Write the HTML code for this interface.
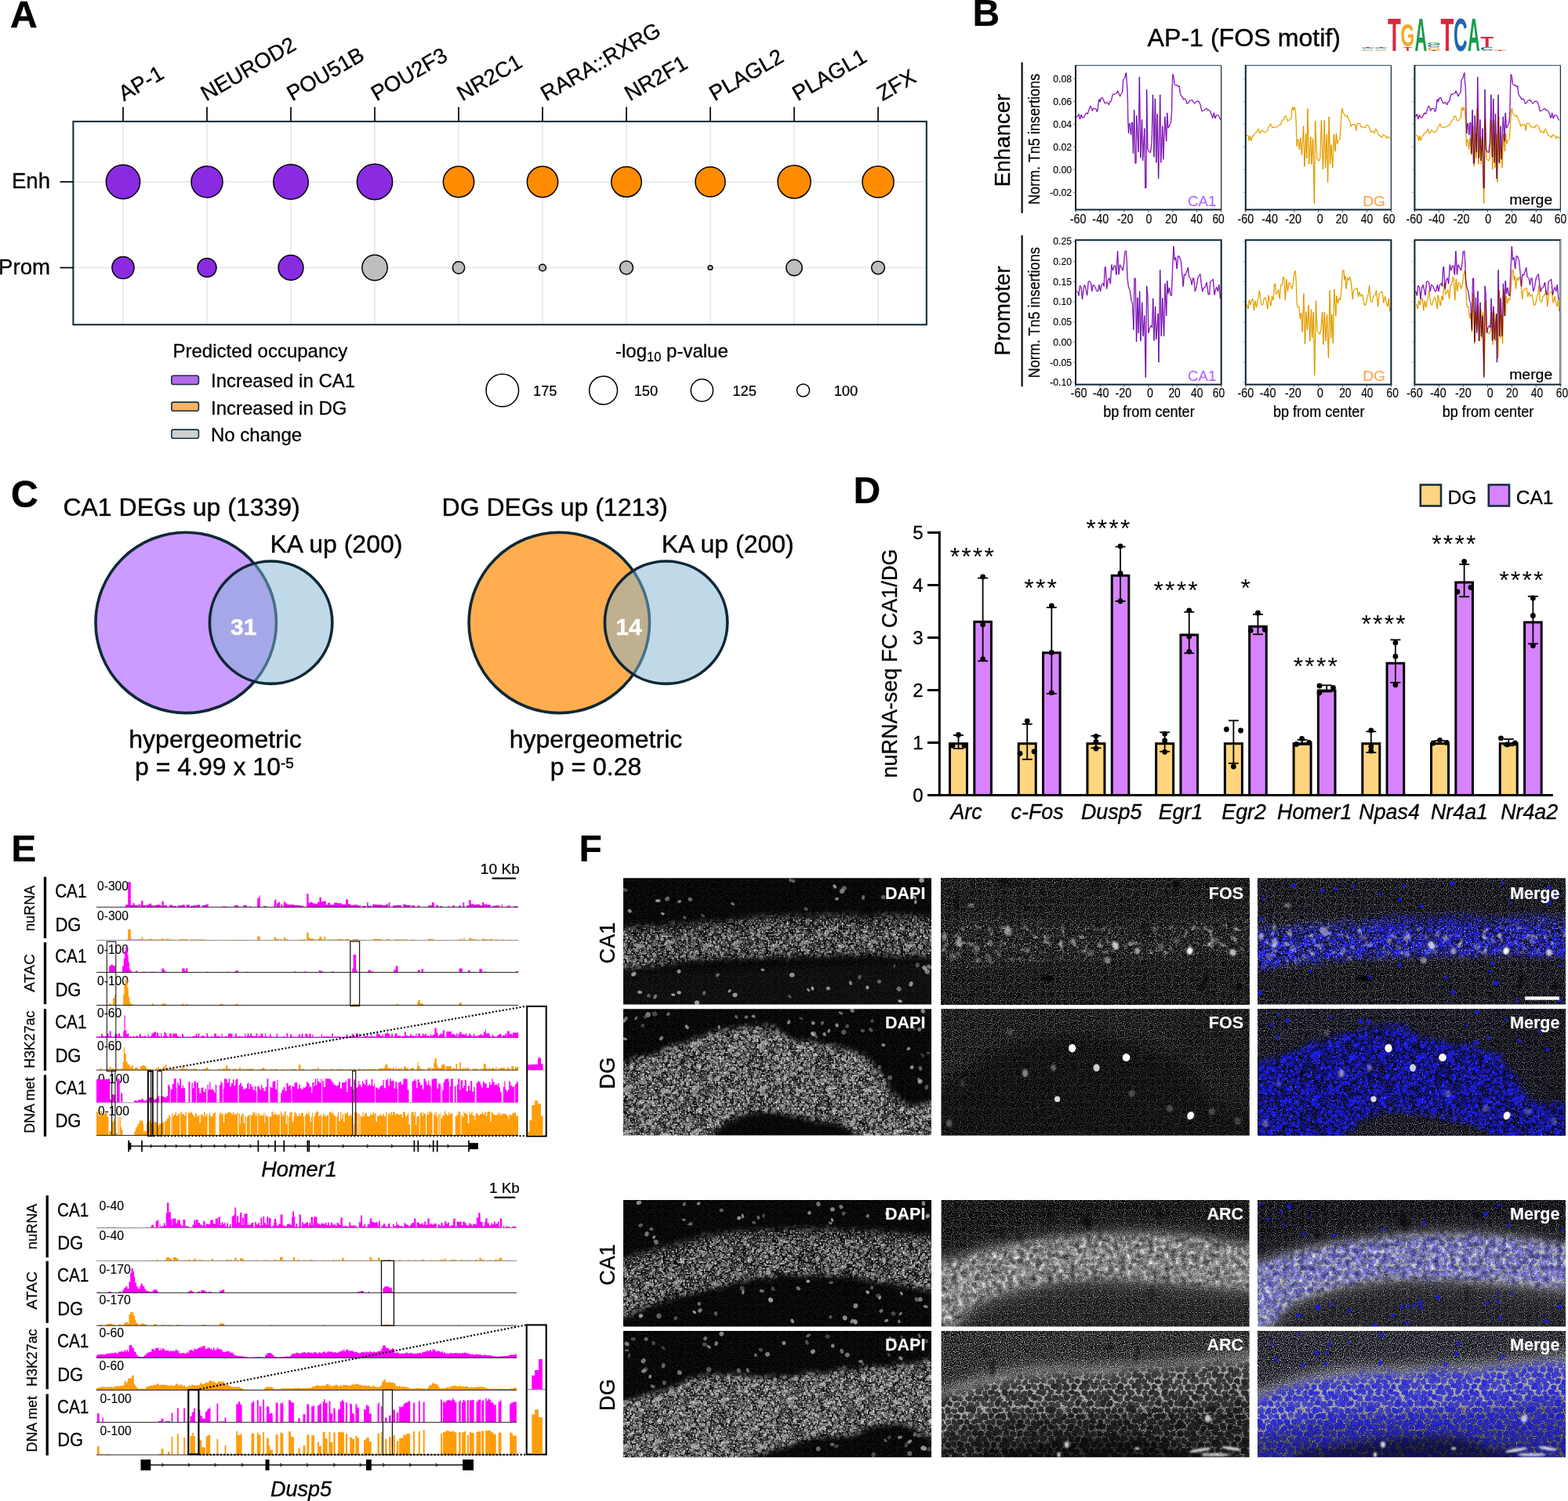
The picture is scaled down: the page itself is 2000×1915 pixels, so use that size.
<!DOCTYPE html>
<html lang="en"><head><meta charset="utf-8"><title>Figure</title>
<style>
html,body{margin:0;padding:0;background:#fff}
body{width:2000px;height:1915px;overflow:hidden}
svg{display:block;font-family:"Liberation Sans", Arial, Helvetica, sans-serif}
</style></head><body>
<svg xmlns="http://www.w3.org/2000/svg" width="2000" height="1915" viewBox="0 0 2000 1915">
<defs>
<path id="bc0" d="M1372.67 149.57 L1374.72 148.03 L1375.74 145.47 L1377.28 152.12 L1378.81 146.5 L1380.35 150.08 L1381.88 150.08 L1383.93 147.01 L1385.46 143.94 L1386.99 145.47 L1389.04 139.34 L1390.58 135.24 L1392.11 137.29 L1393.13 141.38 L1394.67 138.31 L1397.74 138.82 L1398.76 142.4 L1399.78 141.38 L1401.32 128.08 L1402.34 126.55 L1402.85 130.13 L1404.39 125.01 L1405.92 124.5 L1407.46 128.08 L1409.5 132.17 L1411.04 130.64 L1412.57 131.15 L1414.1 133.71 L1415.64 129.62 L1417.17 129.1 L1418.71 121.94 L1419.73 119.9 L1421.27 120.41 L1422.8 119.39 L1424.85 118.36 L1425.36 115.81 L1426.89 119.39 L1428.43 122.97 L1429.96 119.39 L1431.5 117.85 L1432.52 101.99 L1433.54 100.46 L1434.57 98.93 L1435.59 94.32 L1436.41 92.79 L1436.92 104.55 L1437.63 110.69 L1438.15 129.1 L1438.66 153.66 L1439.37 170.03 L1439.68 160.82 L1440.7 157.24 L1442.44 172.07 L1443.26 156.73 L1444.28 156.21 L1445.31 195.6 L1446.53 140.36 L1447.86 208.39 L1448.89 207.88 L1449.6 147.52 L1451.96 194.07 L1453.18 98.41 L1454.82 201.23 L1456.36 152.63 L1457.58 204.81 L1459.63 163.89 L1460.65 240.1 L1461.68 239.59 L1462.49 114.27 L1463.72 190.49 L1465.26 193.55 L1467.3 194.58 L1468.84 182.3 L1470.37 120.92 L1471.91 200.2 L1473.24 126.04 L1474.67 207.37 L1476 145.47 L1477.53 227.83 L1479.58 120.92 L1480.6 207.37 L1482.65 160.82 L1483.67 203.27 L1485.72 149.05 L1487.56 180.26 L1488.58 143.94 L1489.81 163.38 L1491.34 160.82 L1493.39 155.7 L1494.41 141.38 L1494.92 112.74 L1495.64 94.83 L1496.46 96.37 L1496.97 99.44 L1497.99 107.62 L1499.53 109.16 L1501.06 108.13 L1502.6 110.69 L1504.13 109.67 L1505.15 119.39 L1506.69 122.97 L1508.22 123.99 L1509.25 127.06 L1510.78 126.04 L1512.31 127.06 L1513.85 132.17 L1515.38 131.66 L1516.92 128.59 L1518.45 128.08 L1520.5 127.57 L1522.03 130.64 L1523.57 132.17 L1525.61 129.62 L1527.66 129.1 L1529.19 129.62 L1530.73 133.2 L1532.77 141.89 L1534.31 141.38 L1535.84 140.36 L1537.89 138.82 L1538.91 138.31 L1540.45 140.87 L1541.98 140.36 L1543.52 141.89 L1545.05 146.5 L1546.59 150.59 L1548.12 143.94 L1549.65 151.1 L1551.19 147.01 L1553.24 147.01 L1554.77 148.54 L1556.3 152.63 L1557.33 153.15"/>
<path id="bd0" d="M1589.16 173.09 L1591.21 172.58 L1592.23 174.12 L1593.25 179.74 L1594.28 173.61 L1595.81 179.23 L1597.35 173.61 L1598.88 173.09 L1600.41 170.03 L1602.46 169 L1603.99 165.93 L1605.02 164.4 L1606.55 170.03 L1608.09 169 L1609.11 165.93 L1610.64 166.96 L1612.69 169 L1614.74 167.98 L1616.27 166.96 L1617.81 161.84 L1619.34 160.82 L1620.36 157.75 L1621.39 160.82 L1622.92 162.86 L1624.46 162.35 L1625.99 162.86 L1627.52 161.33 L1629.06 161.84 L1631.1 159.8 L1633.15 159.28 L1635.2 153.66 L1637.24 152.63 L1638.78 148.03 L1640.31 148.54 L1641.85 153.66 L1643.38 154.17 L1644.92 152.63 L1646.96 150.08 L1647.47 140.36 L1648.5 136.78 L1649.52 140.87 L1651.05 136.78 L1652.08 141.38 L1653.1 155.7 L1653.61 175.14 L1654.12 186.39 L1654.84 178.21 L1656.17 178.72 L1657.19 190.49 L1658.73 176.16 L1660.26 197.65 L1662.51 160.82 L1663.84 212.48 L1665.68 170.54 L1666.6 201.74 L1667.93 138.82 L1669.47 209.41 L1671.82 174.63 L1672.84 209.41 L1674.58 176.68 L1676.32 259.54 L1677.45 154.17 L1679.7 202.76 L1682.26 205.32 L1683.79 200.72 L1685.32 153.66 L1687.37 216.06 L1689.21 153.66 L1690.44 214.02 L1692.28 171.05 L1693.51 232.43 L1695.04 149.05 L1696.37 208.9 L1697.91 184.86 L1699.65 214.02 L1701.18 171.05 L1703.02 193.04 L1704.25 170.54 L1705.58 183.32 L1706.81 179.23 L1708.85 177.19 L1710.08 159.8 L1711.1 141.38 L1712.13 138.31 L1712.95 143.94 L1714.48 145.98 L1716.02 148.54 L1718.06 147.01 L1719.6 151.61 L1721.64 155.19 L1723.18 161.33 L1724.71 158.77 L1726.25 159.28 L1728.29 158.77 L1729.83 166.45 L1730.85 157.75 L1732.38 157.24 L1734.43 157.75 L1735.45 161.33 L1737.5 162.35 L1739.54 161.84 L1741.08 163.38 L1742.61 159.8 L1744.66 159.8 L1746.19 161.33 L1747.73 166.96 L1748.75 169 L1750.8 166.96 L1752.84 170.03 L1754.38 164.4 L1755.91 165.93 L1757.45 171.05 L1758.98 173.09 L1761.03 173.61 L1762.56 175.65 L1764.1 171.56 L1766.14 173.09 L1767.68 174.12 L1768.7 176.68 L1770.24 174.12 L1771.77 175.14 L1773.3 177.19"/>
<path id="bc1" d="M1373.18 371.57 L1374.72 372.59 L1375.74 377.19 L1377.28 364.4 L1378.81 366.45 L1380.35 381.8 L1381.88 367.47 L1383.41 363.38 L1384.95 369.52 L1386.48 376.68 L1388.02 359.29 L1389.55 358.78 L1391.09 360.31 L1392.62 371.57 L1394.16 363.38 L1395.69 364.4 L1397.23 367.47 L1398.76 371.57 L1400.29 371.57 L1401.83 363.38 L1403.36 371.57 L1404.9 363.38 L1406.94 361.34 L1407.97 365.43 L1408.99 341.9 L1410.01 340.36 L1411.55 368.5 L1413.08 357.24 L1414.62 354.69 L1416.15 361.85 L1417.69 337.81 L1419.22 344.97 L1420.75 339.85 L1422.29 338.83 L1423.82 350.59 L1425.36 320.41 L1426.89 350.08 L1428.22 337.81 L1429.96 340.87 L1432.01 344.97 L1433.54 334.74 L1434.57 321.44 L1436.1 319.9 L1437.12 332.69 L1437.84 355.2 L1439.17 365.43 L1441.21 371.57 L1442.75 382.82 L1444.28 386.91 L1445.82 420.67 L1446.84 355.2 L1448.07 355.2 L1449.4 436.02 L1450.93 379.75 L1452.16 424.76 L1453.49 371.57 L1454.82 434.99 L1456.56 385.89 L1457.89 428.85 L1459.63 402.77 L1461.16 481.54 L1462.49 364.92 L1463.72 376.68 L1464.74 424.76 L1466.28 418.62 L1467.81 415.55 L1469.35 417.6 L1470.58 380.77 L1471.91 434.48 L1473.44 391 L1474.67 432.95 L1477.02 400.21 L1477.84 462.1 L1479.58 344.46 L1481.11 428.85 L1482.65 380.26 L1484.49 428.85 L1485.92 361.85 L1487.56 402.77 L1488.58 358.27 L1489.81 374.63 L1491.34 366.96 L1492.88 376.68 L1494.1 377.19 L1495.43 342.92 L1496.76 314.28 L1497.99 331.67 L1499.53 328.6 L1501.06 342.92 L1502.6 326.55 L1504.13 327.06 L1506.18 333.71 L1507.71 350.08 L1509.04 365.43 L1510.27 350.08 L1511.8 351.1 L1513.34 347.01 L1515.18 341.39 L1516.41 353.15 L1518.45 355.2 L1519.99 363.38 L1521.52 354.69 L1522.54 355.2 L1524.08 371.57 L1525.61 367.47 L1527.66 355.2 L1529.19 351.62 L1530.73 349.57 L1532.26 363.38 L1533.59 372.08 L1534.82 367.47 L1536.87 366.96 L1538.91 360.31 L1540.96 375.66 L1542.49 375.66 L1543.52 359.29 L1545.05 358.27 L1547.1 356.22 L1548.94 376.17 L1550.17 369.52 L1551.7 366.45 L1553.24 371.57 L1554.77 363.38 L1556.3 380.77 L1557.33 381.8"/>
<path id="bd1" d="M1590.18 387.93 L1591.72 394.07 L1593.25 382.82 L1594.79 388.96 L1596.32 382.82 L1597.86 380.77 L1599.39 396.12 L1600.93 383.84 L1602.46 392.03 L1603.99 382.82 L1605.02 379.75 L1606.35 370.54 L1607.58 381.8 L1609.11 388.96 L1610.64 388.96 L1612.18 380.77 L1613.71 379.24 L1615.25 384.86 L1616.78 394.07 L1617.81 376.68 L1619.34 383.84 L1620.87 389.98 L1622.41 377.7 L1623.94 382.82 L1625.48 362.36 L1626.5 362.36 L1627.52 375.66 L1629.06 373.61 L1630.59 369.52 L1632.13 381.28 L1633.66 363.38 L1635.2 363.38 L1636.73 353.15 L1637.75 355.2 L1639.29 382.82 L1640.82 356.22 L1642.36 371.57 L1643.89 360.31 L1645.43 361.34 L1647.47 368.5 L1649.01 363.38 L1650.34 350.08 L1652.08 345.48 L1653.1 359.29 L1654.12 386.91 L1655.15 392.03 L1656.68 391.51 L1658.21 406.35 L1659.75 399.19 L1660.98 423.74 L1662.82 374.63 L1664.35 438.57 L1665.89 397.65 L1667.42 420.67 L1668.96 389.47 L1670.8 434.99 L1672.23 395.09 L1673.56 430.9 L1675.09 398.16 L1676.63 478.98 L1678.37 383.84 L1680.01 421.69 L1681.74 424.76 L1683.28 426.3 L1684.81 420.67 L1686.55 398.16 L1687.88 439.6 L1689.21 398.16 L1690.95 434.99 L1692.49 401.23 L1694.33 456.48 L1696.07 370.54 L1697.4 431.41 L1698.62 401.23 L1700.16 438.06 L1701.69 369.01 L1703.74 403.28 L1704.76 377.7 L1706.3 386.91 L1707.83 380.77 L1709.37 382.82 L1710.9 368.5 L1712.43 344.97 L1713.76 344.46 L1714.79 357.24 L1715.81 352.13 L1717.04 368.5 L1718.57 354.17 L1720.11 357.75 L1721.64 353.15 L1723.18 359.29 L1725.22 381.8 L1726.25 370.54 L1727.78 369.52 L1729.31 368.5 L1730.85 367.47 L1732.38 378.73 L1733.92 372.59 L1735.45 378.21 L1737.5 375.66 L1739.03 382.82 L1740.57 389.98 L1742.1 387.93 L1743.64 380.77 L1745.17 374.63 L1746.5 364.4 L1747.73 382.82 L1749.77 385.89 L1751.82 377.7 L1753.87 376.68 L1755.4 370.54 L1757.45 391 L1758.98 375.66 L1761.03 372.59 L1763.07 372.59 L1764.61 386.4 L1766.65 378.21 L1768.19 386.4 L1769.72 391 L1771.26 380.77 L1772.49 397.14 L1773.1 393.05"/>
<g id="pcg"><g fill="#fff"><circle cx="-1.08" cy="1.65" r="2.32" fill-opacity="0.49"/><circle cx="-1.08" cy="57.65" r="2.32" fill-opacity="0.49"/><circle cx="84.92" cy="1.65" r="2.32" fill-opacity="0.49"/><circle cx="84.92" cy="57.65" r="2.32" fill-opacity="0.49"/><circle cx="6.16" cy="2.55" r="2.6" fill-opacity="0.35"/><circle cx="6.16" cy="58.55" r="2.6" fill-opacity="0.35"/><circle cx="9.69" cy="2.16" r="2.79" fill-opacity="0.34"/><circle cx="9.69" cy="58.16" r="2.79" fill-opacity="0.34"/><circle cx="16.07" cy="1.45" r="2.24" fill-opacity="0.38"/><circle cx="16.07" cy="57.45" r="2.24" fill-opacity="0.38"/><circle cx="22.11" cy="1.33" r="2.58" fill-opacity="0.44"/><circle cx="22.11" cy="57.33" r="2.58" fill-opacity="0.44"/><circle cx="26.59" cy="2.38" r="2.42" fill-opacity="0.23"/><circle cx="26.59" cy="58.38" r="2.42" fill-opacity="0.23"/><circle cx="32.07" cy="2.56" r="2.36" fill-opacity="0.48"/><circle cx="32.07" cy="58.56" r="2.36" fill-opacity="0.48"/><circle cx="38.24" cy="3.52" r="2.32" fill-opacity="0.43"/><circle cx="42.44" cy="2.72" r="2.4" fill-opacity="0.54"/><circle cx="42.44" cy="58.72" r="2.4" fill-opacity="0.54"/><circle cx="48.89" cy="1.79" r="2.33" fill-opacity="0.19"/><circle cx="48.89" cy="57.79" r="2.33" fill-opacity="0.19"/><circle cx="52.45" cy="3.56" r="2.54" fill-opacity="0.27"/><circle cx="58.6" cy="1.85" r="2.61" fill-opacity="0.47"/><circle cx="58.6" cy="57.85" r="2.61" fill-opacity="0.47"/><circle cx="65.52" cy="2.55" r="2.59" fill-opacity="0.14"/><circle cx="65.52" cy="58.55" r="2.59" fill-opacity="0.14"/><circle cx="80.3" cy="1.27" r="2.67" fill-opacity="0.28"/><circle cx="80.3" cy="57.27" r="2.67" fill-opacity="0.28"/><circle cx="3.1" cy="8.12" r="2.47" fill-opacity="0.21"/><circle cx="12.91" cy="7.63" r="2.71" fill-opacity="0.27"/><circle cx="19.39" cy="6.27" r="2.36" fill-opacity="0.44"/><circle cx="25.05" cy="7.41" r="2.43" fill-opacity="0.34"/><circle cx="30.04" cy="7.83" r="2.54" fill-opacity="0.38"/><circle cx="34.75" cy="7.67" r="2.74" fill-opacity="0.53"/><circle cx="46.6" cy="6.72" r="2.22" fill-opacity="0.28"/><circle cx="51.01" cy="6.08" r="2.61" fill-opacity="0.36"/><circle cx="56.95" cy="6.46" r="2.69" fill-opacity="0.38"/><circle cx="62.78" cy="6.42" r="2.67" fill-opacity="0.14"/><circle cx="67.35" cy="6.74" r="2.67" fill-opacity="0.14"/><circle cx="72.86" cy="6.21" r="2.5" fill-opacity="0.43"/><circle cx="77.11" cy="7.64" r="2.22" fill-opacity="0.24"/><circle cx="-2.03" cy="7.17" r="2.41" fill-opacity="0.2"/><circle cx="83.97" cy="7.17" r="2.41" fill-opacity="0.2"/><circle cx="6.29" cy="10.81" r="2.76" fill-opacity="0.14"/><circle cx="11.96" cy="11.99" r="2.75" fill-opacity="0.42"/><circle cx="16.4" cy="12.89" r="2.59" fill-opacity="0.17"/><circle cx="22.25" cy="12.42" r="2.36" fill-opacity="0.5"/><circle cx="25.72" cy="11.33" r="2.66" fill-opacity="0.28"/><circle cx="31.17" cy="10.87" r="2.79" fill-opacity="0.28"/><circle cx="36.88" cy="12.6" r="2.3" fill-opacity="0.17"/><circle cx="42.03" cy="11.14" r="2.24" fill-opacity="0.38"/><circle cx="48.36" cy="12.58" r="2.6" fill-opacity="0.44"/><circle cx="54.96" cy="12.21" r="2.43" fill-opacity="0.29"/><circle cx="58.38" cy="11.78" r="2.62" fill-opacity="0.46"/><circle cx="65.04" cy="10.5" r="2.39" fill-opacity="0.14"/><circle cx="70.34" cy="11.32" r="2.64" fill-opacity="0.52"/><circle cx="75.48" cy="12.11" r="2.24" fill-opacity="0.29"/><circle cx="81.06" cy="11.73" r="2.5" fill-opacity="0.27"/><circle cx="2.83" cy="15.55" r="2.72" fill-opacity="0.18"/><circle cx="88.83" cy="15.55" r="2.72" fill-opacity="0.18"/><circle cx="8.05" cy="15.36" r="2.29" fill-opacity="0.2"/><circle cx="13.39" cy="16.43" r="2.35" fill-opacity="0.47"/><circle cx="19.53" cy="16.06" r="2.31" fill-opacity="0.39"/><circle cx="22.94" cy="16.41" r="2.24" fill-opacity="0.55"/><circle cx="28.8" cy="16.96" r="2.28" fill-opacity="0.33"/><circle cx="41.38" cy="16.06" r="2.25" fill-opacity="0.14"/><circle cx="45.29" cy="15.94" r="2.51" fill-opacity="0.52"/><circle cx="51.01" cy="15.28" r="2.64" fill-opacity="0.13"/><circle cx="56.56" cy="17.43" r="2.24" fill-opacity="0.12"/><circle cx="61.98" cy="16.97" r="2.38" fill-opacity="0.44"/><circle cx="68.35" cy="17.22" r="2.67" fill-opacity="0.4"/><circle cx="73.2" cy="17.15" r="2.48" fill-opacity="0.49"/><circle cx="78.77" cy="15.69" r="2.55" fill-opacity="0.34"/><circle cx="-2.73" cy="15.92" r="2.59" fill-opacity="0.2"/><circle cx="83.27" cy="15.92" r="2.59" fill-opacity="0.2"/><circle cx="-0.62" cy="21.19" r="2.59" fill-opacity="0.25"/><circle cx="85.38" cy="21.19" r="2.59" fill-opacity="0.25"/><circle cx="4.9" cy="21.31" r="2.26" fill-opacity="0.47"/><circle cx="10.96" cy="19.97" r="2.7" fill-opacity="0.42"/><circle cx="15.98" cy="20.71" r="2.23" fill-opacity="0.5"/><circle cx="22.04" cy="19.93" r="2.61" fill-opacity="0.17"/><circle cx="26.01" cy="21.03" r="2.29" fill-opacity="0.53"/><circle cx="32" cy="21.43" r="2.52" fill-opacity="0.4"/><circle cx="37.19" cy="20.21" r="2.5" fill-opacity="0.16"/><circle cx="44.12" cy="20.33" r="2.37" fill-opacity="0.19"/><circle cx="47.46" cy="20.43" r="2.24" fill-opacity="0.13"/><circle cx="53.33" cy="20.29" r="2.79" fill-opacity="0.43"/><circle cx="59.22" cy="22.14" r="2.32" fill-opacity="0.17"/><circle cx="63.53" cy="20.78" r="2.59" fill-opacity="0.48"/><circle cx="70.31" cy="22" r="2.71" fill-opacity="0.47"/><circle cx="76.55" cy="20.07" r="2.4" fill-opacity="0.32"/><circle cx="80.72" cy="21.99" r="2.55" fill-opacity="0.14"/><circle cx="1.53" cy="25.9" r="2.3" fill-opacity="0.33"/><circle cx="87.53" cy="25.9" r="2.3" fill-opacity="0.33"/><circle cx="7.21" cy="26.36" r="2.2" fill-opacity="0.3"/><circle cx="14.58" cy="25.77" r="2.52" fill-opacity="0.17"/><circle cx="17.54" cy="24.53" r="2.38" fill-opacity="0.15"/><circle cx="23.97" cy="26.57" r="2.6" fill-opacity="0.25"/><circle cx="28.88" cy="26.11" r="2.67" fill-opacity="0.13"/><circle cx="34.69" cy="25.06" r="2.37" fill-opacity="0.37"/><circle cx="40.84" cy="25.17" r="2.54" fill-opacity="0.15"/><circle cx="45.35" cy="26.36" r="2.3" fill-opacity="0.44"/><circle cx="51.05" cy="26.4" r="2.38" fill-opacity="0.5"/><circle cx="56.48" cy="24.78" r="2.21" fill-opacity="0.28"/><circle cx="61.67" cy="26.64" r="2.77" fill-opacity="0.34"/><circle cx="67.36" cy="26.88" r="2.56" fill-opacity="0.13"/><circle cx="71.27" cy="25.25" r="2.39" fill-opacity="0.16"/><circle cx="78.64" cy="26.15" r="2.7" fill-opacity="0.51"/><circle cx="-2.53" cy="26.09" r="2.8" fill-opacity="0.49"/><circle cx="83.47" cy="26.09" r="2.8" fill-opacity="0.49"/><circle cx="0.98" cy="30.81" r="2.23" fill-opacity="0.19"/><circle cx="86.98" cy="30.81" r="2.23" fill-opacity="0.19"/><circle cx="5.5" cy="30.5" r="2.32" fill-opacity="0.2"/><circle cx="11.18" cy="29.88" r="2.73" fill-opacity="0.14"/><circle cx="16.57" cy="30.63" r="2.47" fill-opacity="0.44"/><circle cx="22.24" cy="30.28" r="2.77" fill-opacity="0.2"/><circle cx="25.65" cy="30.43" r="2.5" fill-opacity="0.34"/><circle cx="33.18" cy="30.7" r="2.38" fill-opacity="0.16"/><circle cx="38" cy="30.05" r="2.7" fill-opacity="0.49"/><circle cx="42.63" cy="30.9" r="2.79" fill-opacity="0.54"/><circle cx="47.28" cy="31.29" r="2.27" fill-opacity="0.48"/><circle cx="54.73" cy="31.54" r="2.59" fill-opacity="0.53"/><circle cx="58.18" cy="29.33" r="2.51" fill-opacity="0.15"/><circle cx="65.52" cy="30.08" r="2.75" fill-opacity="0.16"/><circle cx="69.28" cy="30.03" r="2.22" fill-opacity="0.33"/><circle cx="75.66" cy="29.45" r="2.52" fill-opacity="0.5"/><circle cx="80.59" cy="30.75" r="2.58" fill-opacity="0.38"/><circle cx="3.26" cy="33.73" r="2.24" fill-opacity="0.16"/><circle cx="8.87" cy="34.83" r="2.33" fill-opacity="0.3"/><circle cx="13.27" cy="35.16" r="2.56" fill-opacity="0.23"/><circle cx="18.24" cy="36.01" r="2.28" fill-opacity="0.4"/><circle cx="23.44" cy="35.11" r="2.28" fill-opacity="0.24"/><circle cx="28.7" cy="35.3" r="2.57" fill-opacity="0.25"/><circle cx="35.98" cy="35.99" r="2.36" fill-opacity="0.4"/><circle cx="39.36" cy="35.32" r="2.77" fill-opacity="0.43"/><circle cx="46.71" cy="34.22" r="2.55" fill-opacity="0.12"/><circle cx="50.84" cy="35.55" r="2.64" fill-opacity="0.27"/><circle cx="57.06" cy="34.87" r="2.27" fill-opacity="0.4"/><circle cx="62.17" cy="35.44" r="2.77" fill-opacity="0.15"/><circle cx="66.81" cy="35.4" r="2.66" fill-opacity="0.29"/><circle cx="72.76" cy="35.51" r="2.4" fill-opacity="0.16"/><circle cx="77.97" cy="34.57" r="2.73" fill-opacity="0.45"/><circle cx="-2.86" cy="36.1" r="2.6" fill-opacity="0.46"/><circle cx="83.14" cy="36.1" r="2.6" fill-opacity="0.46"/><circle cx="-0.81" cy="38.75" r="2.23" fill-opacity="0.19"/><circle cx="85.19" cy="38.75" r="2.23" fill-opacity="0.19"/><circle cx="4.11" cy="40.58" r="2.37" fill-opacity="0.45"/><circle cx="12.02" cy="38.98" r="2.72" fill-opacity="0.15"/><circle cx="15.52" cy="38.88" r="2.73" fill-opacity="0.22"/><circle cx="21.76" cy="39.63" r="2.2" fill-opacity="0.49"/><circle cx="27.71" cy="38.91" r="2.64" fill-opacity="0.46"/><circle cx="38.43" cy="40.45" r="2.26" fill-opacity="0.19"/><circle cx="44.07" cy="39.66" r="2.35" fill-opacity="0.4"/><circle cx="48.66" cy="39.83" r="2.57" fill-opacity="0.45"/><circle cx="52.94" cy="39.67" r="2.44" fill-opacity="0.24"/><circle cx="60.23" cy="40.73" r="2.59" fill-opacity="0.52"/><circle cx="63.26" cy="40.09" r="2.46" fill-opacity="0.25"/><circle cx="69.42" cy="38.72" r="2.58" fill-opacity="0.15"/><circle cx="74.31" cy="40.43" r="2.3" fill-opacity="0.33"/><circle cx="81.82" cy="39.72" r="2.3" fill-opacity="0.35"/><circle cx="2.38" cy="44.36" r="2.4" fill-opacity="0.48"/><circle cx="88.38" cy="44.36" r="2.4" fill-opacity="0.48"/><circle cx="8.92" cy="44.97" r="2.23" fill-opacity="0.42"/><circle cx="12.3" cy="43.59" r="2.65" fill-opacity="0.52"/><circle cx="19.77" cy="44.32" r="2.69" fill-opacity="0.4"/><circle cx="24.6" cy="45.05" r="2.5" fill-opacity="0.55"/><circle cx="29.92" cy="44.94" r="2.45" fill-opacity="0.32"/><circle cx="35.06" cy="43.63" r="2.24" fill-opacity="0.4"/><circle cx="44.41" cy="44.83" r="2.47" fill-opacity="0.36"/><circle cx="52.05" cy="43.63" r="2.56" fill-opacity="0.13"/><circle cx="55.26" cy="44.07" r="2.64" fill-opacity="0.3"/><circle cx="61.37" cy="44.23" r="2.53" fill-opacity="0.36"/><circle cx="67" cy="45.48" r="2.79" fill-opacity="0.12"/><circle cx="71.57" cy="45.49" r="2.25" fill-opacity="0.21"/><circle cx="82.88" cy="44.92" r="2.29" fill-opacity="0.32"/><circle cx="-1.29" cy="48.86" r="2.48" fill-opacity="0.23"/><circle cx="84.71" cy="48.86" r="2.48" fill-opacity="0.23"/><circle cx="5.84" cy="49.33" r="2.45" fill-opacity="0.25"/><circle cx="11.55" cy="48.1" r="2.45" fill-opacity="0.15"/><circle cx="15.87" cy="49.3" r="2.78" fill-opacity="0.36"/><circle cx="20.27" cy="49.87" r="2.75" fill-opacity="0.28"/><circle cx="26.66" cy="48.34" r="2.35" fill-opacity="0.52"/><circle cx="31.53" cy="49.39" r="2.38" fill-opacity="0.28"/><circle cx="36.45" cy="48.34" r="2.43" fill-opacity="0.41"/><circle cx="42.49" cy="48.37" r="2.23" fill-opacity="0.48"/><circle cx="48.97" cy="49.24" r="2.33" fill-opacity="0.54"/><circle cx="54.8" cy="49.52" r="2.63" fill-opacity="0.17"/><circle cx="58.59" cy="48.54" r="2.65" fill-opacity="0.36"/><circle cx="70.15" cy="49.6" r="2.45" fill-opacity="0.21"/><circle cx="74.72" cy="48.59" r="2.26" fill-opacity="0.28"/><circle cx="1.61" cy="52.55" r="2.28" fill-opacity="0.27"/><circle cx="87.61" cy="52.55" r="2.28" fill-opacity="0.27"/><circle cx="8.74" cy="-2.34" r="2.48" fill-opacity="0.27"/><circle cx="8.74" cy="53.66" r="2.48" fill-opacity="0.27"/><circle cx="13.24" cy="-1.99" r="2.31" fill-opacity="0.55"/><circle cx="13.24" cy="54.01" r="2.31" fill-opacity="0.55"/><circle cx="19.49" cy="52.55" r="2.79" fill-opacity="0.26"/><circle cx="25.39" cy="-1.14" r="2.7" fill-opacity="0.19"/><circle cx="25.39" cy="54.86" r="2.7" fill-opacity="0.19"/><circle cx="29.35" cy="-2.41" r="2.73" fill-opacity="0.21"/><circle cx="29.35" cy="53.59" r="2.73" fill-opacity="0.21"/><circle cx="34.35" cy="-2.11" r="2.54" fill-opacity="0.49"/><circle cx="34.35" cy="53.89" r="2.54" fill-opacity="0.49"/><circle cx="39.55" cy="-2.24" r="2.49" fill-opacity="0.36"/><circle cx="39.55" cy="53.76" r="2.49" fill-opacity="0.36"/><circle cx="46.74" cy="-2.32" r="2.29" fill-opacity="0.52"/><circle cx="46.74" cy="53.68" r="2.29" fill-opacity="0.52"/><circle cx="51.91" cy="52.83" r="2.34" fill-opacity="0.39"/><circle cx="57.43" cy="52.69" r="2.59" fill-opacity="0.15"/><circle cx="66.67" cy="52.68" r="2.26" fill-opacity="0.33"/><circle cx="71.49" cy="-1.57" r="2.55" fill-opacity="0.51"/><circle cx="71.49" cy="54.43" r="2.55" fill-opacity="0.51"/><circle cx="76.69" cy="52.51" r="2.47" fill-opacity="0.17"/><circle cx="-1.53" cy="-1.6" r="2.6" fill-opacity="0.54"/><circle cx="-1.53" cy="54.4" r="2.6" fill-opacity="0.54"/><circle cx="84.47" cy="-1.6" r="2.6" fill-opacity="0.54"/><circle cx="84.47" cy="54.4" r="2.6" fill-opacity="0.54"/></g></g>
<pattern id="pc" patternUnits="userSpaceOnUse" width="86" height="56"><use href="#pcg"/></pattern>
<g id="phg"><g fill="#000"><circle cx="1.39" cy="2.37" r="3.87" fill-opacity="0.76"/><circle cx="1.39" cy="76.37" r="3.87" fill-opacity="0.76"/><circle cx="103.39" cy="2.37" r="3.87" fill-opacity="0.76"/><circle cx="103.39" cy="76.37" r="3.87" fill-opacity="0.76"/><circle cx="8.83" cy="3.66" r="4.2" fill-opacity="0.77"/><circle cx="8.83" cy="77.66" r="4.2" fill-opacity="0.77"/><circle cx="17.81" cy="2.24" r="3.9" fill-opacity="0.98"/><circle cx="17.81" cy="76.24" r="3.9" fill-opacity="0.98"/><circle cx="26.01" cy="4.05" r="4.17" fill-opacity="0.83"/><circle cx="26.01" cy="78.05" r="4.17" fill-opacity="0.83"/><circle cx="33.59" cy="2.5" r="3.65" fill-opacity="0.94"/><circle cx="33.59" cy="76.5" r="3.65" fill-opacity="0.94"/><circle cx="43.09" cy="2.25" r="4.08" fill-opacity="0.76"/><circle cx="43.09" cy="76.25" r="4.08" fill-opacity="0.76"/><circle cx="50.48" cy="2.19" r="4.15" fill-opacity="0.94"/><circle cx="50.48" cy="76.19" r="4.15" fill-opacity="0.94"/><circle cx="58.88" cy="2.9" r="3.76" fill-opacity="0.99"/><circle cx="58.88" cy="76.9" r="3.76" fill-opacity="0.99"/><circle cx="68.38" cy="4.29" r="3.63" fill-opacity="0.77"/><circle cx="77.17" cy="3.41" r="4.14" fill-opacity="0.78"/><circle cx="77.17" cy="77.41" r="4.14" fill-opacity="0.78"/><circle cx="85.81" cy="4.21" r="4.04" fill-opacity="0.8"/><circle cx="85.81" cy="78.21" r="4.04" fill-opacity="0.8"/><circle cx="93.61" cy="4.59" r="3.9" fill-opacity="0.76"/><circle cx="5.76" cy="11.04" r="3.59" fill-opacity="0.79"/><circle cx="14.23" cy="11.49" r="3.85" fill-opacity="0.95"/><circle cx="20.89" cy="11.03" r="3.57" fill-opacity="0.86"/><circle cx="30.25" cy="10.51" r="3.71" fill-opacity="0.8"/><circle cx="39.6" cy="10.73" r="3.56" fill-opacity="0.85"/><circle cx="47.15" cy="12.25" r="4.1" fill-opacity="0.78"/><circle cx="56.3" cy="11.65" r="3.84" fill-opacity="0.92"/><circle cx="64.44" cy="11.92" r="3.64" fill-opacity="0.86"/><circle cx="72.53" cy="10.88" r="3.71" fill-opacity="0.92"/><circle cx="82.03" cy="10.01" r="3.79" fill-opacity="0.94"/><circle cx="88.06" cy="10.5" r="3.92" fill-opacity="0.95"/><circle cx="96.9" cy="12.62" r="3.52" fill-opacity="0.75"/><circle cx="0.1" cy="19.73" r="4.07" fill-opacity="0.93"/><circle cx="102.1" cy="19.73" r="4.07" fill-opacity="0.93"/><circle cx="8.67" cy="17.59" r="3.68" fill-opacity="0.99"/><circle cx="18.2" cy="19.72" r="3.8" fill-opacity="0.99"/><circle cx="24.3" cy="19.35" r="3.68" fill-opacity="0.93"/><circle cx="34.22" cy="17.47" r="4.1" fill-opacity="0.98"/><circle cx="41.98" cy="19.25" r="3.55" fill-opacity="0.83"/><circle cx="50" cy="18.84" r="3.95" fill-opacity="0.89"/><circle cx="59.61" cy="18.6" r="3.67" fill-opacity="0.78"/><circle cx="66.98" cy="19.54" r="3.64" fill-opacity="0.97"/><circle cx="76.63" cy="19.11" r="3.67" fill-opacity="0.89"/><circle cx="85.41" cy="17.92" r="3.73" fill-opacity="0.75"/><circle cx="94.26" cy="18.17" r="3.91" fill-opacity="0.77"/><circle cx="5.6" cy="25.77" r="3.6" fill-opacity="0.85"/><circle cx="11.77" cy="25.79" r="3.92" fill-opacity="0.83"/><circle cx="20.91" cy="27.34" r="3.68" fill-opacity="0.91"/><circle cx="29.14" cy="27.15" r="3.94" fill-opacity="0.89"/><circle cx="36.73" cy="24.73" r="4.09" fill-opacity="0.95"/><circle cx="46.09" cy="26.67" r="3.66" fill-opacity="1"/><circle cx="55.58" cy="25.63" r="3.6" fill-opacity="0.75"/><circle cx="63.47" cy="26.99" r="3.82" fill-opacity="0.91"/><circle cx="71.34" cy="26.82" r="4.09" fill-opacity="0.98"/><circle cx="80.34" cy="26.52" r="4.11" fill-opacity="1"/><circle cx="90.26" cy="25.67" r="3.61" fill-opacity="0.89"/><circle cx="96.77" cy="25.07" r="3.98" fill-opacity="0.82"/><circle cx="-0.81" cy="32.01" r="3.7" fill-opacity="0.86"/><circle cx="101.19" cy="32.01" r="3.7" fill-opacity="0.86"/><circle cx="8.27" cy="33.76" r="4.14" fill-opacity="0.97"/><circle cx="16.64" cy="34.76" r="3.65" fill-opacity="0.83"/><circle cx="26.91" cy="34.19" r="4.12" fill-opacity="0.78"/><circle cx="34.94" cy="32.7" r="3.54" fill-opacity="0.96"/><circle cx="43.33" cy="31.87" r="4.16" fill-opacity="0.95"/><circle cx="49.46" cy="31.92" r="3.76" fill-opacity="0.91"/><circle cx="58.92" cy="34.03" r="4.17" fill-opacity="0.87"/><circle cx="66.5" cy="32.93" r="4.18" fill-opacity="0.82"/><circle cx="76.81" cy="34.41" r="3.55" fill-opacity="0.98"/><circle cx="85.2" cy="32.49" r="3.81" fill-opacity="0.97"/><circle cx="92.18" cy="33.32" r="3.65" fill-opacity="0.78"/><circle cx="5.23" cy="41.76" r="4.17" fill-opacity="0.89"/><circle cx="13.13" cy="39.68" r="3.51" fill-opacity="0.87"/><circle cx="19.89" cy="39.25" r="3.59" fill-opacity="0.76"/><circle cx="29.01" cy="40.81" r="3.9" fill-opacity="0.86"/><circle cx="37.13" cy="41.08" r="3.56" fill-opacity="0.81"/><circle cx="46.16" cy="41.63" r="3.86" fill-opacity="0.95"/><circle cx="55.35" cy="41.56" r="4.13" fill-opacity="0.84"/><circle cx="62.97" cy="40.92" r="3.68" fill-opacity="0.94"/><circle cx="73.49" cy="39.15" r="3.8" fill-opacity="0.82"/><circle cx="82.14" cy="40.99" r="3.78" fill-opacity="0.77"/><circle cx="90.84" cy="40.01" r="4.17" fill-opacity="0.89"/><circle cx="-4.28" cy="41.29" r="4.17" fill-opacity="0.9"/><circle cx="97.72" cy="41.29" r="4.17" fill-opacity="0.9"/><circle cx="0.3" cy="48.49" r="3.79" fill-opacity="0.82"/><circle cx="102.3" cy="48.49" r="3.79" fill-opacity="0.82"/><circle cx="9.67" cy="47.02" r="3.73" fill-opacity="0.82"/><circle cx="17.7" cy="47.92" r="3.78" fill-opacity="0.99"/><circle cx="26.82" cy="49.53" r="4.01" fill-opacity="0.97"/><circle cx="33.82" cy="47.64" r="3.68" fill-opacity="0.84"/><circle cx="43.78" cy="49.51" r="3.52" fill-opacity="0.77"/><circle cx="51.87" cy="49.39" r="3.57" fill-opacity="0.81"/><circle cx="60.93" cy="48.05" r="3.71" fill-opacity="0.86"/><circle cx="67.55" cy="46.68" r="4.06" fill-opacity="0.82"/><circle cx="76.3" cy="47.19" r="4.11" fill-opacity="0.75"/><circle cx="85.72" cy="48.46" r="3.58" fill-opacity="0.75"/><circle cx="94.9" cy="48.71" r="3.97" fill-opacity="0.87"/><circle cx="3.45" cy="55.1" r="4.17" fill-opacity="0.9"/><circle cx="105.45" cy="55.1" r="4.17" fill-opacity="0.9"/><circle cx="12.75" cy="55.62" r="3.5" fill-opacity="0.99"/><circle cx="22.66" cy="55.92" r="3.57" fill-opacity="0.86"/><circle cx="29.19" cy="54.78" r="4.16" fill-opacity="0.83"/><circle cx="38.49" cy="54.17" r="4.13" fill-opacity="0.83"/><circle cx="46.62" cy="56.77" r="3.54" fill-opacity="0.79"/><circle cx="56.59" cy="55.69" r="3.68" fill-opacity="0.92"/><circle cx="63.89" cy="54.96" r="3.6" fill-opacity="0.76"/><circle cx="72.53" cy="55.36" r="3.96" fill-opacity="0.97"/><circle cx="81.23" cy="56.95" r="3.99" fill-opacity="0.82"/><circle cx="90.07" cy="54.34" r="3.77" fill-opacity="0.96"/><circle cx="96.7" cy="56.11" r="4.09" fill-opacity="0.81"/><circle cx="1.52" cy="63.22" r="3.62" fill-opacity="0.81"/><circle cx="103.52" cy="63.22" r="3.62" fill-opacity="0.81"/><circle cx="9.58" cy="62.19" r="3.57" fill-opacity="0.98"/><circle cx="16.18" cy="64.44" r="3.81" fill-opacity="0.9"/><circle cx="26.71" cy="62.74" r="4" fill-opacity="0.95"/><circle cx="35.01" cy="63.36" r="3.54" fill-opacity="0.95"/><circle cx="43.4" cy="63.18" r="3.74" fill-opacity="0.76"/><circle cx="51.59" cy="64.32" r="3.89" fill-opacity="0.84"/><circle cx="59.28" cy="63.66" r="3.78" fill-opacity="0.92"/><circle cx="69.47" cy="61.43" r="3.51" fill-opacity="0.9"/><circle cx="75.71" cy="62.45" r="3.52" fill-opacity="0.86"/><circle cx="85.24" cy="62.76" r="3.98" fill-opacity="0.85"/><circle cx="94.92" cy="61.91" r="3.52" fill-opacity="0.88"/><circle cx="3.63" cy="68.95" r="4.08" fill-opacity="0.93"/><circle cx="105.63" cy="68.95" r="4.08" fill-opacity="0.93"/><circle cx="11.72" cy="-3.4" r="3.67" fill-opacity="0.82"/><circle cx="11.72" cy="70.6" r="3.67" fill-opacity="0.82"/><circle cx="19.82" cy="-2.29" r="3.73" fill-opacity="0.75"/><circle cx="19.82" cy="71.71" r="3.73" fill-opacity="0.75"/><circle cx="30.58" cy="68.97" r="4.05" fill-opacity="0.83"/><circle cx="39.18" cy="69.09" r="3.89" fill-opacity="0.95"/><circle cx="46.8" cy="69.39" r="3.57" fill-opacity="0.85"/><circle cx="54.2" cy="-3.59" r="3.59" fill-opacity="0.93"/><circle cx="54.2" cy="70.41" r="3.59" fill-opacity="0.93"/><circle cx="64.98" cy="68.97" r="3.92" fill-opacity="0.98"/><circle cx="71.32" cy="-3.75" r="3.98" fill-opacity="0.78"/><circle cx="71.32" cy="70.25" r="3.98" fill-opacity="0.78"/><circle cx="82.21" cy="-4.14" r="4.04" fill-opacity="0.9"/><circle cx="82.21" cy="69.86" r="4.04" fill-opacity="0.9"/><circle cx="90.43" cy="-3.57" r="3.89" fill-opacity="0.9"/><circle cx="90.43" cy="70.43" r="3.89" fill-opacity="0.9"/><circle cx="-4.4" cy="-2.86" r="4.08" fill-opacity="0.84"/><circle cx="-4.4" cy="71.14" r="4.08" fill-opacity="0.84"/><circle cx="97.6" cy="-2.86" r="4.08" fill-opacity="0.84"/><circle cx="97.6" cy="71.14" r="4.08" fill-opacity="0.84"/></g></g>
<pattern id="ph" patternUnits="userSpaceOnUse" width="102" height="74"><use href="#phg"/></pattern>
<filter id="toblue" color-interpolation-filters="sRGB"><feColorMatrix type="matrix" values="0.06 0 0 0 0 0.06 0 0 0 0 0 0 0 0 1 0 0 0 2.0 0"/></filter>
<filter id="hblue" color-interpolation-filters="sRGB"><feColorMatrix type="matrix" values="0 0 0 0 0.09 0 0 0 0 0.09 0 0 0 0 0.85 0 0 0 1 0"/></filter>
<clipPath id="c00"><rect x="795" y="1120.2" width="393" height="161.3"/></clipPath>
<filter id="f1" filterUnits="userSpaceOnUse" x="795" y="1120.2" width="393" height="161.3" color-interpolation-filters="sRGB"><feTurbulence type="fractalNoise" baseFrequency="0.9" numOctaves="1" seed="1"/><feColorMatrix type="matrix" values="0.5 0 0 0 -0.23 0.5 0 0 0 -0.23 0.5 0 0 0 -0.23 0 0 0 0 1" result="c"/><feGaussianBlur in="c" stdDeviation="0.45" result="c"/></filter>
<filter id="f3" filterUnits="userSpaceOnUse" x="785" y="1110.2" width="413" height="181.3" color-interpolation-filters="sRGB"><feTurbulence type="fractalNoise" baseFrequency="0.045" numOctaves="2" seed="9" result="n"/><feDisplacementMap in="SourceGraphic" in2="n" scale="12" xChannelSelector="R" yChannelSelector="G"/><feGaussianBlur stdDeviation="3"/></filter>
<mask id="m2" maskUnits="userSpaceOnUse" x="795" y="1120.2" width="393" height="161.3"><g filter="url(#f3)"><path d="M765 1181.2C770 1181.2 781.67 1181.7 795 1181.2C808.33 1180.7 828.33 1179.2 845 1178.2C861.67 1177.2 878.33 1176.53 895 1175.2C911.67 1173.87 928.33 1171.7 945 1170.2C961.67 1168.7 970 1166.7 995 1166.2C1020 1165.7 1062.83 1167.2 1095 1167.2C1127.17 1167.2 1167.5 1166.37 1188 1166.2C1208.5 1166.03 1213 1166.2 1218 1166.2L1218 1222.2C1213 1222.2 1208.5 1222.53 1188 1222.2C1167.5 1221.87 1127.17 1220.2 1095 1220.2C1062.83 1220.2 1028.33 1221.2 995 1222.2C961.67 1223.2 920 1224.53 895 1226.2C870 1227.87 861.67 1230.37 845 1232.2C828.33 1234.03 808.33 1236.37 795 1237.2C781.67 1238.03 770 1237.2 765 1237.2Z" fill="#fff" fill-opacity="0.5"/><path d="M765 1194.2C770 1194.2 781.67 1194.7 795 1194.2C808.33 1193.7 828.33 1192.2 845 1191.2C861.67 1190.2 878.33 1189.53 895 1188.2C911.67 1186.87 928.33 1184.7 945 1183.2C961.67 1181.7 970 1179.7 995 1179.2C1020 1178.7 1062.83 1180.2 1095 1180.2C1127.17 1180.2 1167.5 1179.37 1188 1179.2C1208.5 1179.03 1213 1179.2 1218 1179.2L1218 1219.2C1213 1219.2 1208.5 1219.53 1188 1219.2C1167.5 1218.87 1127.17 1217.2 1095 1217.2C1062.83 1217.2 1028.33 1218.2 995 1219.2C961.67 1220.2 920 1221.53 895 1223.2C870 1224.87 861.67 1227.37 845 1229.2C828.33 1231.03 808.33 1233.37 795 1234.2C781.67 1235.03 770 1234.2 765 1234.2Z" fill="#fff" fill-opacity="0.95"/></g></mask>
<filter id="f4" filterUnits="userSpaceOnUse" x="785" y="1110.2" width="413" height="181.3" color-interpolation-filters="sRGB"><feTurbulence type="fractalNoise" baseFrequency="0.09" numOctaves="2" seed="6" result="n"/><feDisplacementMap in="SourceGraphic" in2="n" scale="5" xChannelSelector="R" yChannelSelector="G"/></filter>
<filter id="f5" filterUnits="userSpaceOnUse" x="795" y="1120.2" width="393" height="161.3" color-interpolation-filters="sRGB"><feTurbulence type="fractalNoise" baseFrequency="0.5" numOctaves="2" seed="101"/><feColorMatrix type="matrix" values="3.2 0 0 0 -1.64 3.2 0 0 0 -1.64 3.2 0 0 0 -1.64 0 0 0 0 1" result="c"/><feGaussianBlur in="SourceAlpha" stdDeviation="3.5" result="m"/><feComposite in="c" in2="m" operator="in"/></filter>
<filter id="f6" x="-30%" y="-30%" width="160%" height="160%"><feGaussianBlur stdDeviation="4"/></filter>
<clipPath id="c10"><rect x="1200.6" y="1120.2" width="393" height="161.3"/></clipPath>
<filter id="f7" filterUnits="userSpaceOnUse" x="1200.6" y="1120.2" width="393" height="161.3" color-interpolation-filters="sRGB"><feTurbulence type="fractalNoise" baseFrequency="0.9" numOctaves="1" seed="2"/><feColorMatrix type="matrix" values="1.8 0 0 0 -0.82 1.8 0 0 0 -0.82 1.8 0 0 0 -0.82 0 0 0 0 1" result="c"/><feGaussianBlur in="c" stdDeviation="0.45" result="c"/></filter>
<filter id="f8" filterUnits="userSpaceOnUse" x="1200.6" y="1120.2" width="393" height="161.3" color-interpolation-filters="sRGB"><feTurbulence type="fractalNoise" baseFrequency="0.5" numOctaves="2" seed="21"/><feColorMatrix type="matrix" values="3 0 0 0 -1.77 3 0 0 0 -1.77 3 0 0 0 -1.77 0 0 0 0 1" result="c"/><feGaussianBlur in="SourceAlpha" stdDeviation="6" result="m"/><feComposite in="c" in2="m" operator="in"/></filter>
<filter id="f9" filterUnits="userSpaceOnUse" x="1200.6" y="1120.2" width="393" height="161.3" color-interpolation-filters="sRGB"><feTurbulence type="fractalNoise" baseFrequency="0.1" numOctaves="2" seed="23"/><feColorMatrix type="matrix" values="2.4 0 0 0 -1.43 2.4 0 0 0 -1.43 2.4 0 0 0 -1.43 0 0 0 0 1" result="c"/><feGaussianBlur in="SourceAlpha" stdDeviation="6" result="m"/><feComposite in="c" in2="m" operator="in"/></filter>
<filter id="f10" x="-30%" y="-30%" width="160%" height="160%"><feGaussianBlur stdDeviation="1"/></filter>
<filter id="f11" x="-30%" y="-30%" width="160%" height="160%"><feGaussianBlur stdDeviation="1.5"/></filter>
<clipPath id="c20"><rect x="1604" y="1120.2" width="393" height="161.3"/></clipPath>
<filter id="f12" filterUnits="userSpaceOnUse" x="1604" y="1120.2" width="393" height="161.3" color-interpolation-filters="sRGB"><feTurbulence type="fractalNoise" baseFrequency="0.9" numOctaves="1" seed="3"/><feColorMatrix type="matrix" values="1.8 0 0 0 -0.82 1.8 0 0 0 -0.82 1.8 0 0 0 -0.78 0 0 0 0 1" result="c"/><feGaussianBlur in="c" stdDeviation="0.45" result="c"/></filter>
<filter id="f13" x="-30%" y="-30%" width="160%" height="160%"><feGaussianBlur stdDeviation="5"/></filter>
<filter id="f15" filterUnits="userSpaceOnUse" x="1594" y="1110.2" width="413" height="181.3" color-interpolation-filters="sRGB"><feTurbulence type="fractalNoise" baseFrequency="0.045" numOctaves="2" seed="21" result="n"/><feDisplacementMap in="SourceGraphic" in2="n" scale="12" xChannelSelector="R" yChannelSelector="G"/><feGaussianBlur stdDeviation="3"/></filter>
<mask id="m14" maskUnits="userSpaceOnUse" x="1604" y="1120.2" width="393" height="161.3"><g filter="url(#f15)"><path d="M1574 1181.2C1579 1181.2 1590.67 1181.7 1604 1181.2C1617.33 1180.7 1637.33 1179.2 1654 1178.2C1670.67 1177.2 1687.33 1176.53 1704 1175.2C1720.67 1173.87 1737.33 1171.7 1754 1170.2C1770.67 1168.7 1779 1166.7 1804 1166.2C1829 1165.7 1871.83 1167.2 1904 1167.2C1936.17 1167.2 1976.5 1166.37 1997 1166.2C2017.5 1166.03 2022 1166.2 2027 1166.2L2027 1222.2C2022 1222.2 2017.5 1222.53 1997 1222.2C1976.5 1221.87 1936.17 1220.2 1904 1220.2C1871.83 1220.2 1837.33 1221.2 1804 1222.2C1770.67 1223.2 1729 1224.53 1704 1226.2C1679 1227.87 1670.67 1230.37 1654 1232.2C1637.33 1234.03 1617.33 1236.37 1604 1237.2C1590.67 1238.03 1579 1237.2 1574 1237.2Z" fill="#fff" fill-opacity="0.5"/><path d="M1574 1194.2C1579 1194.2 1590.67 1194.7 1604 1194.2C1617.33 1193.7 1637.33 1192.2 1654 1191.2C1670.67 1190.2 1687.33 1189.53 1704 1188.2C1720.67 1186.87 1737.33 1184.7 1754 1183.2C1770.67 1181.7 1779 1179.7 1804 1179.2C1829 1178.7 1871.83 1180.2 1904 1180.2C1936.17 1180.2 1976.5 1179.37 1997 1179.2C2017.5 1179.03 2022 1179.2 2027 1179.2L2027 1219.2C2022 1219.2 2017.5 1219.53 1997 1219.2C1976.5 1218.87 1936.17 1217.2 1904 1217.2C1871.83 1217.2 1837.33 1218.2 1804 1219.2C1770.67 1220.2 1729 1221.53 1704 1223.2C1679 1224.87 1670.67 1227.37 1654 1229.2C1637.33 1231.03 1617.33 1233.37 1604 1234.2C1590.67 1235.03 1579 1234.2 1574 1234.2Z" fill="#fff" fill-opacity="0.95"/></g></mask>
<filter id="f16" filterUnits="userSpaceOnUse" x="1594" y="1110.2" width="413" height="181.3" color-interpolation-filters="sRGB"><feTurbulence type="fractalNoise" baseFrequency="0.09" numOctaves="2" seed="18" result="n"/><feDisplacementMap in="SourceGraphic" in2="n" scale="5" xChannelSelector="R" yChannelSelector="G"/><feColorMatrix type="matrix" values="0.06 0 0 0 0 0.06 0 0 0 0 0 0 0 0 1 0 0 0 2.0 0"/></filter>
<filter id="f17" filterUnits="userSpaceOnUse" x="1604" y="1120.2" width="393" height="161.3" color-interpolation-filters="sRGB"><feTurbulence type="fractalNoise" baseFrequency="0.5" numOctaves="2" seed="103"/><feColorMatrix type="matrix" values="3 0 0 0 -1.99 3 0 0 0 -1.99 3 0 0 0 -1.43 0 0 0 0 1" result="c"/><feGaussianBlur in="SourceAlpha" stdDeviation="3.5" result="m"/><feComposite in="c" in2="m" operator="in"/></filter>
<filter id="f18" filterUnits="userSpaceOnUse" x="1604" y="1120.2" width="393" height="161.3" color-interpolation-filters="sRGB"><feTurbulence type="fractalNoise" baseFrequency="0.5" numOctaves="2" seed="21"/><feColorMatrix type="matrix" values="3 0 0 0 -1.77 3 0 0 0 -1.77 3 0 0 0 -1.77 0 0 0 0 1" result="c"/><feGaussianBlur in="SourceAlpha" stdDeviation="6" result="m"/><feComposite in="c" in2="m" operator="in"/></filter>
<filter id="f19" filterUnits="userSpaceOnUse" x="1604" y="1120.2" width="393" height="161.3" color-interpolation-filters="sRGB"><feTurbulence type="fractalNoise" baseFrequency="0.1" numOctaves="2" seed="23"/><feColorMatrix type="matrix" values="2.4 0 0 0 -1.43 2.4 0 0 0 -1.43 2.4 0 0 0 -1.43 0 0 0 0 1" result="c"/><feGaussianBlur in="SourceAlpha" stdDeviation="6" result="m"/><feComposite in="c" in2="m" operator="in"/></filter>
<filter id="f20" x="-30%" y="-30%" width="160%" height="160%"><feGaussianBlur stdDeviation="1"/></filter>
<filter id="f21" x="-30%" y="-30%" width="160%" height="160%"><feGaussianBlur stdDeviation="1.5"/></filter>
<clipPath id="c01"><rect x="795" y="1287.3" width="393" height="161.3"/></clipPath>
<filter id="f22" filterUnits="userSpaceOnUse" x="795" y="1287.3" width="393" height="161.3" color-interpolation-filters="sRGB"><feTurbulence type="fractalNoise" baseFrequency="0.9" numOctaves="1" seed="4"/><feColorMatrix type="matrix" values="0.5 0 0 0 -0.23 0.5 0 0 0 -0.23 0.5 0 0 0 -0.23 0 0 0 0 1" result="c"/><feGaussianBlur in="c" stdDeviation="0.45" result="c"/></filter>
<filter id="f23" x="-30%" y="-30%" width="160%" height="160%"><feGaussianBlur stdDeviation="4"/></filter>
<filter id="f25" filterUnits="userSpaceOnUse" x="785" y="1277.3" width="413" height="181.3" color-interpolation-filters="sRGB"><feTurbulence type="fractalNoise" baseFrequency="0.045" numOctaves="2" seed="31" result="n"/><feDisplacementMap in="SourceGraphic" in2="n" scale="12" xChannelSelector="R" yChannelSelector="G"/><feGaussianBlur stdDeviation="3"/></filter>
<mask id="m24" maskUnits="userSpaceOnUse" x="795" y="1287.3" width="393" height="161.3"><g filter="url(#f25)"><path d="M765 1353.3C770 1353.3 785 1354.63 795 1353.3C805 1351.97 813.83 1348.8 825 1345.3C836.17 1341.8 848.17 1336.97 862 1332.3C875.83 1327.63 891.83 1321.47 908 1317.3C924.17 1313.13 946.17 1308.47 959 1307.3C971.83 1306.13 976.5 1307.63 985 1310.3C993.5 1312.97 997.33 1319.63 1010 1323.3C1022.67 1326.97 1046 1328.63 1061 1332.3C1076 1335.97 1089.33 1338.8 1100 1345.3C1110.67 1351.8 1118.67 1362.8 1125 1371.3C1131.33 1379.8 1131.67 1389.97 1138 1396.3C1144.33 1402.63 1154.67 1407.97 1163 1409.3C1171.33 1410.63 1178.83 1405.13 1188 1404.3C1197.17 1403.47 1213 1404.3 1218 1404.3L1218 1462.3C1213 1462.3 1205.17 1462.3 1188 1462.3C1170.83 1462.3 1130.5 1464.47 1115 1462.3C1099.5 1460.13 1101.67 1453.3 1095 1449.3C1088.33 1445.3 1083.33 1441.47 1075 1438.3C1066.67 1435.13 1055.83 1432.8 1045 1430.3C1034.17 1427.8 1023.33 1424.97 1010 1423.3C996.67 1421.63 977.5 1419.47 965 1420.3C952.5 1421.13 944.5 1423.47 935 1428.3C925.5 1433.13 914.67 1443.63 908 1449.3C901.33 1454.97 913.83 1460.13 895 1462.3C876.17 1464.47 816.67 1462.3 795 1462.3C773.33 1462.3 770 1462.3 765 1462.3Z" fill="#fff" fill-opacity="1"/></g></mask>
<filter id="f26" filterUnits="userSpaceOnUse" x="785" y="1277.3" width="413" height="181.3" color-interpolation-filters="sRGB"><feTurbulence type="fractalNoise" baseFrequency="0.09" numOctaves="2" seed="28" result="n"/><feDisplacementMap in="SourceGraphic" in2="n" scale="5" xChannelSelector="R" yChannelSelector="G"/></filter>
<filter id="f27" filterUnits="userSpaceOnUse" x="795" y="1287.3" width="393" height="161.3" color-interpolation-filters="sRGB"><feTurbulence type="fractalNoise" baseFrequency="0.5" numOctaves="2" seed="104"/><feColorMatrix type="matrix" values="3.2 0 0 0 -1.59 3.2 0 0 0 -1.59 3.2 0 0 0 -1.59 0 0 0 0 1" result="c"/><feGaussianBlur in="SourceAlpha" stdDeviation="3.5" result="m"/><feComposite in="c" in2="m" operator="in"/></filter>
<clipPath id="c11"><rect x="1200.6" y="1287.3" width="393" height="161.3"/></clipPath>
<filter id="f28" filterUnits="userSpaceOnUse" x="1200.6" y="1287.3" width="393" height="161.3" color-interpolation-filters="sRGB"><feTurbulence type="fractalNoise" baseFrequency="0.9" numOctaves="1" seed="5"/><feColorMatrix type="matrix" values="1.8 0 0 0 -0.8 1.8 0 0 0 -0.8 1.8 0 0 0 -0.8 0 0 0 0 1" result="c"/><feGaussianBlur in="c" stdDeviation="0.45" result="c"/></filter>
<filter id="f29" x="-30%" y="-30%" width="160%" height="160%"><feGaussianBlur stdDeviation="9"/></filter>
<filter id="f31" filterUnits="userSpaceOnUse" x="1190.6" y="1277.3" width="413" height="181.3" color-interpolation-filters="sRGB"><feTurbulence type="fractalNoise" baseFrequency="0.045" numOctaves="2" seed="37" result="n"/><feDisplacementMap in="SourceGraphic" in2="n" scale="12" xChannelSelector="R" yChannelSelector="G"/><feGaussianBlur stdDeviation="8"/></filter>
<mask id="m30" maskUnits="userSpaceOnUse" x="1200.6" y="1287.3" width="393" height="161.3"><g filter="url(#f31)"><path d="M1170.6 1387.3C1175.6 1387.3 1190.6 1390.63 1200.6 1387.3C1210.6 1383.97 1219.43 1374.3 1230.6 1367.3C1241.77 1360.3 1253.77 1351.63 1267.6 1345.3C1281.43 1338.97 1297.43 1333.3 1313.6 1329.3C1329.77 1325.3 1347.6 1321.63 1364.6 1321.3C1381.6 1320.97 1398.6 1324.3 1415.6 1327.3C1432.6 1330.3 1451.6 1334.97 1466.6 1339.3C1481.6 1343.63 1494.93 1346.97 1505.6 1353.3C1516.27 1359.63 1524.27 1369.63 1530.6 1377.3C1536.93 1384.97 1537.27 1392.63 1543.6 1399.3C1549.93 1405.97 1560.27 1413.47 1568.6 1417.3C1576.93 1421.13 1584.43 1421.47 1593.6 1422.3C1602.77 1423.13 1618.6 1422.3 1623.6 1422.3L1623.6 1462.3C1618.6 1462.3 1664.1 1462.3 1593.6 1462.3C1523.1 1462.3 1271.1 1462.3 1200.6 1462.3C1130.1 1462.3 1175.6 1462.3 1170.6 1462.3Z" fill="#fff" fill-opacity="0.35"/></g></mask>
<filter id="f32" filterUnits="userSpaceOnUse" x="1190.6" y="1277.3" width="413" height="181.3" color-interpolation-filters="sRGB"><feTurbulence type="fractalNoise" baseFrequency="0.09" numOctaves="2" seed="34" result="n"/><feDisplacementMap in="SourceGraphic" in2="n" scale="5" xChannelSelector="R" yChannelSelector="G"/></filter>
<filter id="f33" x="-30%" y="-30%" width="160%" height="160%"><feGaussianBlur stdDeviation="10"/></filter>
<filter id="f34" x="-30%" y="-30%" width="160%" height="160%"><feGaussianBlur stdDeviation="1.2"/></filter>
<filter id="f35" x="-30%" y="-30%" width="160%" height="160%"><feGaussianBlur stdDeviation="0.6"/></filter>
<clipPath id="c21"><rect x="1604" y="1287.3" width="393" height="161.3"/></clipPath>
<filter id="f36" filterUnits="userSpaceOnUse" x="1604" y="1287.3" width="393" height="161.3" color-interpolation-filters="sRGB"><feTurbulence type="fractalNoise" baseFrequency="0.9" numOctaves="1" seed="6"/><feColorMatrix type="matrix" values="1.8 0 0 0 -0.81 1.8 0 0 0 -0.81 1.8 0 0 0 -0.76 0 0 0 0 1" result="c"/><feGaussianBlur in="c" stdDeviation="0.45" result="c"/></filter>
<filter id="f37" x="-30%" y="-30%" width="160%" height="160%"><feGaussianBlur stdDeviation="6"/></filter>
<filter id="f39" filterUnits="userSpaceOnUse" x="1594" y="1277.3" width="413" height="181.3" color-interpolation-filters="sRGB"><feTurbulence type="fractalNoise" baseFrequency="0.045" numOctaves="2" seed="45" result="n"/><feDisplacementMap in="SourceGraphic" in2="n" scale="12" xChannelSelector="R" yChannelSelector="G"/><feGaussianBlur stdDeviation="3"/></filter>
<mask id="m38" maskUnits="userSpaceOnUse" x="1604" y="1287.3" width="393" height="161.3"><g filter="url(#f39)"><path d="M1574 1353.3C1579 1353.3 1594 1354.63 1604 1353.3C1614 1351.97 1622.83 1348.8 1634 1345.3C1645.17 1341.8 1657.17 1336.97 1671 1332.3C1684.83 1327.63 1700.83 1321.47 1717 1317.3C1733.17 1313.13 1755.17 1308.47 1768 1307.3C1780.83 1306.13 1785.5 1307.63 1794 1310.3C1802.5 1312.97 1806.33 1319.63 1819 1323.3C1831.67 1326.97 1855 1328.63 1870 1332.3C1885 1335.97 1898.33 1338.8 1909 1345.3C1919.67 1351.8 1927.67 1362.8 1934 1371.3C1940.33 1379.8 1940.67 1389.97 1947 1396.3C1953.33 1402.63 1963.67 1407.97 1972 1409.3C1980.33 1410.63 1987.83 1405.13 1997 1404.3C2006.17 1403.47 2022 1404.3 2027 1404.3L2027 1462.3C2022 1462.3 2014.17 1462.3 1997 1462.3C1979.83 1462.3 1939.5 1464.47 1924 1462.3C1908.5 1460.13 1910.67 1453.3 1904 1449.3C1897.33 1445.3 1892.33 1441.47 1884 1438.3C1875.67 1435.13 1864.83 1432.8 1854 1430.3C1843.17 1427.8 1832.33 1424.97 1819 1423.3C1805.67 1421.63 1786.5 1419.47 1774 1420.3C1761.5 1421.13 1753.5 1423.47 1744 1428.3C1734.5 1433.13 1723.67 1443.63 1717 1449.3C1710.33 1454.97 1722.83 1460.13 1704 1462.3C1685.17 1464.47 1625.67 1462.3 1604 1462.3C1582.33 1462.3 1579 1462.3 1574 1462.3Z" fill="#fff" fill-opacity="1"/></g></mask>
<filter id="f40" filterUnits="userSpaceOnUse" x="1594" y="1277.3" width="413" height="181.3" color-interpolation-filters="sRGB"><feTurbulence type="fractalNoise" baseFrequency="0.09" numOctaves="2" seed="42" result="n"/><feDisplacementMap in="SourceGraphic" in2="n" scale="5" xChannelSelector="R" yChannelSelector="G"/><feColorMatrix type="matrix" values="0.06 0 0 0 0 0.06 0 0 0 0 0 0 0 0 1 0 0 0 2.0 0"/></filter>
<filter id="f41" filterUnits="userSpaceOnUse" x="1604" y="1287.3" width="393" height="161.3" color-interpolation-filters="sRGB"><feTurbulence type="fractalNoise" baseFrequency="0.5" numOctaves="2" seed="106"/><feColorMatrix type="matrix" values="3 0 0 0 -1.99 3 0 0 0 -1.99 3 0 0 0 -1.43 0 0 0 0 1" result="c"/><feGaussianBlur in="SourceAlpha" stdDeviation="3.5" result="m"/><feComposite in="c" in2="m" operator="in"/></filter>
<filter id="f42" x="-30%" y="-30%" width="160%" height="160%"><feGaussianBlur stdDeviation="10"/></filter>
<filter id="f43" x="-30%" y="-30%" width="160%" height="160%"><feGaussianBlur stdDeviation="1.2"/></filter>
<filter id="f44" x="-30%" y="-30%" width="160%" height="160%"><feGaussianBlur stdDeviation="0.6"/></filter>
<clipPath id="c02"><rect x="795" y="1531.1" width="393" height="161.3"/></clipPath>
<filter id="f45" filterUnits="userSpaceOnUse" x="795" y="1531.1" width="393" height="161.3" color-interpolation-filters="sRGB"><feTurbulence type="fractalNoise" baseFrequency="0.9" numOctaves="1" seed="7"/><feColorMatrix type="matrix" values="0.5 0 0 0 -0.23 0.5 0 0 0 -0.23 0.5 0 0 0 -0.23 0 0 0 0 1" result="c"/><feGaussianBlur in="c" stdDeviation="0.45" result="c"/></filter>
<filter id="f47" filterUnits="userSpaceOnUse" x="785" y="1521.1" width="413" height="181.3" color-interpolation-filters="sRGB"><feTurbulence type="fractalNoise" baseFrequency="0.045" numOctaves="2" seed="53" result="n"/><feDisplacementMap in="SourceGraphic" in2="n" scale="12" xChannelSelector="R" yChannelSelector="G"/><feGaussianBlur stdDeviation="3"/></filter>
<mask id="m46" maskUnits="userSpaceOnUse" x="795" y="1531.1" width="393" height="161.3"><g filter="url(#f47)"><path d="M765 1603.1C770 1603.1 780 1605.77 795 1603.1C810 1600.43 835 1592.27 855 1587.1C875 1581.93 891.67 1575.6 915 1572.1C938.33 1568.6 965 1566.77 995 1566.1C1025 1565.43 1062.83 1566.77 1095 1568.1C1127.17 1569.43 1167.5 1573.1 1188 1574.1C1208.5 1575.1 1213 1574.1 1218 1574.1L1218 1649.1C1213 1649.1 1200.17 1650.6 1188 1649.1C1175.83 1647.6 1160.5 1642.93 1145 1640.1C1129.5 1637.27 1116.67 1634.1 1095 1632.1C1073.33 1630.1 1038.33 1627.77 1015 1628.1C991.67 1628.43 975 1630.6 955 1634.1C935 1637.6 915 1643.93 895 1649.1C875 1654.27 851.67 1659.6 835 1665.1C818.33 1670.6 806.67 1679.27 795 1682.1C783.33 1684.93 770 1682.1 765 1682.1Z" fill="#fff" fill-opacity="0.5"/><path d="M765 1616.1C770 1616.1 780 1618.77 795 1616.1C810 1613.43 835 1605.27 855 1600.1C875 1594.93 891.67 1588.6 915 1585.1C938.33 1581.6 965 1579.77 995 1579.1C1025 1578.43 1062.83 1579.77 1095 1581.1C1127.17 1582.43 1167.5 1586.1 1188 1587.1C1208.5 1588.1 1213 1587.1 1218 1587.1L1218 1646.1C1213 1646.1 1200.17 1647.6 1188 1646.1C1175.83 1644.6 1160.5 1639.93 1145 1637.1C1129.5 1634.27 1116.67 1631.1 1095 1629.1C1073.33 1627.1 1038.33 1624.77 1015 1625.1C991.67 1625.43 975 1627.6 955 1631.1C935 1634.6 915 1640.93 895 1646.1C875 1651.27 851.67 1656.6 835 1662.1C818.33 1667.6 806.67 1676.27 795 1679.1C783.33 1681.93 770 1679.1 765 1679.1Z" fill="#fff" fill-opacity="0.95"/></g></mask>
<filter id="f48" filterUnits="userSpaceOnUse" x="785" y="1521.1" width="413" height="181.3" color-interpolation-filters="sRGB"><feTurbulence type="fractalNoise" baseFrequency="0.09" numOctaves="2" seed="50" result="n"/><feDisplacementMap in="SourceGraphic" in2="n" scale="5" xChannelSelector="R" yChannelSelector="G"/></filter>
<filter id="f49" filterUnits="userSpaceOnUse" x="795" y="1531.1" width="393" height="161.3" color-interpolation-filters="sRGB"><feTurbulence type="fractalNoise" baseFrequency="0.5" numOctaves="2" seed="107"/><feColorMatrix type="matrix" values="3.2 0 0 0 -1.61 3.2 0 0 0 -1.61 3.2 0 0 0 -1.61 0 0 0 0 1" result="c"/><feGaussianBlur in="SourceAlpha" stdDeviation="3.5" result="m"/><feComposite in="c" in2="m" operator="in"/></filter>
<clipPath id="c12"><rect x="1200.6" y="1531.1" width="393" height="161.3"/></clipPath>
<filter id="f50" filterUnits="userSpaceOnUse" x="1200.6" y="1531.1" width="393" height="161.3" color-interpolation-filters="sRGB"><feTurbulence type="fractalNoise" baseFrequency="0.9" numOctaves="1" seed="8"/><feColorMatrix type="matrix" values="1.8 0 0 0 -0.84 1.8 0 0 0 -0.84 1.8 0 0 0 -0.84 0 0 0 0 1" result="c"/><feGaussianBlur in="c" stdDeviation="0.45" result="c"/></filter>
<filter id="f51" x="-30%" y="-30%" width="160%" height="160%"><feGaussianBlur stdDeviation="10"/></filter>
<filter id="f52" x="-30%" y="-30%" width="160%" height="160%"><feGaussianBlur stdDeviation="11"/></filter>
<filter id="f53" x="-30%" y="-30%" width="160%" height="160%"><feGaussianBlur stdDeviation="6"/></filter>
<filter id="f54" filterUnits="userSpaceOnUse" x="1200.6" y="1531.1" width="393" height="161.3" color-interpolation-filters="sRGB"><feTurbulence type="fractalNoise" baseFrequency="0.14" numOctaves="3" seed="81"/><feColorMatrix type="matrix" values="1.3 0 0 0 -0.15 1.3 0 0 0 -0.15 1.3 0 0 0 -0.15 0 0 0 0 1" result="c"/><feGaussianBlur in="SourceAlpha" stdDeviation="6" result="m"/><feComposite in="c" in2="m" operator="in"/></filter>
<filter id="f56" filterUnits="userSpaceOnUse" x="1190.6" y="1521.1" width="413" height="181.3" color-interpolation-filters="sRGB"><feTurbulence type="fractalNoise" baseFrequency="0.045" numOctaves="2" seed="62" result="n"/><feDisplacementMap in="SourceGraphic" in2="n" scale="12" xChannelSelector="R" yChannelSelector="G"/><feGaussianBlur stdDeviation="5"/></filter>
<mask id="m55" maskUnits="userSpaceOnUse" x="1200.6" y="1531.1" width="393" height="161.3"><g filter="url(#f56)"><path d="M1170.6 1613.1C1175.6 1613.1 1187.27 1615.43 1200.6 1613.1C1213.93 1610.77 1233.93 1603.1 1250.6 1599.1C1267.27 1595.1 1275.6 1592.6 1300.6 1589.1C1325.6 1585.6 1367.27 1579.93 1400.6 1578.1C1433.93 1576.27 1468.43 1575.93 1500.6 1578.1C1532.77 1580.27 1573.1 1588.93 1593.6 1591.1C1614.1 1593.27 1618.6 1591.1 1623.6 1591.1L1623.6 1643.1C1618.6 1643.1 1614.1 1644.6 1593.6 1643.1C1573.1 1641.6 1532.77 1636.27 1500.6 1634.1C1468.43 1631.93 1427.27 1630.1 1400.6 1630.1C1373.93 1630.1 1360.6 1631.27 1340.6 1634.1C1320.6 1636.93 1297.27 1642.27 1280.6 1647.1C1263.93 1651.93 1250.6 1656.77 1240.6 1663.1C1230.6 1669.43 1227.27 1678.93 1220.6 1685.1C1213.93 1691.27 1208.93 1697.6 1200.6 1700.1C1192.27 1702.6 1175.6 1700.1 1170.6 1700.1Z" fill="#fff" fill-opacity="0.8"/></g></mask>
<filter id="f57" filterUnits="userSpaceOnUse" x="1190.6" y="1521.1" width="413" height="181.3" color-interpolation-filters="sRGB"><feTurbulence type="fractalNoise" baseFrequency="0.09" numOctaves="2" seed="59" result="n"/><feDisplacementMap in="SourceGraphic" in2="n" scale="5" xChannelSelector="R" yChannelSelector="G"/></filter>
<filter id="f58" filterUnits="userSpaceOnUse" x="1200.6" y="1531.1" width="393" height="161.3" color-interpolation-filters="sRGB"><feTurbulence type="fractalNoise" baseFrequency="0.9" numOctaves="1" seed="82"/><feColorMatrix type="matrix" values="2.4 0 0 0 -0.7 2.4 0 0 0 -0.7 2.4 0 0 0 -0.7 0 0 0 0 1" result="c"/><feGaussianBlur in="c" stdDeviation="0.45" result="c"/></filter>
<filter id="f59" x="-30%" y="-30%" width="160%" height="160%"><feGaussianBlur stdDeviation="2"/></filter>
<clipPath id="c22"><rect x="1604" y="1531.1" width="393" height="161.3"/></clipPath>
<filter id="f60" filterUnits="userSpaceOnUse" x="1604" y="1531.1" width="393" height="161.3" color-interpolation-filters="sRGB"><feTurbulence type="fractalNoise" baseFrequency="0.9" numOctaves="1" seed="9"/><feColorMatrix type="matrix" values="1.8 0 0 0 -0.85 1.8 0 0 0 -0.85 1.8 0 0 0 -0.81 0 0 0 0 1" result="c"/><feGaussianBlur in="c" stdDeviation="0.45" result="c"/></filter>
<filter id="f61" x="-30%" y="-30%" width="160%" height="160%"><feGaussianBlur stdDeviation="10"/></filter>
<filter id="f62" x="-30%" y="-30%" width="160%" height="160%"><feGaussianBlur stdDeviation="11"/></filter>
<filter id="f63" x="-30%" y="-30%" width="160%" height="160%"><feGaussianBlur stdDeviation="6"/></filter>
<filter id="f64" filterUnits="userSpaceOnUse" x="1604" y="1531.1" width="393" height="161.3" color-interpolation-filters="sRGB"><feTurbulence type="fractalNoise" baseFrequency="0.14" numOctaves="3" seed="81"/><feColorMatrix type="matrix" values="1.3 0 0 0 -0.15 1.3 0 0 0 -0.15 1.3 0 0 0 -0.15 0 0 0 0 1" result="c"/><feGaussianBlur in="SourceAlpha" stdDeviation="6" result="m"/><feComposite in="c" in2="m" operator="in"/></filter>
<filter id="f66" filterUnits="userSpaceOnUse" x="1594" y="1521.1" width="413" height="181.3" color-interpolation-filters="sRGB"><feTurbulence type="fractalNoise" baseFrequency="0.045" numOctaves="2" seed="72" result="n"/><feDisplacementMap in="SourceGraphic" in2="n" scale="12" xChannelSelector="R" yChannelSelector="G"/><feGaussianBlur stdDeviation="5"/></filter>
<mask id="m65" maskUnits="userSpaceOnUse" x="1604" y="1531.1" width="393" height="161.3"><g filter="url(#f66)"><path d="M1574 1613.1C1579 1613.1 1590.67 1615.43 1604 1613.1C1617.33 1610.77 1637.33 1603.1 1654 1599.1C1670.67 1595.1 1679 1592.6 1704 1589.1C1729 1585.6 1770.67 1579.93 1804 1578.1C1837.33 1576.27 1871.83 1575.93 1904 1578.1C1936.17 1580.27 1976.5 1588.93 1997 1591.1C2017.5 1593.27 2022 1591.1 2027 1591.1L2027 1643.1C2022 1643.1 2017.5 1644.6 1997 1643.1C1976.5 1641.6 1936.17 1636.27 1904 1634.1C1871.83 1631.93 1830.67 1630.1 1804 1630.1C1777.33 1630.1 1764 1631.27 1744 1634.1C1724 1636.93 1700.67 1642.27 1684 1647.1C1667.33 1651.93 1654 1656.77 1644 1663.1C1634 1669.43 1630.67 1678.93 1624 1685.1C1617.33 1691.27 1612.33 1697.6 1604 1700.1C1595.67 1702.6 1579 1700.1 1574 1700.1Z" fill="#fff" fill-opacity="0.8"/></g></mask>
<filter id="f67" filterUnits="userSpaceOnUse" x="1594" y="1521.1" width="413" height="181.3" color-interpolation-filters="sRGB"><feTurbulence type="fractalNoise" baseFrequency="0.09" numOctaves="2" seed="69" result="n"/><feDisplacementMap in="SourceGraphic" in2="n" scale="5" xChannelSelector="R" yChannelSelector="G"/><feColorMatrix type="matrix" values="0 0 0 0 0.09 0 0 0 0 0.09 0 0 0 0 0.85 0 0 0 1 0"/></filter>
<filter id="f68" filterUnits="userSpaceOnUse" x="1604" y="1531.1" width="393" height="161.3" color-interpolation-filters="sRGB"><feTurbulence type="fractalNoise" baseFrequency="0.9" numOctaves="1" seed="92"/><feColorMatrix type="matrix" values="2.4 0 0 0 -0.7 2.4 0 0 0 -0.7 2.4 0 0 0 -0.7 0 0 0 0 1" result="c"/><feGaussianBlur in="c" stdDeviation="0.45" result="c"/></filter>
<filter id="f69" x="-30%" y="-30%" width="160%" height="160%"><feGaussianBlur stdDeviation="2"/></filter>
<clipPath id="c03"><rect x="795" y="1698" width="393" height="161.3"/></clipPath>
<filter id="f70" filterUnits="userSpaceOnUse" x="795" y="1698" width="393" height="161.3" color-interpolation-filters="sRGB"><feTurbulence type="fractalNoise" baseFrequency="0.9" numOctaves="1" seed="10"/><feColorMatrix type="matrix" values="0.5 0 0 0 -0.23 0.5 0 0 0 -0.23 0.5 0 0 0 -0.23 0 0 0 0 1" result="c"/><feGaussianBlur in="c" stdDeviation="0.45" result="c"/></filter>
<filter id="f71" x="-30%" y="-30%" width="160%" height="160%"><feGaussianBlur stdDeviation="4"/></filter>
<filter id="f73" filterUnits="userSpaceOnUse" x="785" y="1688" width="413" height="181.3" color-interpolation-filters="sRGB"><feTurbulence type="fractalNoise" baseFrequency="0.045" numOctaves="2" seed="79" result="n"/><feDisplacementMap in="SourceGraphic" in2="n" scale="12" xChannelSelector="R" yChannelSelector="G"/><feGaussianBlur stdDeviation="3"/></filter>
<mask id="m72" maskUnits="userSpaceOnUse" x="795" y="1698" width="393" height="161.3"><g filter="url(#f73)"><path d="M765 1787C770 1787 783.33 1789 795 1787C806.67 1785 821.67 1779.17 835 1775C848.33 1770.83 861.67 1765.83 875 1762C888.33 1758.17 898.33 1753 915 1752C931.67 1751 955 1756 975 1756C995 1756 1016.67 1753.67 1035 1752C1053.33 1750.33 1068.33 1747.67 1085 1746C1101.67 1744.33 1117.83 1744 1135 1742C1152.17 1740 1174.17 1735.33 1188 1734C1201.83 1732.67 1213 1734 1218 1734L1218 1835C1213 1835 1196.83 1837.17 1188 1835C1179.17 1832.83 1175.5 1824.83 1165 1822C1154.5 1819.17 1138.33 1816.5 1125 1818C1111.67 1819.5 1100 1828.17 1085 1831C1070 1833.83 1050 1832 1035 1835C1020 1838 1010 1844.83 995 1849C980 1853.17 955 1856 945 1860C935 1864 960 1870.83 935 1873C910 1875.17 823.33 1873 795 1873C766.67 1873 770 1873 765 1873Z" fill="#fff" fill-opacity="1"/></g></mask>
<filter id="f74" filterUnits="userSpaceOnUse" x="785" y="1688" width="413" height="181.3" color-interpolation-filters="sRGB"><feTurbulence type="fractalNoise" baseFrequency="0.09" numOctaves="2" seed="76" result="n"/><feDisplacementMap in="SourceGraphic" in2="n" scale="5" xChannelSelector="R" yChannelSelector="G"/></filter>
<filter id="f75" filterUnits="userSpaceOnUse" x="795" y="1698" width="393" height="161.3" color-interpolation-filters="sRGB"><feTurbulence type="fractalNoise" baseFrequency="0.5" numOctaves="2" seed="110"/><feColorMatrix type="matrix" values="3.2 0 0 0 -1.58 3.2 0 0 0 -1.58 3.2 0 0 0 -1.58 0 0 0 0 1" result="c"/><feGaussianBlur in="SourceAlpha" stdDeviation="3.5" result="m"/><feComposite in="c" in2="m" operator="in"/></filter>
<clipPath id="c13"><rect x="1200.6" y="1698" width="393" height="161.3"/></clipPath>
<filter id="f76" filterUnits="userSpaceOnUse" x="1200.6" y="1698" width="393" height="161.3" color-interpolation-filters="sRGB"><feTurbulence type="fractalNoise" baseFrequency="0.9" numOctaves="1" seed="11"/><feColorMatrix type="matrix" values="2 0 0 0 -0.81 2 0 0 0 -0.81 2 0 0 0 -0.81 0 0 0 0 1" result="c"/><feGaussianBlur in="c" stdDeviation="0.45" result="c"/></filter>
<filter id="f77" x="-30%" y="-30%" width="160%" height="160%"><feGaussianBlur stdDeviation="8"/></filter>
<filter id="f78" x="-30%" y="-30%" width="160%" height="160%"><feGaussianBlur stdDeviation="9"/></filter>
<filter id="f80" filterUnits="userSpaceOnUse" x="1190.6" y="1688" width="413" height="181.3" color-interpolation-filters="sRGB"><feTurbulence type="fractalNoise" baseFrequency="0.045" numOctaves="2" seed="86" result="n"/><feDisplacementMap in="SourceGraphic" in2="n" scale="12" xChannelSelector="R" yChannelSelector="G"/><feGaussianBlur stdDeviation="6"/></filter>
<mask id="m79" maskUnits="userSpaceOnUse" x="1200.6" y="1698" width="393" height="161.3"><g filter="url(#f80)"><path d="M1170.6 1782C1175.6 1782 1185.6 1785 1200.6 1782C1215.6 1779 1240.6 1768.67 1260.6 1764C1280.6 1759.33 1297.27 1756 1320.6 1754C1343.93 1752 1370.6 1753.33 1400.6 1752C1430.6 1750.67 1468.43 1748.67 1500.6 1746C1532.77 1743.33 1573.1 1737.67 1593.6 1736C1614.1 1734.33 1618.6 1736 1623.6 1736L1623.6 1873C1618.6 1873 1664.1 1873 1593.6 1873C1523.1 1873 1271.1 1873 1200.6 1873C1130.1 1873 1175.6 1873 1170.6 1873Z" fill="#fff" fill-opacity="0.9"/></g></mask>
<filter id="f81" filterUnits="userSpaceOnUse" x="1190.6" y="1688" width="413" height="181.3" color-interpolation-filters="sRGB"><feTurbulence type="fractalNoise" baseFrequency="0.09" numOctaves="2" seed="83" result="n"/><feDisplacementMap in="SourceGraphic" in2="n" scale="5" xChannelSelector="R" yChannelSelector="G"/></filter>
<filter id="f82" filterUnits="userSpaceOnUse" x="1200.6" y="1698" width="393" height="161.3" color-interpolation-filters="sRGB"><feTurbulence type="fractalNoise" baseFrequency="0.9" numOctaves="1" seed="112"/><feColorMatrix type="matrix" values="2.4 0 0 0 -0.7 2.4 0 0 0 -0.7 2.4 0 0 0 -0.7 0 0 0 0 1" result="c"/><feGaussianBlur in="c" stdDeviation="0.45" result="c"/></filter>
<filter id="f83" x="-30%" y="-30%" width="160%" height="160%"><feGaussianBlur stdDeviation="14"/></filter>
<filter id="f84" x="-30%" y="-30%" width="160%" height="160%"><feGaussianBlur stdDeviation="6"/></filter>
<filter id="f85" x="-30%" y="-30%" width="160%" height="160%"><feGaussianBlur stdDeviation="0.8"/></filter>
<filter id="f86" x="-30%" y="-30%" width="160%" height="160%"><feGaussianBlur stdDeviation="1.5"/></filter>
<clipPath id="c23"><rect x="1604" y="1698" width="393" height="161.3"/></clipPath>
<filter id="f87" filterUnits="userSpaceOnUse" x="1604" y="1698" width="393" height="161.3" color-interpolation-filters="sRGB"><feTurbulence type="fractalNoise" baseFrequency="0.9" numOctaves="1" seed="12"/><feColorMatrix type="matrix" values="2 0 0 0 -0.82 2 0 0 0 -0.82 2 0 0 0 -0.78 0 0 0 0 1" result="c"/><feGaussianBlur in="c" stdDeviation="0.45" result="c"/></filter>
<filter id="f88" x="-30%" y="-30%" width="160%" height="160%"><feGaussianBlur stdDeviation="8"/></filter>
<filter id="f89" x="-30%" y="-30%" width="160%" height="160%"><feGaussianBlur stdDeviation="9"/></filter>
<filter id="f91" filterUnits="userSpaceOnUse" x="1594" y="1688" width="413" height="181.3" color-interpolation-filters="sRGB"><feTurbulence type="fractalNoise" baseFrequency="0.045" numOctaves="2" seed="97" result="n"/><feDisplacementMap in="SourceGraphic" in2="n" scale="12" xChannelSelector="R" yChannelSelector="G"/><feGaussianBlur stdDeviation="6"/></filter>
<mask id="m90" maskUnits="userSpaceOnUse" x="1604" y="1698" width="393" height="161.3"><g filter="url(#f91)"><path d="M1574 1782C1579 1782 1589 1785 1604 1782C1619 1779 1644 1768.67 1664 1764C1684 1759.33 1700.67 1756 1724 1754C1747.33 1752 1774 1753.33 1804 1752C1834 1750.67 1871.83 1748.67 1904 1746C1936.17 1743.33 1976.5 1737.67 1997 1736C2017.5 1734.33 2022 1736 2027 1736L2027 1873C2022 1873 2067.5 1873 1997 1873C1926.5 1873 1674.5 1873 1604 1873C1533.5 1873 1579 1873 1574 1873Z" fill="#fff" fill-opacity="0.9"/></g></mask>
<filter id="f92" filterUnits="userSpaceOnUse" x="1594" y="1688" width="413" height="181.3" color-interpolation-filters="sRGB"><feTurbulence type="fractalNoise" baseFrequency="0.09" numOctaves="2" seed="94" result="n"/><feDisplacementMap in="SourceGraphic" in2="n" scale="5" xChannelSelector="R" yChannelSelector="G"/><feColorMatrix type="matrix" values="0 0 0 0 0.09 0 0 0 0 0.09 0 0 0 0 0.85 0 0 0 1 0"/></filter>
<filter id="f93" filterUnits="userSpaceOnUse" x="1604" y="1698" width="393" height="161.3" color-interpolation-filters="sRGB"><feTurbulence type="fractalNoise" baseFrequency="0.9" numOctaves="1" seed="112"/><feColorMatrix type="matrix" values="2.4 0 0 0 -0.7 2.4 0 0 0 -0.7 2.4 0 0 0 -0.7 0 0 0 0 1" result="c"/><feGaussianBlur in="c" stdDeviation="0.45" result="c"/></filter>
<filter id="f94" x="-30%" y="-30%" width="160%" height="160%"><feGaussianBlur stdDeviation="14"/></filter>
<filter id="f95" x="-30%" y="-30%" width="160%" height="160%"><feGaussianBlur stdDeviation="6"/></filter>
<filter id="f96" x="-30%" y="-30%" width="160%" height="160%"><feGaussianBlur stdDeviation="0.8"/></filter>
</defs>
<rect width="2000" height="1915" fill="#fff"/>
<g id="panelA">
<text x="13" y="34.5" font-size="48" font-weight="bold" stroke="#000" stroke-width="0.58">A</text>
<line x1="157" y1="155" x2="157" y2="414.2" stroke="#e6e6e6" stroke-width="1.6" />
<line x1="264" y1="155" x2="264" y2="414.2" stroke="#e6e6e6" stroke-width="1.6" />
<line x1="371" y1="155" x2="371" y2="414.2" stroke="#e6e6e6" stroke-width="1.6" />
<line x1="478" y1="155" x2="478" y2="414.2" stroke="#e6e6e6" stroke-width="1.6" />
<line x1="585" y1="155" x2="585" y2="414.2" stroke="#e6e6e6" stroke-width="1.6" />
<line x1="692" y1="155" x2="692" y2="414.2" stroke="#e6e6e6" stroke-width="1.6" />
<line x1="799" y1="155" x2="799" y2="414.2" stroke="#e6e6e6" stroke-width="1.6" />
<line x1="906" y1="155" x2="906" y2="414.2" stroke="#e6e6e6" stroke-width="1.6" />
<line x1="1013" y1="155" x2="1013" y2="414.2" stroke="#e6e6e6" stroke-width="1.6" />
<line x1="1120" y1="155" x2="1120" y2="414.2" stroke="#e6e6e6" stroke-width="1.6" />
<line x1="93.4" y1="232" x2="1181.8" y2="232" stroke="#e6e6e6" stroke-width="1.6" />
<line x1="93.4" y1="341.5" x2="1181.8" y2="341.5" stroke="#e6e6e6" stroke-width="1.6" />
<circle cx="157" cy="232" r="21.65" fill="#8a2be2" stroke="#000" stroke-width="1.5"/>
<circle cx="157" cy="341.5" r="14.05" fill="#8a2be2" stroke="#000" stroke-width="1.5"/>
<circle cx="264" cy="232" r="20.05" fill="#8a2be2" stroke="#000" stroke-width="1.5"/>
<circle cx="264" cy="341.5" r="11.95" fill="#8a2be2" stroke="#000" stroke-width="1.5"/>
<circle cx="371" cy="232" r="22.25" fill="#8a2be2" stroke="#000" stroke-width="1.5"/>
<circle cx="371" cy="341.5" r="15.95" fill="#8a2be2" stroke="#000" stroke-width="1.5"/>
<circle cx="478" cy="232" r="22.65" fill="#8a2be2" stroke="#000" stroke-width="1.5"/>
<circle cx="478" cy="341.5" r="16.15" fill="#bebebe" stroke="#000" stroke-width="1.5"/>
<circle cx="585" cy="232" r="19.65" fill="#ff8c00" stroke="#000" stroke-width="1.5"/>
<circle cx="585" cy="341.5" r="7.65" fill="#bebebe" stroke="#000" stroke-width="1.5"/>
<circle cx="692" cy="232" r="19.65" fill="#ff8c00" stroke="#000" stroke-width="1.5"/>
<circle cx="692" cy="341.5" r="4.35" fill="#bebebe" stroke="#000" stroke-width="1.5"/>
<circle cx="799" cy="232" r="19.25" fill="#ff8c00" stroke="#000" stroke-width="1.5"/>
<circle cx="799" cy="341.5" r="8.45" fill="#bebebe" stroke="#000" stroke-width="1.5"/>
<circle cx="906" cy="232" r="19.05" fill="#ff8c00" stroke="#000" stroke-width="1.5"/>
<circle cx="906" cy="341.5" r="2.85" fill="#bebebe" stroke="#000" stroke-width="1.5"/>
<circle cx="1013" cy="232" r="21.05" fill="#ff8c00" stroke="#000" stroke-width="1.5"/>
<circle cx="1013" cy="341.5" r="10.15" fill="#bebebe" stroke="#000" stroke-width="1.5"/>
<circle cx="1120" cy="232" r="20.05" fill="#ff8c00" stroke="#000" stroke-width="1.5"/>
<circle cx="1120" cy="341.5" r="8.35" fill="#bebebe" stroke="#000" stroke-width="1.5"/>
<rect x="93.4" y="155" width="1088.4" height="259.2" fill="none" stroke="#14303f" stroke-width="2.1"/>
<line x1="157" y1="136.5" x2="157" y2="155" stroke="#000" stroke-width="1.7" />
<text x="158" y="129.5" font-size="27.5" stroke="#000" stroke-width="0.33" transform="rotate(-30 158 129.5)">AP-1</text>
<line x1="264" y1="136.5" x2="264" y2="155" stroke="#000" stroke-width="1.7" />
<text x="263" y="129.5" font-size="27.5" stroke="#000" stroke-width="0.33" transform="rotate(-30 263 129.5)">NEUROD2</text>
<line x1="371" y1="136.5" x2="371" y2="155" stroke="#000" stroke-width="1.7" />
<text x="372.7" y="129.5" font-size="27.5" stroke="#000" stroke-width="0.33" transform="rotate(-30 372.7 129.5)">POU51B</text>
<line x1="478" y1="136.5" x2="478" y2="155" stroke="#000" stroke-width="1.7" />
<text x="480.2" y="129.5" font-size="27.5" stroke="#000" stroke-width="0.33" transform="rotate(-30 480.2 129.5)">POU2F3</text>
<line x1="585" y1="136.5" x2="585" y2="155" stroke="#000" stroke-width="1.7" />
<text x="589.8" y="129.5" font-size="27.5" stroke="#000" stroke-width="0.33" transform="rotate(-30 589.8 129.5)">NR2C1</text>
<line x1="692" y1="136.5" x2="692" y2="155" stroke="#000" stroke-width="1.7" />
<text x="696.5" y="129.5" font-size="27.5" stroke="#000" stroke-width="0.33" transform="rotate(-30 696.5 129.5)">RARA::RXRG</text>
<line x1="799" y1="136.5" x2="799" y2="155" stroke="#000" stroke-width="1.7" />
<text x="803.5" y="129.5" font-size="27.5" stroke="#000" stroke-width="0.33" transform="rotate(-30 803.5 129.5)">NR2F1</text>
<line x1="906" y1="136.5" x2="906" y2="155" stroke="#000" stroke-width="1.7" />
<text x="911.5" y="129.5" font-size="27.5" stroke="#000" stroke-width="0.33" transform="rotate(-30 911.5 129.5)">PLAGL2</text>
<line x1="1013" y1="136.5" x2="1013" y2="155" stroke="#000" stroke-width="1.7" />
<text x="1017.5" y="129.5" font-size="27.5" stroke="#000" stroke-width="0.33" transform="rotate(-30 1017.5 129.5)">PLAGL1</text>
<line x1="1120" y1="136.5" x2="1120" y2="155" stroke="#000" stroke-width="1.7" />
<text x="1125.5" y="129.5" font-size="27.5" stroke="#000" stroke-width="0.33" transform="rotate(-30 1125.5 129.5)">ZFX</text>
<line x1="76.5" y1="232" x2="93.4" y2="232" stroke="#000" stroke-width="1.7" />
<text x="64" y="240.2" font-size="27.6" text-anchor="end" stroke="#000" stroke-width="0.33">Enh</text>
<line x1="76.5" y1="341.5" x2="93.4" y2="341.5" stroke="#000" stroke-width="1.7" />
<text x="64" y="349.7" font-size="27.6" text-anchor="end" stroke="#000" stroke-width="0.33">Prom</text>
<text x="220.5" y="456" font-size="24" stroke="#000" stroke-width="0.29">Predicted occupancy</text>
<rect x="218.8" y="479.3" width="34.6" height="11.2" fill="#b36aeb" stroke="#14303f" stroke-width="1.6" rx="2.5"/>
<text x="269" y="493.8" font-size="24" stroke="#000" stroke-width="0.29">Increased in CA1</text>
<rect x="218.8" y="513.1" width="34.6" height="11.2" fill="#ffb264" stroke="#14303f" stroke-width="1.6" rx="2.5"/>
<text x="269" y="528.7" font-size="24" stroke="#000" stroke-width="0.29">Increased in DG</text>
<rect x="218.8" y="548.1" width="34.6" height="11.2" fill="#d0d0d0" stroke="#14303f" stroke-width="1.6" rx="2.5"/>
<text x="269" y="563" font-size="24" stroke="#000" stroke-width="0.29">No change</text>
<text x="785" y="456" font-size="24" stroke="#000" stroke-width="0.3">-log<tspan font-size="16.5" dy="4.5">10</tspan><tspan dy="-4.5"> p-value</tspan></text>
<circle cx="640.8" cy="498" r="20.75" fill="#fff" stroke="#000" stroke-width="1.5"/>
<text x="680" y="504.8" font-size="18.3" stroke="#000" stroke-width="0.22">175</text>
<circle cx="769.6" cy="498" r="17.95" fill="#fff" stroke="#000" stroke-width="1.5"/>
<text x="808.7" y="504.8" font-size="18.3" stroke="#000" stroke-width="0.22">150</text>
<circle cx="895.4" cy="498" r="14.15" fill="#fff" stroke="#000" stroke-width="1.5"/>
<text x="934.4" y="504.8" font-size="18.3" stroke="#000" stroke-width="0.22">125</text>
<circle cx="1024.5" cy="498" r="8.05" fill="#fff" stroke="#000" stroke-width="1.5"/>
<text x="1063.7" y="504.8" font-size="18.3" stroke="#000" stroke-width="0.22">100</text>
</g>
<g id="panelB">
<text x="1240.5" y="32.5" font-size="48" font-weight="bold" stroke="#000" stroke-width="0.19">B</text>
<text x="1463.5" y="58.6" font-size="32" stroke="#000" stroke-width="0.38" textLength="246.5" lengthAdjust="spacingAndGlyphs">AP-1 (FOS motif)</text>
<g id="logo">
<text transform="translate(1736.8 65.2) scale(0.2275 0.0219)" x="-4.3" y="0" font-size="100" font-weight="bold" fill="#f7a823">G</text>
<text transform="translate(1736.8 63.6) scale(0.2175 0.0192)" x="0" y="0" font-size="100" font-weight="bold" fill="#1a9b4b">A</text>
<text transform="translate(1736.8 62.2) scale(0.2453 0.0178)" x="-4.6" y="0" font-size="100" font-weight="bold" fill="#1f68ad">C</text>
<text transform="translate(1736.8 60.9) scale(0.2764 0.0178)" x="-2.1" y="0" font-size="100" font-weight="bold" fill="#d8283e">T</text>
<text transform="translate(1753.7 65.2) scale(0.2275 0.0206)" x="-4.3" y="0" font-size="100" font-weight="bold" fill="#f7a823">G</text>
<text transform="translate(1753.7 63.7) scale(0.2175 0.0206)" x="0" y="0" font-size="100" font-weight="bold" fill="#1a9b4b">A</text>
<text transform="translate(1753.7 62.2) scale(0.2453 0.0219)" x="-4.6" y="0" font-size="100" font-weight="bold" fill="#1f68ad">C</text>
<text transform="translate(1753.7 60.6) scale(0.2764 0.0165)" x="-2.1" y="0" font-size="100" font-weight="bold" fill="#d8283e">T</text>
<text transform="translate(1770.6 65.2) scale(0.2764 0.5953)" x="-2.1" y="0" font-size="100" font-weight="bold" fill="#d8283e">T</text>
<text transform="translate(1790.5 65.2) scale(0.1708 0.0809)" x="-2.1" y="0" font-size="100" font-weight="bold" fill="#d8283e">T</text>
<text transform="translate(1787.5 59.3) scale(0.2275 0.4074)" x="-4.3" y="0" font-size="100" font-weight="bold" fill="#f7a823">G</text>
<text transform="translate(1804.4 65.2) scale(0.2175 0.5953)" x="0" y="0" font-size="100" font-weight="bold" fill="#1a9b4b">A</text>
<text transform="translate(1821.3 65.2) scale(0.2764 0.0219)" x="-2.1" y="0" font-size="100" font-weight="bold" fill="#d8283e">T</text>
<text transform="translate(1821.3 63.6) scale(0.2275 0.0494)" x="-4.3" y="0" font-size="100" font-weight="bold" fill="#f7a823">G</text>
<text transform="translate(1821.3 60) scale(0.2453 0.0384)" x="-4.6" y="0" font-size="100" font-weight="bold" fill="#1f68ad">C</text>
<text transform="translate(1821.3 57.2) scale(0.2275 0.0412)" x="-4.3" y="0" font-size="100" font-weight="bold" fill="#1a9b4b">G</text>
<text transform="translate(1838.2 65.2) scale(0.2764 0.5953)" x="-2.1" y="0" font-size="100" font-weight="bold" fill="#d8283e">T</text>
<text transform="translate(1855.1 65.2) scale(0.2453 0.5953)" x="-4.6" y="0" font-size="100" font-weight="bold" fill="#1f68ad">C</text>
<text transform="translate(1872 65.2) scale(0.2175 0.5953)" x="0" y="0" font-size="100" font-weight="bold" fill="#1a9b4b">A</text>
<text transform="translate(1888.9 65.2) scale(0.2275 0.0219)" x="-4.3" y="0" font-size="100" font-weight="bold" fill="#f7a823">G</text>
<text transform="translate(1888.9 63.6) scale(0.2453 0.0549)" x="-4.6" y="0" font-size="100" font-weight="bold" fill="#1f68ad">C</text>
<text transform="translate(1888.9 59.6) scale(0.2764 0.1920)" x="-2.1" y="0" font-size="100" font-weight="bold" fill="#d8283e">T</text>
<text transform="translate(1905.8 65.2) scale(0.2764 0.0110)" x="-2.1" y="0" font-size="100" font-weight="bold" fill="#d8283e">T</text>
<text transform="translate(1905.8 64.4) scale(0.2275 0.0082)" x="-4.3" y="0" font-size="100" font-weight="bold" fill="#f7a823">G</text>
</g>
<rect x="1372" y="83.4" width="185.7" height="184.2" fill="#fff"/>
<g fill="none" stroke-linejoin="round"><use href="#bc0" x="0.45" stroke="#ff22ff" stroke-width="1.1" opacity="0.85"/><use href="#bc0" stroke="#2c0b86" stroke-width="0.75"/></g>
<line x1="1372" y1="83.4" x2="1557.7" y2="83.4" stroke="#2a4252" stroke-width="1" />
<line x1="1557.7" y1="83.4" x2="1557.7" y2="267.6" stroke="#1c3444" stroke-width="1.3" />
<line x1="1372" y1="82.9" x2="1372" y2="268.6" stroke="#0c2230" stroke-width="2" />
<line x1="1371" y1="267.6" x2="1558.3" y2="267.6" stroke="#0c2230" stroke-width="2" />
<line x1="1372" y1="268.6" x2="1372" y2="270.6" stroke="#0c2230" stroke-width="0.9" />
<line x1="1402.95" y1="268.6" x2="1402.95" y2="270.6" stroke="#0c2230" stroke-width="0.9" />
<line x1="1433.9" y1="268.6" x2="1433.9" y2="270.6" stroke="#0c2230" stroke-width="0.9" />
<line x1="1464.85" y1="268.6" x2="1464.85" y2="270.6" stroke="#0c2230" stroke-width="0.9" />
<line x1="1495.8" y1="268.6" x2="1495.8" y2="270.6" stroke="#0c2230" stroke-width="0.9" />
<line x1="1526.75" y1="268.6" x2="1526.75" y2="270.6" stroke="#0c2230" stroke-width="0.9" />
<line x1="1557.7" y1="268.6" x2="1557.7" y2="270.6" stroke="#0c2230" stroke-width="0.9" />
<text x="1375.2" y="284.5" font-size="16.2" text-anchor="middle" stroke="#000" stroke-width="0.13" textLength="20.8" lengthAdjust="spacingAndGlyphs">-60</text>
<text x="1403.75" y="284.5" font-size="16.2" text-anchor="middle" stroke="#000" stroke-width="0.13" textLength="20.8" lengthAdjust="spacingAndGlyphs">-40</text>
<text x="1435.1" y="284.5" font-size="16.2" text-anchor="middle" stroke="#000" stroke-width="0.13" textLength="20.8" lengthAdjust="spacingAndGlyphs">-20</text>
<text x="1465.55" y="284.5" font-size="16.2" text-anchor="middle" stroke="#000" stroke-width="0.13" textLength="7.9" lengthAdjust="spacingAndGlyphs">0</text>
<text x="1494" y="284.5" font-size="16.2" text-anchor="middle" stroke="#000" stroke-width="0.13" textLength="15.4" lengthAdjust="spacingAndGlyphs">20</text>
<text x="1526.15" y="284.5" font-size="16.2" text-anchor="middle" stroke="#000" stroke-width="0.13" textLength="15.4" lengthAdjust="spacingAndGlyphs">40</text>
<text x="1554.1" y="284.5" font-size="16.2" text-anchor="middle" stroke="#000" stroke-width="0.13" textLength="15.4" lengthAdjust="spacingAndGlyphs">60</text>
<rect x="1588.8" y="83.4" width="185.6" height="184.2" fill="#fff"/>
<g fill="none" stroke-linejoin="round"><use href="#bd0" x="0.45" stroke="#ffd800" stroke-width="1.1" opacity="0.85"/><use href="#bd0" stroke="#d47a00" stroke-width="0.75"/></g>
<line x1="1588.8" y1="83.4" x2="1774.4" y2="83.4" stroke="#2a4252" stroke-width="1" />
<line x1="1774.4" y1="83.4" x2="1774.4" y2="267.6" stroke="#1c3444" stroke-width="1.3" />
<line x1="1588.8" y1="82.9" x2="1588.8" y2="268.6" stroke="#0c2230" stroke-width="2" />
<line x1="1587.8" y1="267.6" x2="1775" y2="267.6" stroke="#0c2230" stroke-width="2" />
<line x1="1588.8" y1="268.6" x2="1588.8" y2="270.6" stroke="#0c2230" stroke-width="0.9" />
<line x1="1619.73" y1="268.6" x2="1619.73" y2="270.6" stroke="#0c2230" stroke-width="0.9" />
<line x1="1650.67" y1="268.6" x2="1650.67" y2="270.6" stroke="#0c2230" stroke-width="0.9" />
<line x1="1681.6" y1="268.6" x2="1681.6" y2="270.6" stroke="#0c2230" stroke-width="0.9" />
<line x1="1712.53" y1="268.6" x2="1712.53" y2="270.6" stroke="#0c2230" stroke-width="0.9" />
<line x1="1743.47" y1="268.6" x2="1743.47" y2="270.6" stroke="#0c2230" stroke-width="0.9" />
<line x1="1774.4" y1="268.6" x2="1774.4" y2="270.6" stroke="#0c2230" stroke-width="0.9" />
<text x="1588.8" y="284.5" font-size="16.2" text-anchor="middle" stroke="#000" stroke-width="0.13" textLength="20.8" lengthAdjust="spacingAndGlyphs">-60</text>
<text x="1619.73" y="284.5" font-size="16.2" text-anchor="middle" stroke="#000" stroke-width="0.13" textLength="20.8" lengthAdjust="spacingAndGlyphs">-40</text>
<text x="1649.67" y="284.5" font-size="16.2" text-anchor="middle" stroke="#000" stroke-width="0.13" textLength="20.8" lengthAdjust="spacingAndGlyphs">-20</text>
<text x="1683.6" y="284.5" font-size="16.2" text-anchor="middle" stroke="#000" stroke-width="0.13" textLength="7.9" lengthAdjust="spacingAndGlyphs">0</text>
<text x="1711.53" y="284.5" font-size="16.2" text-anchor="middle" stroke="#000" stroke-width="0.13" textLength="15.4" lengthAdjust="spacingAndGlyphs">20</text>
<text x="1743.47" y="284.5" font-size="16.2" text-anchor="middle" stroke="#000" stroke-width="0.13" textLength="15.4" lengthAdjust="spacingAndGlyphs">40</text>
<text x="1771.8" y="284.5" font-size="16.2" text-anchor="middle" stroke="#000" stroke-width="0.13" textLength="15.4" lengthAdjust="spacingAndGlyphs">60</text>
<rect x="1804.4" y="83.4" width="186" height="184.2" fill="#fff"/>
<g fill="none" stroke-linejoin="round" transform="translate(216.3 0)"><use href="#bd0" x="0.45" stroke="#ffd800" stroke-width="1.1" opacity="0.85"/><use href="#bd0" stroke="#d47a00" stroke-width="0.75"/></g>
<g fill="none" stroke-linejoin="round" transform="translate(431.4 0)" style="mix-blend-mode:multiply"><use href="#bc0" x="0.45" stroke="#ff22ff" stroke-width="1.1" opacity="0.85"/><use href="#bc0" stroke="#2c0b86" stroke-width="0.75"/></g>
<line x1="1804.4" y1="83.4" x2="1990.4" y2="83.4" stroke="#2a4252" stroke-width="1" />
<line x1="1990.4" y1="83.4" x2="1990.4" y2="267.6" stroke="#1c3444" stroke-width="1.3" />
<line x1="1804.4" y1="82.9" x2="1804.4" y2="268.6" stroke="#0c2230" stroke-width="2" />
<line x1="1803.4" y1="267.6" x2="1991" y2="267.6" stroke="#0c2230" stroke-width="2" />
<line x1="1804.4" y1="268.6" x2="1804.4" y2="270.6" stroke="#0c2230" stroke-width="0.9" />
<line x1="1835.4" y1="268.6" x2="1835.4" y2="270.6" stroke="#0c2230" stroke-width="0.9" />
<line x1="1866.4" y1="268.6" x2="1866.4" y2="270.6" stroke="#0c2230" stroke-width="0.9" />
<line x1="1897.4" y1="268.6" x2="1897.4" y2="270.6" stroke="#0c2230" stroke-width="0.9" />
<line x1="1928.4" y1="268.6" x2="1928.4" y2="270.6" stroke="#0c2230" stroke-width="0.9" />
<line x1="1959.4" y1="268.6" x2="1959.4" y2="270.6" stroke="#0c2230" stroke-width="0.9" />
<line x1="1990.4" y1="268.6" x2="1990.4" y2="270.6" stroke="#0c2230" stroke-width="0.9" />
<text x="1803.9" y="284.5" font-size="16.2" text-anchor="middle" stroke="#000" stroke-width="0.13" textLength="20.8" lengthAdjust="spacingAndGlyphs">-60</text>
<text x="1832.4" y="284.5" font-size="16.2" text-anchor="middle" stroke="#000" stroke-width="0.13" textLength="20.8" lengthAdjust="spacingAndGlyphs">-40</text>
<text x="1864.2" y="284.5" font-size="16.2" text-anchor="middle" stroke="#000" stroke-width="0.13" textLength="20.8" lengthAdjust="spacingAndGlyphs">-20</text>
<text x="1898.2" y="284.5" font-size="16.2" text-anchor="middle" stroke="#000" stroke-width="0.13" textLength="7.9" lengthAdjust="spacingAndGlyphs">0</text>
<text x="1927.3" y="284.5" font-size="16.2" text-anchor="middle" stroke="#000" stroke-width="0.13" textLength="15.4" lengthAdjust="spacingAndGlyphs">20</text>
<text x="1959.4" y="284.5" font-size="16.2" text-anchor="middle" stroke="#000" stroke-width="0.13" textLength="15.4" lengthAdjust="spacingAndGlyphs">40</text>
<text x="1990.4" y="284.5" font-size="16.2" text-anchor="middle" stroke="#000" stroke-width="0.13" textLength="15.4" lengthAdjust="spacingAndGlyphs">60</text>
<text x="1367" y="104.7" font-size="12.2" text-anchor="end" stroke="#000" stroke-width="0.12">0.08</text>
<line x1="1369.5" y1="100.4" x2="1371.5" y2="100.4" stroke="#0c2230" stroke-width="0.8" />
<line x1="1585.2" y1="100.4" x2="1587.6" y2="100.4" stroke="#9aa4aa" stroke-width="0.8" />
<line x1="1800.8" y1="100.4" x2="1803.2" y2="100.4" stroke="#9aa4aa" stroke-width="0.8" />
<text x="1367" y="133.7" font-size="12.2" text-anchor="end" stroke="#000" stroke-width="0.12">0.06</text>
<line x1="1369.5" y1="129.4" x2="1371.5" y2="129.4" stroke="#0c2230" stroke-width="0.8" />
<line x1="1585.2" y1="129.4" x2="1587.6" y2="129.4" stroke="#9aa4aa" stroke-width="0.8" />
<line x1="1800.8" y1="129.4" x2="1803.2" y2="129.4" stroke="#9aa4aa" stroke-width="0.8" />
<text x="1367" y="162.8" font-size="12.2" text-anchor="end" stroke="#000" stroke-width="0.12">0.04</text>
<line x1="1369.5" y1="158.5" x2="1371.5" y2="158.5" stroke="#0c2230" stroke-width="0.8" />
<line x1="1585.2" y1="158.5" x2="1587.6" y2="158.5" stroke="#9aa4aa" stroke-width="0.8" />
<line x1="1800.8" y1="158.5" x2="1803.2" y2="158.5" stroke="#9aa4aa" stroke-width="0.8" />
<text x="1367" y="191.6" font-size="12.2" text-anchor="end" stroke="#000" stroke-width="0.12">0.02</text>
<line x1="1369.5" y1="187.3" x2="1371.5" y2="187.3" stroke="#0c2230" stroke-width="0.8" />
<line x1="1585.2" y1="187.3" x2="1587.6" y2="187.3" stroke="#9aa4aa" stroke-width="0.8" />
<line x1="1800.8" y1="187.3" x2="1803.2" y2="187.3" stroke="#9aa4aa" stroke-width="0.8" />
<text x="1367" y="220.6" font-size="12.2" text-anchor="end" stroke="#000" stroke-width="0.12">0.00</text>
<line x1="1369.5" y1="216.3" x2="1371.5" y2="216.3" stroke="#0c2230" stroke-width="0.8" />
<line x1="1585.2" y1="216.3" x2="1587.6" y2="216.3" stroke="#9aa4aa" stroke-width="0.8" />
<line x1="1800.8" y1="216.3" x2="1803.2" y2="216.3" stroke="#9aa4aa" stroke-width="0.8" />
<text x="1367" y="249.8" font-size="12.2" text-anchor="end" stroke="#000" stroke-width="0.12">-0.02</text>
<line x1="1369.5" y1="245.5" x2="1371.5" y2="245.5" stroke="#0c2230" stroke-width="0.8" />
<line x1="1585.2" y1="245.5" x2="1587.6" y2="245.5" stroke="#9aa4aa" stroke-width="0.8" />
<line x1="1800.8" y1="245.5" x2="1803.2" y2="245.5" stroke="#9aa4aa" stroke-width="0.8" />
<rect x="1372" y="306.3" width="185.7" height="184.3" fill="#fff"/>
<g fill="none" stroke-linejoin="round"><use href="#bc1" x="0.45" stroke="#ff22ff" stroke-width="1.1" opacity="0.85"/><use href="#bc1" stroke="#2c0b86" stroke-width="0.75"/></g>
<rect x="1372" y="306.3" width="185.7" height="184.3" fill="none" stroke="#0c2230" stroke-width="2"/>
<line x1="1372" y1="491.6" x2="1372" y2="493.6" stroke="#0c2230" stroke-width="0.9" />
<line x1="1402.95" y1="491.6" x2="1402.95" y2="493.6" stroke="#0c2230" stroke-width="0.9" />
<line x1="1433.9" y1="491.6" x2="1433.9" y2="493.6" stroke="#0c2230" stroke-width="0.9" />
<line x1="1464.85" y1="491.6" x2="1464.85" y2="493.6" stroke="#0c2230" stroke-width="0.9" />
<line x1="1495.8" y1="491.6" x2="1495.8" y2="493.6" stroke="#0c2230" stroke-width="0.9" />
<line x1="1526.75" y1="491.6" x2="1526.75" y2="493.6" stroke="#0c2230" stroke-width="0.9" />
<line x1="1557.7" y1="491.6" x2="1557.7" y2="493.6" stroke="#0c2230" stroke-width="0.9" />
<text x="1376" y="506.9" font-size="16.2" text-anchor="middle" stroke="#000" stroke-width="0.13" textLength="20.8" lengthAdjust="spacingAndGlyphs">-60</text>
<text x="1404.15" y="506.9" font-size="16.2" text-anchor="middle" stroke="#000" stroke-width="0.13" textLength="20.8" lengthAdjust="spacingAndGlyphs">-40</text>
<text x="1432.9" y="506.9" font-size="16.2" text-anchor="middle" stroke="#000" stroke-width="0.13" textLength="20.8" lengthAdjust="spacingAndGlyphs">-20</text>
<text x="1466.85" y="506.9" font-size="16.2" text-anchor="middle" stroke="#000" stroke-width="0.13" textLength="7.9" lengthAdjust="spacingAndGlyphs">0</text>
<text x="1498.1" y="506.9" font-size="16.2" text-anchor="middle" stroke="#000" stroke-width="0.13" textLength="15.4" lengthAdjust="spacingAndGlyphs">20</text>
<text x="1526.75" y="506.9" font-size="16.2" text-anchor="middle" stroke="#000" stroke-width="0.13" textLength="15.4" lengthAdjust="spacingAndGlyphs">40</text>
<text x="1554.4" y="506.9" font-size="16.2" text-anchor="middle" stroke="#000" stroke-width="0.13" textLength="15.4" lengthAdjust="spacingAndGlyphs">60</text>
<text x="1465.45" y="531.5" font-size="19.6" text-anchor="middle" stroke="#000" stroke-width="0.24" textLength="116.5" lengthAdjust="spacingAndGlyphs">bp from center</text>
<rect x="1588.8" y="306.3" width="185.6" height="184.3" fill="#fff"/>
<g fill="none" stroke-linejoin="round"><use href="#bd1" x="0.45" stroke="#ffd800" stroke-width="1.1" opacity="0.85"/><use href="#bd1" stroke="#d47a00" stroke-width="0.75"/></g>
<rect x="1588.8" y="306.3" width="185.6" height="184.3" fill="none" stroke="#0c2230" stroke-width="2"/>
<line x1="1588.8" y1="491.6" x2="1588.8" y2="493.6" stroke="#0c2230" stroke-width="0.9" />
<line x1="1619.73" y1="491.6" x2="1619.73" y2="493.6" stroke="#0c2230" stroke-width="0.9" />
<line x1="1650.67" y1="491.6" x2="1650.67" y2="493.6" stroke="#0c2230" stroke-width="0.9" />
<line x1="1681.6" y1="491.6" x2="1681.6" y2="493.6" stroke="#0c2230" stroke-width="0.9" />
<line x1="1712.53" y1="491.6" x2="1712.53" y2="493.6" stroke="#0c2230" stroke-width="0.9" />
<line x1="1743.47" y1="491.6" x2="1743.47" y2="493.6" stroke="#0c2230" stroke-width="0.9" />
<line x1="1774.4" y1="491.6" x2="1774.4" y2="493.6" stroke="#0c2230" stroke-width="0.9" />
<text x="1588.8" y="506.9" font-size="16.2" text-anchor="middle" stroke="#000" stroke-width="0.13" textLength="20.8" lengthAdjust="spacingAndGlyphs">-60</text>
<text x="1617.13" y="506.9" font-size="16.2" text-anchor="middle" stroke="#000" stroke-width="0.13" textLength="20.8" lengthAdjust="spacingAndGlyphs">-40</text>
<text x="1649.37" y="506.9" font-size="16.2" text-anchor="middle" stroke="#000" stroke-width="0.13" textLength="20.8" lengthAdjust="spacingAndGlyphs">-20</text>
<text x="1684" y="506.9" font-size="16.2" text-anchor="middle" stroke="#000" stroke-width="0.13" textLength="7.9" lengthAdjust="spacingAndGlyphs">0</text>
<text x="1715.83" y="506.9" font-size="16.2" text-anchor="middle" stroke="#000" stroke-width="0.13" textLength="15.4" lengthAdjust="spacingAndGlyphs">20</text>
<text x="1743.87" y="506.9" font-size="16.2" text-anchor="middle" stroke="#000" stroke-width="0.13" textLength="15.4" lengthAdjust="spacingAndGlyphs">40</text>
<text x="1776.2" y="506.9" font-size="16.2" text-anchor="middle" stroke="#000" stroke-width="0.13" textLength="15.4" lengthAdjust="spacingAndGlyphs">60</text>
<text x="1682.2" y="531.5" font-size="19.6" text-anchor="middle" stroke="#000" stroke-width="0.24" textLength="116.5" lengthAdjust="spacingAndGlyphs">bp from center</text>
<rect x="1804.4" y="306.3" width="186" height="184.3" fill="#fff"/>
<g fill="none" stroke-linejoin="round" transform="translate(216.3 0)"><use href="#bd1" x="0.45" stroke="#ffd800" stroke-width="1.1" opacity="0.85"/><use href="#bd1" stroke="#d47a00" stroke-width="0.75"/></g>
<g fill="none" stroke-linejoin="round" transform="translate(431.4 0)" style="mix-blend-mode:multiply"><use href="#bc1" x="0.45" stroke="#ff22ff" stroke-width="1.1" opacity="0.85"/><use href="#bc1" stroke="#2c0b86" stroke-width="0.75"/></g>
<rect x="1804.4" y="306.3" width="186" height="184.3" fill="none" stroke="#0c2230" stroke-width="2"/>
<line x1="1804.4" y1="491.6" x2="1804.4" y2="493.6" stroke="#0c2230" stroke-width="0.9" />
<line x1="1835.4" y1="491.6" x2="1835.4" y2="493.6" stroke="#0c2230" stroke-width="0.9" />
<line x1="1866.4" y1="491.6" x2="1866.4" y2="493.6" stroke="#0c2230" stroke-width="0.9" />
<line x1="1897.4" y1="491.6" x2="1897.4" y2="493.6" stroke="#0c2230" stroke-width="0.9" />
<line x1="1928.4" y1="491.6" x2="1928.4" y2="493.6" stroke="#0c2230" stroke-width="0.9" />
<line x1="1959.4" y1="491.6" x2="1959.4" y2="493.6" stroke="#0c2230" stroke-width="0.9" />
<line x1="1990.4" y1="491.6" x2="1990.4" y2="493.6" stroke="#0c2230" stroke-width="0.9" />
<text x="1804.4" y="506.9" font-size="16.2" text-anchor="middle" stroke="#000" stroke-width="0.13" textLength="20.8" lengthAdjust="spacingAndGlyphs">-60</text>
<text x="1834.4" y="506.9" font-size="16.2" text-anchor="middle" stroke="#000" stroke-width="0.13" textLength="20.8" lengthAdjust="spacingAndGlyphs">-40</text>
<text x="1866.4" y="506.9" font-size="16.2" text-anchor="middle" stroke="#000" stroke-width="0.13" textLength="20.8" lengthAdjust="spacingAndGlyphs">-20</text>
<text x="1900.7" y="506.9" font-size="16.2" text-anchor="middle" stroke="#000" stroke-width="0.13" textLength="7.9" lengthAdjust="spacingAndGlyphs">0</text>
<text x="1928.8" y="506.9" font-size="16.2" text-anchor="middle" stroke="#000" stroke-width="0.13" textLength="15.4" lengthAdjust="spacingAndGlyphs">20</text>
<text x="1960.4" y="506.9" font-size="16.2" text-anchor="middle" stroke="#000" stroke-width="0.13" textLength="15.4" lengthAdjust="spacingAndGlyphs">40</text>
<text x="1992.4" y="506.9" font-size="16.2" text-anchor="middle" stroke="#000" stroke-width="0.13" textLength="15.4" lengthAdjust="spacingAndGlyphs">60</text>
<text x="1898" y="531.5" font-size="19.6" text-anchor="middle" stroke="#000" stroke-width="0.24" textLength="116.5" lengthAdjust="spacingAndGlyphs">bp from center</text>
<text x="1367" y="312.3" font-size="12.2" text-anchor="end" stroke="#000" stroke-width="0.12">0.25</text>
<line x1="1369.5" y1="308" x2="1371.5" y2="308" stroke="#0c2230" stroke-width="0.8" />
<line x1="1585.2" y1="308" x2="1587.6" y2="308" stroke="#9aa4aa" stroke-width="0.8" />
<line x1="1800.8" y1="308" x2="1803.2" y2="308" stroke="#9aa4aa" stroke-width="0.8" />
<text x="1367" y="338" font-size="12.2" text-anchor="end" stroke="#000" stroke-width="0.12">0.20</text>
<line x1="1369.5" y1="333.7" x2="1371.5" y2="333.7" stroke="#0c2230" stroke-width="0.8" />
<line x1="1585.2" y1="333.7" x2="1587.6" y2="333.7" stroke="#9aa4aa" stroke-width="0.8" />
<line x1="1800.8" y1="333.7" x2="1803.2" y2="333.7" stroke="#9aa4aa" stroke-width="0.8" />
<text x="1367" y="363.7" font-size="12.2" text-anchor="end" stroke="#000" stroke-width="0.12">0.15</text>
<line x1="1369.5" y1="359.4" x2="1371.5" y2="359.4" stroke="#0c2230" stroke-width="0.8" />
<line x1="1585.2" y1="359.4" x2="1587.6" y2="359.4" stroke="#9aa4aa" stroke-width="0.8" />
<line x1="1800.8" y1="359.4" x2="1803.2" y2="359.4" stroke="#9aa4aa" stroke-width="0.8" />
<text x="1367" y="389.4" font-size="12.2" text-anchor="end" stroke="#000" stroke-width="0.12">0.10</text>
<line x1="1369.5" y1="385.1" x2="1371.5" y2="385.1" stroke="#0c2230" stroke-width="0.8" />
<line x1="1585.2" y1="385.1" x2="1587.6" y2="385.1" stroke="#9aa4aa" stroke-width="0.8" />
<line x1="1800.8" y1="385.1" x2="1803.2" y2="385.1" stroke="#9aa4aa" stroke-width="0.8" />
<text x="1367" y="415.2" font-size="12.2" text-anchor="end" stroke="#000" stroke-width="0.12">0.05</text>
<line x1="1369.5" y1="410.9" x2="1371.5" y2="410.9" stroke="#0c2230" stroke-width="0.8" />
<line x1="1585.2" y1="410.9" x2="1587.6" y2="410.9" stroke="#9aa4aa" stroke-width="0.8" />
<line x1="1800.8" y1="410.9" x2="1803.2" y2="410.9" stroke="#9aa4aa" stroke-width="0.8" />
<text x="1367" y="440.9" font-size="12.2" text-anchor="end" stroke="#000" stroke-width="0.12">0.00</text>
<line x1="1369.5" y1="436.6" x2="1371.5" y2="436.6" stroke="#0c2230" stroke-width="0.8" />
<line x1="1585.2" y1="436.6" x2="1587.6" y2="436.6" stroke="#9aa4aa" stroke-width="0.8" />
<line x1="1800.8" y1="436.6" x2="1803.2" y2="436.6" stroke="#9aa4aa" stroke-width="0.8" />
<text x="1367" y="466.6" font-size="12.2" text-anchor="end" stroke="#000" stroke-width="0.12">-0.05</text>
<line x1="1369.5" y1="462.3" x2="1371.5" y2="462.3" stroke="#0c2230" stroke-width="0.8" />
<line x1="1585.2" y1="462.3" x2="1587.6" y2="462.3" stroke="#9aa4aa" stroke-width="0.8" />
<line x1="1800.8" y1="462.3" x2="1803.2" y2="462.3" stroke="#9aa4aa" stroke-width="0.8" />
<text x="1367" y="492.3" font-size="12.2" text-anchor="end" stroke="#000" stroke-width="0.12">-0.10</text>
<line x1="1369.5" y1="488" x2="1371.5" y2="488" stroke="#0c2230" stroke-width="0.8" />
<line x1="1585.2" y1="488" x2="1587.6" y2="488" stroke="#9aa4aa" stroke-width="0.8" />
<line x1="1800.8" y1="488" x2="1803.2" y2="488" stroke="#9aa4aa" stroke-width="0.8" />
<line x1="1303.6" y1="79.4" x2="1303.6" y2="272" stroke="#000" stroke-width="2.1" />
<line x1="1303.6" y1="300.2" x2="1303.6" y2="493.2" stroke="#000" stroke-width="2.1" />
<text x="1288" y="179" font-size="28" text-anchor="middle" stroke="#000" stroke-width="0.34" transform="rotate(-90 1288 179)" textLength="118.5" lengthAdjust="spacingAndGlyphs">Enhancer</text>
<text x="1288" y="396.5" font-size="28" text-anchor="middle" stroke="#000" stroke-width="0.34" transform="rotate(-90 1288 396.5)" textLength="114" lengthAdjust="spacingAndGlyphs">Promoter</text>
<text x="1326" y="177.5" font-size="19.3" text-anchor="middle" stroke="#000" stroke-width="0.23" transform="rotate(-90 1326 177.5)" textLength="167" lengthAdjust="spacingAndGlyphs">Norm. Tn5 insertions</text>
<text x="1326" y="398.8" font-size="19.3" text-anchor="middle" stroke="#000" stroke-width="0.23" transform="rotate(-90 1326 398.8)" textLength="167" lengthAdjust="spacingAndGlyphs">Norm. Tn5 insertions</text>
<text x="1515" y="263" font-size="18.8" fill="#b266ff" stroke="#b266ff" stroke-width="0.11" textLength="36.3" lengthAdjust="spacingAndGlyphs">CA1</text>
<text x="1738.2" y="263" font-size="18.8" fill="#ffa54f" stroke="#ffa54f" stroke-width="0.11" textLength="28.8" lengthAdjust="spacingAndGlyphs">DG</text>
<text x="1925.2" y="261.2" font-size="18.8" stroke="#000" stroke-width="0.19" textLength="55" lengthAdjust="spacingAndGlyphs">merge</text>
<text x="1515" y="485.6" font-size="18.8" fill="#b266ff" stroke="#b266ff" stroke-width="0.11" textLength="36.3" lengthAdjust="spacingAndGlyphs">CA1</text>
<text x="1738.2" y="485.6" font-size="18.8" fill="#ffa54f" stroke="#ffa54f" stroke-width="0.11" textLength="28.8" lengthAdjust="spacingAndGlyphs">DG</text>
<text x="1925.2" y="483.8" font-size="18.8" stroke="#000" stroke-width="0.19" textLength="55" lengthAdjust="spacingAndGlyphs">merge</text>
<line x1="1990.9" y1="306.3" x2="1990.9" y2="490" stroke="#d8d8d8" stroke-width="1.2" />
</g>
<g id="panelC">
<text x="14" y="647" font-size="48" font-weight="bold" stroke="#000" stroke-width="0.58">C</text>
<text x="80.4" y="658" font-size="32" stroke="#000" stroke-width="0.38">CA1 DEGs up (1339)</text>
<circle cx="237.2" cy="794.4" r="115.2" fill="#cb9bff" stroke="#0f2836" stroke-width="3.6"/>
<circle cx="345.6" cy="794.2" r="78.2" fill="#7fb3d1" fill-opacity="0.5"/>
<circle cx="345.6" cy="794.2" r="78.2" fill="none" stroke="#0f2836" stroke-width="3.6"/>
<text x="310.7" y="809.5" font-size="30" text-anchor="middle" font-weight="bold" fill="#fff" stroke="#fff" stroke-width="0.36">31</text>
<text x="344.4" y="705.4" font-size="32" stroke="#000" stroke-width="0.38">KA up (200)</text>
<text x="274.6" y="954.2" font-size="32" text-anchor="middle" stroke="#000" stroke-width="0.38">hypergeometric</text>
<text x="172" y="989.1" font-size="32" stroke="#000" stroke-width="0.38">p = 4.99 x 10<tspan font-size="19" dy="-9">-5</tspan></text>
<text x="563.6" y="658" font-size="32" stroke="#000" stroke-width="0.38">DG DEGs up (1213)</text>
<circle cx="713.3" cy="794.4" r="115.2" fill="#ffad4f" stroke="#0f2836" stroke-width="3.6"/>
<circle cx="849.6" cy="794.2" r="78.2" fill="#7fb3d1" fill-opacity="0.5"/>
<circle cx="849.6" cy="794.2" r="78.2" fill="none" stroke="#0f2836" stroke-width="3.6"/>
<text x="802" y="809.5" font-size="30" text-anchor="middle" font-weight="bold" fill="#fff" stroke="#fff" stroke-width="0.36">14</text>
<text x="843.7" y="705.4" font-size="32" stroke="#000" stroke-width="0.38">KA up (200)</text>
<text x="760" y="954.2" font-size="32" text-anchor="middle" stroke="#000" stroke-width="0.38">hypergeometric</text>
<text x="760" y="989.1" font-size="32" text-anchor="middle" stroke="#000" stroke-width="0.38">p = 0.28</text>
</g>
<g id="panelD">
<text x="1088.6" y="642.2" font-size="48" font-weight="bold" stroke="#000" stroke-width="0.19">D</text>
<rect x="1811.8" y="618.5" width="26.2" height="27" fill="#ffd580" stroke="#14303f" stroke-width="2.6"/>
<text x="1846.5" y="643.3" font-size="24.5" stroke="#000" stroke-width="0.29">DG</text>
<rect x="1898.8" y="618.5" width="26.2" height="27" fill="#d783ff" stroke="#14303f" stroke-width="2.6"/>
<text x="1933.8" y="643.3" font-size="24.5" stroke="#000" stroke-width="0.29">CA1</text>
<rect x="1211.5" y="948.7" width="22" height="65.8" fill="#ffd580" stroke="#000" stroke-width="3"/>
<rect x="1242.8" y="793.26" width="21.6" height="221.24" fill="#d783ff" stroke="#000" stroke-width="3"/>
<line x1="1222.5" y1="938" x2="1222.5" y2="955" stroke="#000" stroke-width="1.8" />
<line x1="1216" y1="938" x2="1229" y2="938" stroke="#000" stroke-width="1.8" />
<line x1="1216" y1="955" x2="1229" y2="955" stroke="#000" stroke-width="1.8" />
<circle cx="1222.5" cy="937.5" r="3.4" fill="#000"/>
<circle cx="1215" cy="951.3" r="3.4" fill="#000"/>
<circle cx="1230" cy="951.3" r="3.4" fill="#000"/>
<line x1="1253.6" y1="737.5" x2="1253.6" y2="843.3" stroke="#000" stroke-width="1.8" />
<line x1="1247.1" y1="737.5" x2="1260.1" y2="737.5" stroke="#000" stroke-width="1.8" />
<line x1="1247.1" y1="843.3" x2="1260.1" y2="843.3" stroke="#000" stroke-width="1.8" />
<circle cx="1253.6" cy="735.8" r="3.4" fill="#000"/>
<circle cx="1253.6" cy="796.8" r="3.4" fill="#000"/>
<circle cx="1253.6" cy="840.8" r="3.4" fill="#000"/>
<text x="1211.65" y="721.05" font-size="32" letter-spacing="2.15">****</text>
<text x="1232.5" y="1045" font-size="26.8" text-anchor="middle" font-style="italic" stroke="#000" stroke-width="0.32">Arc</text>
<rect x="1299.22" y="948.7" width="22" height="65.8" fill="#ffd580" stroke="#000" stroke-width="3"/>
<rect x="1330.52" y="832.79" width="21.6" height="181.71" fill="#d783ff" stroke="#000" stroke-width="3"/>
<line x1="1310.22" y1="923.8" x2="1310.22" y2="968.8" stroke="#000" stroke-width="1.8" />
<line x1="1303.72" y1="923.8" x2="1316.72" y2="923.8" stroke="#000" stroke-width="1.8" />
<line x1="1303.72" y1="968.8" x2="1316.72" y2="968.8" stroke="#000" stroke-width="1.8" />
<circle cx="1310.22" cy="920" r="3.4" fill="#000"/>
<circle cx="1301.02" cy="961.3" r="3.4" fill="#000"/>
<circle cx="1319.02" cy="958.8" r="3.4" fill="#000"/>
<line x1="1341.32" y1="775" x2="1341.32" y2="885" stroke="#000" stroke-width="1.8" />
<line x1="1334.82" y1="775" x2="1347.82" y2="775" stroke="#000" stroke-width="1.8" />
<line x1="1334.82" y1="885" x2="1347.82" y2="885" stroke="#000" stroke-width="1.8" />
<circle cx="1341.32" cy="773" r="3.4" fill="#000"/>
<circle cx="1341.32" cy="832.5" r="3.4" fill="#000"/>
<circle cx="1341.32" cy="883.8" r="3.4" fill="#000"/>
<text x="1306.35" y="761.25" font-size="32" letter-spacing="2.15">***</text>
<text x="1323.1" y="1045" font-size="26.8" text-anchor="middle" font-style="italic" stroke="#000" stroke-width="0.32">c-Fos</text>
<rect x="1386.94" y="948.7" width="22" height="65.8" fill="#ffd580" stroke="#000" stroke-width="3"/>
<rect x="1418.24" y="734.3" width="21.6" height="280.2" fill="#d783ff" stroke="#000" stroke-width="3"/>
<line x1="1397.94" y1="938.8" x2="1397.94" y2="954.3" stroke="#000" stroke-width="1.8" />
<line x1="1391.44" y1="938.8" x2="1404.44" y2="938.8" stroke="#000" stroke-width="1.8" />
<line x1="1391.44" y1="954.3" x2="1404.44" y2="954.3" stroke="#000" stroke-width="1.8" />
<circle cx="1397.94" cy="939.3" r="3.4" fill="#000"/>
<circle cx="1397.94" cy="946.3" r="3.4" fill="#000"/>
<circle cx="1397.94" cy="955" r="3.4" fill="#000"/>
<line x1="1429.04" y1="697.5" x2="1429.04" y2="767" stroke="#000" stroke-width="1.8" />
<line x1="1422.54" y1="697.5" x2="1435.54" y2="697.5" stroke="#000" stroke-width="1.8" />
<line x1="1422.54" y1="767" x2="1435.54" y2="767" stroke="#000" stroke-width="1.8" />
<circle cx="1429.04" cy="696.8" r="3.4" fill="#000"/>
<circle cx="1429.04" cy="731.3" r="3.4" fill="#000"/>
<circle cx="1429.04" cy="767" r="3.4" fill="#000"/>
<text x="1385.15" y="685.05" font-size="32" letter-spacing="2.15">****</text>
<text x="1417.65" y="1045" font-size="26.8" text-anchor="middle" font-style="italic" stroke="#000" stroke-width="0.32">Dusp5</text>
<rect x="1474.66" y="948.7" width="22" height="65.8" fill="#ffd580" stroke="#000" stroke-width="3"/>
<rect x="1505.96" y="810.01" width="21.6" height="204.49" fill="#d783ff" stroke="#000" stroke-width="3"/>
<line x1="1485.66" y1="934.3" x2="1485.66" y2="958.8" stroke="#000" stroke-width="1.8" />
<line x1="1479.16" y1="934.3" x2="1492.16" y2="934.3" stroke="#000" stroke-width="1.8" />
<line x1="1479.16" y1="958.8" x2="1492.16" y2="958.8" stroke="#000" stroke-width="1.8" />
<circle cx="1485.66" cy="936.3" r="3.4" fill="#000"/>
<circle cx="1485.66" cy="945" r="3.4" fill="#000"/>
<circle cx="1485.66" cy="959.3" r="3.4" fill="#000"/>
<line x1="1516.76" y1="780.8" x2="1516.76" y2="833.3" stroke="#000" stroke-width="1.8" />
<line x1="1510.26" y1="780.8" x2="1523.26" y2="780.8" stroke="#000" stroke-width="1.8" />
<line x1="1510.26" y1="833.3" x2="1523.26" y2="833.3" stroke="#000" stroke-width="1.8" />
<circle cx="1516.76" cy="778.8" r="3.4" fill="#000"/>
<circle cx="1516.76" cy="812" r="3.4" fill="#000"/>
<circle cx="1516.76" cy="831.3" r="3.4" fill="#000"/>
<text x="1471.45" y="763.75" font-size="32" letter-spacing="2.15">****</text>
<text x="1506" y="1045" font-size="26.8" text-anchor="middle" font-style="italic" stroke="#000" stroke-width="0.32">Egr1</text>
<rect x="1562.38" y="948.7" width="22" height="65.8" fill="#ffd580" stroke="#000" stroke-width="3"/>
<rect x="1593.68" y="799.29" width="21.6" height="215.21" fill="#d783ff" stroke="#000" stroke-width="3"/>
<line x1="1573.38" y1="919.3" x2="1573.38" y2="973.8" stroke="#000" stroke-width="1.8" />
<line x1="1566.88" y1="919.3" x2="1579.88" y2="919.3" stroke="#000" stroke-width="1.8" />
<line x1="1566.88" y1="973.8" x2="1579.88" y2="973.8" stroke="#000" stroke-width="1.8" />
<circle cx="1564.38" cy="930.5" r="3.4" fill="#000"/>
<circle cx="1582.58" cy="932" r="3.4" fill="#000"/>
<circle cx="1573.38" cy="978" r="3.4" fill="#000"/>
<line x1="1604.48" y1="783.8" x2="1604.48" y2="809.3" stroke="#000" stroke-width="1.8" />
<line x1="1597.98" y1="783.8" x2="1610.98" y2="783.8" stroke="#000" stroke-width="1.8" />
<line x1="1597.98" y1="809.3" x2="1610.98" y2="809.3" stroke="#000" stroke-width="1.8" />
<circle cx="1604.48" cy="782" r="3.4" fill="#000"/>
<circle cx="1595.28" cy="804.3" r="3.4" fill="#000"/>
<circle cx="1613.28" cy="803.3" r="3.4" fill="#000"/>
<text x="1582.45" y="760.55" font-size="32" letter-spacing="2.15">*</text>
<text x="1586.6" y="1045" font-size="26.8" text-anchor="middle" font-style="italic" stroke="#000" stroke-width="0.32">Egr2</text>
<rect x="1650.1" y="948.7" width="22" height="65.8" fill="#ffd580" stroke="#000" stroke-width="3"/>
<rect x="1681.4" y="881.03" width="21.6" height="133.47" fill="#d783ff" stroke="#000" stroke-width="3"/>
<line x1="1661.1" y1="943.8" x2="1661.1" y2="950" stroke="#000" stroke-width="1.8" />
<line x1="1654.6" y1="943.8" x2="1667.6" y2="943.8" stroke="#000" stroke-width="1.8" />
<line x1="1654.6" y1="950" x2="1667.6" y2="950" stroke="#000" stroke-width="1.8" />
<circle cx="1660.6" cy="942.5" r="3.4" fill="#000"/>
<circle cx="1669.8" cy="947.5" r="3.4" fill="#000"/>
<circle cx="1653.6" cy="949.5" r="3.4" fill="#000"/>
<line x1="1692.2" y1="874.3" x2="1692.2" y2="882.5" stroke="#000" stroke-width="1.8" />
<line x1="1685.7" y1="874.3" x2="1698.7" y2="874.3" stroke="#000" stroke-width="1.8" />
<line x1="1685.7" y1="882.5" x2="1698.7" y2="882.5" stroke="#000" stroke-width="1.8" />
<circle cx="1683" cy="875" r="3.4" fill="#000"/>
<circle cx="1700.5" cy="877.5" r="3.4" fill="#000"/>
<circle cx="1683" cy="883.8" r="3.4" fill="#000"/>
<text x="1649.75" y="860.55" font-size="32" letter-spacing="2.15">****</text>
<text x="1676.75" y="1045" font-size="26.8" text-anchor="middle" font-style="italic" stroke="#000" stroke-width="0.32">Homer1</text>
<rect x="1737.82" y="948.7" width="22" height="65.8" fill="#ffd580" stroke="#000" stroke-width="3"/>
<rect x="1769.12" y="846.19" width="21.6" height="168.31" fill="#d783ff" stroke="#000" stroke-width="3"/>
<line x1="1748.82" y1="933.3" x2="1748.82" y2="960" stroke="#000" stroke-width="1.8" />
<line x1="1742.32" y1="933.3" x2="1755.32" y2="933.3" stroke="#000" stroke-width="1.8" />
<line x1="1742.32" y1="960" x2="1755.32" y2="960" stroke="#000" stroke-width="1.8" />
<circle cx="1748.82" cy="931.8" r="3.4" fill="#000"/>
<circle cx="1748.82" cy="952.5" r="3.4" fill="#000"/>
<circle cx="1748.82" cy="958" r="3.4" fill="#000"/>
<line x1="1779.92" y1="816.3" x2="1779.92" y2="870.8" stroke="#000" stroke-width="1.8" />
<line x1="1773.42" y1="816.3" x2="1786.42" y2="816.3" stroke="#000" stroke-width="1.8" />
<line x1="1773.42" y1="870.8" x2="1786.42" y2="870.8" stroke="#000" stroke-width="1.8" />
<circle cx="1779.92" cy="820" r="3.4" fill="#000"/>
<circle cx="1779.92" cy="837.5" r="3.4" fill="#000"/>
<circle cx="1779.92" cy="873.8" r="3.4" fill="#000"/>
<text x="1736.45" y="806.75" font-size="32" letter-spacing="2.15">****</text>
<text x="1772.1" y="1045" font-size="26.8" text-anchor="middle" font-style="italic" stroke="#000" stroke-width="0.32">Npas4</text>
<rect x="1825.54" y="948.7" width="22" height="65.8" fill="#ffd580" stroke="#000" stroke-width="3"/>
<rect x="1856.84" y="743.01" width="21.6" height="271.49" fill="#d783ff" stroke="#000" stroke-width="3"/>
<line x1="1836.54" y1="945" x2="1836.54" y2="948.8" stroke="#000" stroke-width="1.8" />
<line x1="1830.04" y1="945" x2="1843.04" y2="945" stroke="#000" stroke-width="1.8" />
<line x1="1830.04" y1="948.8" x2="1843.04" y2="948.8" stroke="#000" stroke-width="1.8" />
<circle cx="1836.54" cy="944.3" r="3.4" fill="#000"/>
<circle cx="1828.24" cy="948" r="3.4" fill="#000"/>
<circle cx="1845.24" cy="947.5" r="3.4" fill="#000"/>
<line x1="1867.64" y1="720" x2="1867.64" y2="761.3" stroke="#000" stroke-width="1.8" />
<line x1="1861.14" y1="720" x2="1874.14" y2="720" stroke="#000" stroke-width="1.8" />
<line x1="1861.14" y1="761.3" x2="1874.14" y2="761.3" stroke="#000" stroke-width="1.8" />
<circle cx="1867.64" cy="716.3" r="3.4" fill="#000"/>
<circle cx="1858.94" cy="755" r="3.4" fill="#000"/>
<circle cx="1875.94" cy="749.5" r="3.4" fill="#000"/>
<text x="1826.25" y="705.05" font-size="32" letter-spacing="2.15">****</text>
<text x="1861.5" y="1045" font-size="26.8" text-anchor="middle" font-style="italic" stroke="#000" stroke-width="0.32">Nr4a1</text>
<rect x="1913.26" y="948.7" width="22" height="65.8" fill="#ffd580" stroke="#000" stroke-width="3"/>
<rect x="1944.56" y="793.93" width="21.6" height="220.57" fill="#d783ff" stroke="#000" stroke-width="3"/>
<line x1="1924.26" y1="943" x2="1924.26" y2="951.3" stroke="#000" stroke-width="1.8" />
<line x1="1917.76" y1="943" x2="1930.76" y2="943" stroke="#000" stroke-width="1.8" />
<line x1="1917.76" y1="951.3" x2="1930.76" y2="951.3" stroke="#000" stroke-width="1.8" />
<circle cx="1914.46" cy="941.8" r="3.4" fill="#000"/>
<circle cx="1932.46" cy="948" r="3.4" fill="#000"/>
<circle cx="1922.46" cy="950" r="3.4" fill="#000"/>
<line x1="1955.36" y1="760.8" x2="1955.36" y2="821.3" stroke="#000" stroke-width="1.8" />
<line x1="1948.86" y1="760.8" x2="1961.86" y2="760.8" stroke="#000" stroke-width="1.8" />
<line x1="1948.86" y1="821.3" x2="1961.86" y2="821.3" stroke="#000" stroke-width="1.8" />
<circle cx="1955.36" cy="763" r="3.4" fill="#000"/>
<circle cx="1955.36" cy="785.5" r="3.4" fill="#000"/>
<circle cx="1955.36" cy="823.8" r="3.4" fill="#000"/>
<text x="1912.25" y="751.25" font-size="32" letter-spacing="2.15">****</text>
<text x="1950.65" y="1045" font-size="26.8" text-anchor="middle" font-style="italic" stroke="#000" stroke-width="0.32">Nr4a2</text>
<line x1="1198.3" y1="677.8" x2="1198.3" y2="1016" stroke="#000" stroke-width="3" />
<line x1="1183" y1="1014.5" x2="1980.8" y2="1014.5" stroke="#000" stroke-width="3" />
<text x="1177.5" y="1023.1" font-size="24" text-anchor="end" stroke="#000" stroke-width="0.29">0</text>
<line x1="1183" y1="947.5" x2="1198.3" y2="947.5" stroke="#000" stroke-width="3" />
<text x="1177.5" y="956.1" font-size="24" text-anchor="end" stroke="#000" stroke-width="0.29">1</text>
<line x1="1183" y1="880.5" x2="1198.3" y2="880.5" stroke="#000" stroke-width="3" />
<text x="1177.5" y="889.1" font-size="24" text-anchor="end" stroke="#000" stroke-width="0.29">2</text>
<line x1="1183" y1="813.5" x2="1198.3" y2="813.5" stroke="#000" stroke-width="3" />
<text x="1177.5" y="822.1" font-size="24" text-anchor="end" stroke="#000" stroke-width="0.29">3</text>
<line x1="1183" y1="746.5" x2="1198.3" y2="746.5" stroke="#000" stroke-width="3" />
<text x="1177.5" y="755.1" font-size="24" text-anchor="end" stroke="#000" stroke-width="0.29">4</text>
<line x1="1183" y1="679.5" x2="1198.3" y2="679.5" stroke="#000" stroke-width="3" />
<text x="1177.5" y="688.1" font-size="24" text-anchor="end" stroke="#000" stroke-width="0.29">5</text>
<text x="1143.8" y="846.5" font-size="27.1" text-anchor="middle" stroke="#000" stroke-width="0.33" transform="rotate(-90 1143.8 846.5)">nuRNA-seq FC CA1/DG</text>
</g>
<g id="panelE">
<text x="14.2" y="1098.6" font-size="48" font-weight="bold" stroke="#000" stroke-width="0.19">E</text>
<line x1="57.5" y1="1118.7" x2="57.5" y2="1197.1" stroke="#000" stroke-width="3.3" />
<line x1="57.5" y1="1202.3" x2="57.5" y2="1281.2" stroke="#000" stroke-width="3.3" />
<line x1="57.5" y1="1287.3" x2="57.5" y2="1366" stroke="#000" stroke-width="3.3" />
<line x1="57.5" y1="1371.3" x2="57.5" y2="1450" stroke="#000" stroke-width="3.3" />
<text x="43.7" y="1158.9" font-size="19" text-anchor="middle" stroke="#000" stroke-width="0.23" transform="rotate(-90 43.7 1158.9)" textLength="58.4" lengthAdjust="spacingAndGlyphs">nuRNA</text>
<text x="43.7" y="1241.3" font-size="19" text-anchor="middle" stroke="#000" stroke-width="0.23" transform="rotate(-90 43.7 1241.3)" textLength="48.7" lengthAdjust="spacingAndGlyphs">ATAC</text>
<text x="43.7" y="1326.3" font-size="19" text-anchor="middle" stroke="#000" stroke-width="0.23" transform="rotate(-90 43.7 1326.3)" textLength="73.5" lengthAdjust="spacingAndGlyphs">H3K27ac</text>
<text x="43.7" y="1410.2" font-size="19" text-anchor="middle" stroke="#000" stroke-width="0.23" transform="rotate(-90 43.7 1410.2)" textLength="71.3" lengthAdjust="spacingAndGlyphs">DNA met</text>
<text x="70.2" y="1145.3" font-size="23.3" stroke="#000" stroke-width="0.28" textLength="40.2" lengthAdjust="spacingAndGlyphs">CA1</text>
<text x="70.4" y="1187.6" font-size="23.3" stroke="#000" stroke-width="0.28" textLength="33" lengthAdjust="spacingAndGlyphs">DG</text>
<text x="70.2" y="1228" font-size="23.3" stroke="#000" stroke-width="0.28" textLength="40.2" lengthAdjust="spacingAndGlyphs">CA1</text>
<text x="70.4" y="1270.6" font-size="23.3" stroke="#000" stroke-width="0.28" textLength="33" lengthAdjust="spacingAndGlyphs">DG</text>
<text x="70.2" y="1312.1" font-size="23.3" stroke="#000" stroke-width="0.28" textLength="40.2" lengthAdjust="spacingAndGlyphs">CA1</text>
<text x="70.4" y="1355.3" font-size="23.3" stroke="#000" stroke-width="0.28" textLength="33" lengthAdjust="spacingAndGlyphs">DG</text>
<text x="70.2" y="1396.1" font-size="23.3" stroke="#000" stroke-width="0.28" textLength="40.2" lengthAdjust="spacingAndGlyphs">CA1</text>
<text x="70.4" y="1438.3" font-size="23.3" stroke="#000" stroke-width="0.28" textLength="33" lengthAdjust="spacingAndGlyphs">DG</text>
<text x="124" y="1135.6" font-size="15.6" stroke="#000" stroke-width="0.12" textLength="40" lengthAdjust="spacingAndGlyphs">0-300</text>
<text x="124" y="1173.8" font-size="15.6" stroke="#000" stroke-width="0.12" textLength="40" lengthAdjust="spacingAndGlyphs">0-300</text>
<text x="124" y="1217" font-size="15.6" stroke="#000" stroke-width="0.12" textLength="40" lengthAdjust="spacingAndGlyphs">0-100</text>
<text x="124" y="1256.8" font-size="15.6" stroke="#000" stroke-width="0.12" textLength="40" lengthAdjust="spacingAndGlyphs">0-100</text>
<text x="124" y="1297.8" font-size="15.6" stroke="#000" stroke-width="0.12" textLength="31.2" lengthAdjust="spacingAndGlyphs">0-60</text>
<text x="124" y="1339.7" font-size="15.6" stroke="#000" stroke-width="0.12" textLength="31.2" lengthAdjust="spacingAndGlyphs">0-60</text>
<text x="124.9" y="1381.6" font-size="15.6" stroke="#000" stroke-width="0.12" textLength="40" lengthAdjust="spacingAndGlyphs">0-100</text>
<text x="124.9" y="1422.7" font-size="15.6" stroke="#000" stroke-width="0.12" textLength="40" lengthAdjust="spacingAndGlyphs">0-100</text>
<text x="612.8" y="1115.2" font-size="19" stroke="#000" stroke-width="0.23" textLength="50" lengthAdjust="spacingAndGlyphs">10 Kb</text>
<line x1="627.5" y1="1120.6" x2="658" y2="1120.6" stroke="#000" stroke-width="2.1" />
<path d="M160.2 1157.3V1154.3H163.2V1125.3H166.8V1154.8H169.2V1152.3H171.6V1154.8H175.8V1157.3ZM176.4 1157.3V1153.8H179.4V1157.3ZM180 1157.3V1149.3H182.4V1154.8H186V1157.3ZM186.6 1157.3V1154.3H190.2V1152.8H193.2V1155.3H196.2V1157.3ZM196.8 1157.3V1154.8H199.8V1154.3H204V1155.1H205.8V1157.3ZM206.4 1157.3V1150.1H208.8V1155.1H213V1157.3ZM216 1157.3V1154.5H220.2V1156.1H225V1157.3ZM226.8 1157.3V1155.3H232.2V1154.3H235.8V1157.3ZM237.6 1157.3V1154.3H241.8V1157.3ZM243 1157.3V1155.8H247.2V1154.8H250.8V1157.3ZM251.4 1157.3V1154.3H255V1157.3ZM258 1157.3V1155.1H262.2V1153.8H265.8V1157.3ZM283.2 1157.3V1156.5H289.8V1157.3ZM298.8 1157.3V1155.1H304.2V1157.3ZM310.2 1157.3V1155.1H315V1157.3ZM318 1157.3V1156.3H319.8V1157.3ZM328.2 1157.3V1145.8H330.6V1142.6H331.8V1157.3ZM336 1157.3V1156.1H340.2V1157.3ZM349.8 1157.3V1148.8H351V1147.3H352.2V1157.3ZM352.8 1157.3V1152.3H355.2V1150.8H357V1157.3ZM358.2 1157.3V1154.3H360.6V1157.3ZM361.8 1157.3V1150.3H363.6V1152.3H366V1154.1H375V1154.8H382.8V1155.7H387V1157.3ZM391.2 1157.3V1140.3H393.6V1152.3H395.4V1150.8H398.4V1152.3H400.2V1152.8H405V1150.8H407.4V1144.7H409.8V1150.3H412.2V1149.8H415.8V1154.3H418.2V1151.8H421.2V1154.3H426V1151.8H430.2V1152.3H435.6V1153.8H441V1147.6H444V1153.3H447V1154.8H451.2V1154.3H456V1155.3H460.2V1157.3ZM462 1157.3V1156.1H466.8V1157.3ZM468 1157.3V1151.3H469.8V1155.8H474V1157.3ZM475.2 1157.3V1153.8H480V1154.3H487.8V1155.3H492V1153.8H495V1157.3ZM495.6 1157.3V1151.3H497.4V1157.3ZM501 1157.3V1155.3H505.8V1154.8H511.8V1157.3ZM514.2 1157.3V1153.8H517.8V1154.8H523.8V1157.3ZM525 1157.3V1155.3H529.2V1157.3ZM532.8 1157.3V1155.1H535.2V1157.3ZM546 1157.3V1155.3H550.8V1151.3H553.8V1157.3ZM556.2 1157.3V1154.8H559.2V1157.3ZM561 1157.3V1156.1H564V1157.3ZM571.2 1157.3V1156.3H573V1157.3ZM577.2 1157.3V1155.3H580.2V1157.3ZM585 1157.3V1155.5H588V1157.3ZM590.4 1157.3V1151.3H592.2V1157.3ZM595.2 1157.3V1155.3H598.2V1148.3H600.6V1153.3H604.2V1154.3H607.8V1153.8H612V1155.3H615V1151.3H617.4V1153.8H621V1154.3H625.8V1157.3ZM628.2 1157.3V1155.8H631.8V1155.3H637.2V1157.3ZM639.6 1157.3V1153.8H640.8V1157.3ZM646.2 1157.3V1155.8H648V1157.3ZM648.6 1157.3V1154.8H650.4V1157.3ZM655.2 1157.3V1156.3H660V1157.3Z" fill="#ff00ff"/>
<line x1="123" y1="1157.3" x2="661" y2="1157.3" stroke="#111" stroke-width="0.9" />
<path d="M161.4 1199.7V1198.5H163.2V1185.4H166.8V1197.7H168.6V1198.4H175.8V1197.9H180V1199.7ZM180.6 1199.7V1195.5H182.4V1198.5H190.2V1197.7H193.8V1198.5H205.2V1199.7ZM205.8 1199.7V1196.9H208.2V1199.7ZM208.8 1199.7V1198.5H213V1197.5H215.4V1199.7ZM216 1199.7V1198.7H225V1199.7ZM228 1199.7V1198.3H240V1199.7ZM243 1199.7V1198.5H262.2V1198.9H271.8V1199.7ZM289.8 1199.7V1198.9H300V1199H315V1199.7ZM328.2 1199.7V1194.7H331.8V1199.7ZM340.2 1199.7V1199H345V1199.7ZM349.8 1199.7V1195.5H352.2V1197.9H355.8V1199.7ZM357 1199.7V1198.3H360V1199.7ZM361.8 1199.7V1195.7H364.2V1197.9H367.2V1199.7ZM370.2 1199.7V1198.9H376.2V1199.7ZM379.8 1199.7V1198.7H387V1198.1H388.8V1199.7ZM391.2 1199.7V1189.7H393.6V1196.5H396V1197.5H400.2V1198.5H403.2V1199.7ZM405 1199.7V1197.9H407.4V1194.7H409.8V1198.2H412.8V1199.7ZM413.4 1199.7V1194.7H415.2V1199.7ZM418.2 1199.7V1198.5H432V1197.9H436.2V1198.7H441V1197.9H445.8V1199.7ZM450 1199.7V1198.1H457.2V1199.7ZM460.2 1199.7V1198.9H466.2V1199.7ZM475.8 1199.7V1198.1H486V1198.7H490.2V1199.7ZM493.2 1199.7V1198H496.8V1199.7ZM502.8 1199.7V1198.5H520.2V1199.7ZM523.2 1199.7V1198.7H529.8V1199.7ZM546 1199.7V1198.1H553.2V1199.7ZM558 1199.7V1199H568.2V1199.7ZM585 1199.7V1198.5H589.8V1199.7ZM591 1199.7V1197.2H592.8V1199.7ZM598.2 1199.7V1196.7H601.2V1198.3H607.8V1199.7ZM615 1199.7V1197.4H618V1198.5H624V1199.7ZM625.2 1199.7V1197.7H628.2V1199.7ZM631.8 1199.7V1198.5H636V1199.7ZM640.2 1199.7V1198.2H642V1199.7ZM648 1199.7V1198.7H651V1199.7Z" fill="#ff9d0a"/>
<line x1="123" y1="1199.7" x2="661" y2="1199.7" stroke="#8a8a8a" stroke-width="1" />
<path d="M139.2 1240.5V1232.5H141V1230.8H144V1232.3H147V1240.5ZM156 1240.5V1232.5H157.8V1222.5H159V1213.5H160.2V1207.8H162.6V1218.5H163.8V1227.5H165V1236H166.2V1238.5H168V1240.5ZM172.8 1240.5V1238.5H175.2V1240.5ZM181.2 1240.5V1239.7H186V1240.5ZM190.2 1240.5V1239.7H199.8V1240.5ZM206.4 1240.5V1235.5H208.8V1237.5H210.6V1240.5ZM211.2 1240.5V1239.5H213V1240.5ZM232.2 1240.5V1235.5H235.8V1239H237V1235.5H239.4V1240.5ZM262.2 1240.5V1239.7H265.8V1240.5ZM289.8 1240.5V1239.7H292.8V1240.5ZM300 1240.5V1238.5H304.2V1240.5ZM313.2 1240.5V1239.7H316.2V1240.5ZM375 1240.5V1239.5H378V1240.5ZM388.2 1240.5V1239.5H391.2V1240.5ZM406.8 1240.5V1238.1H409.2V1239.3H412.2V1240.5ZM423 1240.5V1239.5H426V1240.5ZM449.4 1240.5V1235.5H450.6V1217.8H454.2V1237.5H455.4V1240.5ZM469.2 1240.5V1238.3H470.4V1237.5H472.8V1239.6H477V1240.5ZM502.2 1240.5V1237.5H504.6V1232.5H507.6V1240.5ZM532.8 1240.5V1237.5H535.8V1240.5ZM537.6 1240.5V1236H540V1240.5ZM585.6 1240.5V1235.5H589.8V1240.5ZM597 1240.5V1238H600V1240.5ZM611.4 1240.5V1236H615V1240.5ZM618 1240.5V1239.5H619.8V1240.5ZM658.2 1240.5V1239.3H661.2V1240.5Z" fill="#ff00ff"/>
<line x1="123" y1="1240.5" x2="661" y2="1240.5" stroke="#111" stroke-width="0.9" />
<path d="M139.2 1282.5V1280.5H142.2V1282.5ZM144 1282.5V1273.5H145.8V1269.8H147V1282.5ZM157.2 1282.5V1268.5H158.4V1257.5H159.6V1250H162.6V1260.5H163.8V1271.5H165V1277.5H166.2V1281H169.8V1282.5ZM193.8 1282.5V1280.5H196.2V1282.5ZM206.4 1282.5V1280.5H211.8V1282.5ZM232.2 1282.5V1280.5H234.6V1282.5ZM237 1282.5V1281H239.4V1282.5ZM280.2 1282.5V1281H284.4V1282.5ZM300 1282.5V1281H303.6V1282.5ZM449.4 1282.5V1281H457.8V1282.5ZM505.2 1282.5V1281H508.2V1282.5ZM532.2 1282.5V1279H533.4V1275.7H535.8V1279.5H537V1280.5H540V1282.5ZM585 1282.5V1280.5H586.2V1279.3H589.2V1282.5Z" fill="#ff9d0a"/>
<line x1="123" y1="1282.5" x2="661" y2="1282.5" stroke="#111" stroke-width="0.9" />
<path d="M123 1323.5V1321.74H124.2V1322.91H125.4V1322.25H127.2V1322.76H129V1319.03H130.8V1321.84H132.6V1322.54H133.8V1322.03H135.6V1322.11H136.8V1318.65H138.6V1322.3H139.8V1315.5H141.6V1322.05H142.8V1323.5ZM144 1323.5V1322.38H145.8V1323.01H146.4V1319.37H148.2V1318.68H149.4V1322.86H150.6V1318.5H153V1322.49H153.6V1322.1H155.4V1322.91H157.2V1315.5H158.4V1295.5H159.6V1314.5H161.4V1319.28H163.2V1318.23H164.4V1322.93H165.6V1321.96H167.4V1322.97H168.6V1322.35H170.4V1322.37H171.6V1322.87H173.4V1321.52H175.8V1322.74H177.6V1319.46H178.2V1319.15H180V1321.96H181.2V1322.53H183V1322.42H184.2V1321.58H186V1322.85H187.2V1323.5ZM188.4 1323.5V1319.17H189.6V1322.4H191.4V1322.21H193.2V1319.34H193.8V1318.5H196.2V1316.5H199.2V1322.82H199.8V1317.5H202.2V1321.96H204V1322.68H205.2V1318.33H206.4V1322.8H208.2V1321.87H209.4V1316.5H211.2V1318.35H212.4V1321.94H213.6V1322.21H214.8V1323.5ZM216 1323.5V1318.77H217.2V1318.53H219V1322.72H220.2V1319.06H221.4V1318.65H223.2V1318.5H225.6V1319.45H226.2V1322.07H228V1322.71H229.2V1322.69H230.4V1322.99H232.2V1318.66H233.4V1319.5H234V1322.01H235.2V1322.97H237V1323.5ZM238.2 1323.5V1322.1H239.4V1323.04H241.2V1322.15H243V1323.5ZM243.6 1323.5V1322.91H245.4V1321.82H246.6V1321.79H248.4V1322.21H249.6V1319.32H251.4V1322.09H252.6V1318.47H254.4V1323.03H256.2V1322.1H257.4V1321.57H259.2V1321.56H260.4V1322.46H262.2V1323.5ZM263.4 1323.5V1318.33H265.2V1321.9H265.8V1322.38H266.4V1323H267.6V1322.46H269.4V1322.23H271.2V1322.67H273V1318.68H274.8V1318.7H276V1322.21H277.8V1321.5H279V1322.24H280.8V1322.86H282.6V1318.76H283.8V1322.73H285.6V1322.65H287.4V1321.72H288.6V1322.24H289.8V1322.49H291V1318.8H293.4V1318.48H295.2V1319.44H296.4V1323.01H298.2V1322.48H300V1318.38H301.8V1322.26H303V1323.5ZM304.2 1323.5V1321.68H306V1322.22H307.8V1322.57H309V1322.33H310.2V1323.5ZM312 1323.5V1318.81H313.2V1322.58H315V1321.56H315.6V1318.5H317.4V1321.78H319.2V1318.31H321V1321.75H322.2V1321.65H324V1321.93H325.8V1322.1H326.4V1318.5H328.2V1322.87H329.4V1321.58H331.2V1322.09H332.4V1318.75H334.2V1318.5H335.4V1322.5H336.6V1322.74H337.8V1318.4H339V1322.34H341.4V1322.71H343.2V1323.5ZM343.8 1323.5V1319.32H345.6V1322.2H346.8V1323.09H348V1322.44H349.8V1323.07H351.6V1322.09H352.8V1318.46H354V1322.84H356.4V1322.92H358.2V1322.43H359.4V1323.13H361.2V1322.11H362.4V1322.29H363.6V1322.88H365.4V1318.32H367.2V1322.97H369V1322.93H370.2V1319.31H372V1322.22H373.8V1322.77H375V1323H376.2V1322.62H378V1323H379.2V1322.58H381V1319.5H382.8V1322.74H383.4V1322.59H384.6V1318.81H386.4V1322.45H387V1322.74H388.8V1322.92H389.4V1318.87H391.2V1319.06H392.4V1322.18H394.2V1319.25H395.4V1318.73H396.6V1322.82H398.4V1319.42H399.6V1322.85H400.8V1322.97H402.6V1322.63H404.4V1322.97H406.2V1322.13H407.4V1323.01H408.6V1323.04H409.8V1319.26H411V1322.69H412.8V1322.2H414V1322.22H415.2V1322.71H415.8V1322.17H417.6V1322.21H418.8V1322.61H420.6V1322.41H421.8V1322.96H423V1318.5H424.8V1323.11H426V1322.79H427.2V1322.37H428.4V1322.71H430.2V1322.14H431.4V1322.16H432.6V1322.11H433.8V1323.01H435.6V1322.5H436.8V1323.5ZM438.6 1323.5V1322.53H440.4V1323.09H441.6V1319.41H443.4V1322.47H444V1322.64H445.8V1322.49H447.6V1322.27H448.8V1318.66H450.6V1322.9H452.4V1322.6H454.2V1318.24H455.4V1318.36H456.6V1323.5ZM457.8 1323.5V1319.08H459V1322.64H460.8V1323.08H462V1323.5ZM463.8 1323.5V1319.33H465V1322.14H466.2V1321.97H468V1318.82H469.2V1322.52H471V1322.55H472.2V1322.43H473.4V1318.74H474.6V1322.55H475.8V1322.42H477V1322.29H478.2V1322.61H480V1318.53H482.4V1319.42H484.8V1321.57H486V1321.66H487.8V1319.45H489V1322.63H490.8V1318.5H493.2V1317.5H495V1318.88H495.6V1319.31H497.4V1322.48H499.2V1318.66H501V1323.5ZM502.8 1323.5V1321.17H504V1318.27H505.2V1318.24H506.4V1321.56H508.2V1321.58H509.4V1321.02H511.2V1322.7H513V1321.58H514.2V1321.88H516V1316.5H517.8V1321.14H519V1320.91H520.2V1321.95H521.4V1321.65H523.2V1319.42H525V1321.44H526.8V1320.66H528V1322.72H529.2V1321.49H530.4V1318.49H531.6V1322.81H532.8V1320.7H533.4V1318.5H535.8V1322.04H537.6V1321.82H538.8V1318.87H540.6V1320.83H541.8V1319.24H544.2V1321.9H545.4V1321.05H547.2V1322.14H549V1319.26H550.2V1321.61H551.4V1320.47H553.2V1319.48H554.4V1311.5H556.8V1317.5H558.6V1322.25H559.8V1320.38H561.6V1318.24H562.8V1319.36H564.6V1314.5H567V1321.62H567.6V1323.5ZM569.4 1323.5V1316H576V1319.5H577.2V1318.73H579V1319.5H580.2V1320.83H582V1318.32H583.2V1322.49H584.4V1319.33H585.6V1319.26H586.2V1316.5H588.6V1320.5H589.2V1319.23H591V1319.5H592.8V1319.99H594V1318.24H595.2V1321.73H596.4V1321.56H598.2V1318.61H600V1320.82H601.8V1322.58H603.6V1319.33H605.4V1321.54H606.6V1322.19H608.4V1321.81H609.6V1320.7H611.4V1320.52H612V1319.42H614.4V1320.73H615.6V1320.91H616.8V1316.5H618.6V1313.5H619.8V1318.5H622.8V1318.36H624.6V1321.61H625.2V1322.46H627.6V1319.29H628.8V1321.73H630V1322.18H631.8V1323.5ZM633.6 1323.5V1321.55H635.4V1319.9H636.6V1319.08H638.4V1319.75H639.6V1322.29H641.4V1320.75H642.6V1321.01H644.4V1318.6H646.2V1322.52H646.8V1315.5H649.8V1319.33H650.4V1319.35H652.2V1318.87H653.4V1321.86H654V1317.5H661.2V1323.5Z" fill="#ff00ff"/>
<line x1="123" y1="1323.5" x2="661" y2="1323.5" stroke="#b000b0" stroke-width="1" />
<path d="M123 1365.2V1364.68H124.8V1365.2ZM126.6 1365.2V1364.29H127.8V1363.15H129.6V1364.76H130.8V1365.2ZM135.6 1365.2V1363.12H137.4V1364.34H139.2V1363.34H139.8V1361.2H141.6V1364.02H142.2V1363.2H143.4V1363.12H145.8V1364.35H147V1365.2ZM148.8 1365.2V1363.44H150.6V1363.96H151.8V1364.33H153.6V1363.54H155.4V1363.48H156.6V1355.2H157.8V1336.2H159V1344.2H160.8V1354.2H162.6V1358.2H165.6V1364.75H166.2V1360.7H168.6V1358.2H169.8V1364.17H170.4V1364.05H171.6V1363.25H172.2V1361.7H175.8V1363.93H177V1364.35H178.2V1363.73H178.8V1360.2H181.8V1359H184.2V1360.2H186.6V1363.34H187.2V1364.02H189V1363.64H190.8V1363.74H192.6V1365.2ZM193.8 1365.2V1364.48H195.6V1365.2ZM197.4 1365.2V1364.67H198.6V1363.35H200.4V1365.2ZM201 1365.2V1361.2H202.8V1364.13H204V1363.67H205.2V1363.34H206.4V1365.2ZM207.6 1365.2V1363.35H208.2V1360.7H210V1365.2ZM210.6 1365.2V1358.2H212.4V1364.23H213.6V1365.2ZM215.4 1365.2V1364.25H217.2V1365.2ZM218.4 1365.2V1363.02H220.2V1364.08H221.4V1363.17H222.6V1364.57H224.4V1365.2ZM226.2 1365.2V1364.73H227.4V1365.2ZM228.6 1365.2V1364.13H231V1363.54H232.2V1360.2H234V1363.39H235.8V1363.7H237.6V1363.35H238.8V1364.66H240V1365.2ZM241.2 1365.2V1364.13H243.6V1364.64H244.2V1363.94H246.6V1364.03H247.8V1363.35H249V1363.68H250.8V1364.25H252.6V1365.2ZM254.4 1365.2V1364.87H255.6V1365.2ZM258 1365.2V1364.38H259.8V1364.07H261.6V1363.53H262.8V1361.7H265.2V1364.1H266.4V1365.2ZM277.2 1365.2V1364.04H278.4V1364.66H280.2V1363.6H282V1364.88H283.8V1363.21H285.6V1363.51H287.4V1364.38H288V1359.2H290.4V1364.57H291V1363.55H292.2V1363.37H294V1365.2ZM295.8 1365.2V1364.54H297.6V1364.08H299.4V1364.11H300.6V1363.27H302.4V1365.2ZM303.6 1365.2V1364.64H304.8V1362.2H307.2V1365.2ZM309 1365.2V1363.73H309.6V1363.82H312V1365.2ZM313.8 1365.2V1363.43H315.6V1364.12H317.4V1363.84H318.6V1363.55H319.8V1363.4H321.6V1363.62H323.4V1364.86H324.6V1365.2ZM327.6 1365.2V1364.76H329.4V1365.2ZM331.2 1365.2V1364.19H332.4V1364.33H333.6V1363.46H334.8V1362.2H337.2V1364.44H338.4V1364.25H340.2V1364.77H341.4V1365.2ZM344.4 1365.2V1364.1H345.6V1364.25H346.8V1364.06H348.6V1365.2ZM350.4 1365.2V1363.9H351.6V1363.66H353.4V1364.66H355.2V1364.64H356.4V1365.2ZM358.2 1365.2V1364.62H360V1363.89H361.8V1365.2ZM363.6 1365.2V1364.85H366V1364.65H367.2V1365.2ZM369 1365.2V1364.33H370.2V1365.2ZM371.4 1365.2V1363.92H372.6V1364.32H373.8V1363.95H375.6V1363.9H376.8V1364.85H378.6V1364.89H379.8V1365.2ZM381 1365.2V1358.2H383.4V1364.36H384.6V1363.95H386.4V1363.62H388.2V1365.2ZM389.4 1365.2V1364.6H390.6V1365.2ZM392.4 1365.2V1364.69H393.6V1365.2ZM397.2 1365.2V1364.23H398.4V1364.29H399.6V1364.52H400.8V1363.71H402V1363.97H403.8V1365.2ZM405 1365.2V1362.2H406.8V1365.2ZM408.6 1365.2V1364.31H409.8V1365.2ZM411.6 1365.2V1364.53H414V1363.99H415.2V1365.2ZM416.4 1365.2V1364.71H418.2V1364.79H420V1364.41H421.8V1363.55H423.6V1364.34H424.8V1364.78H426.6V1365.2ZM427.8 1365.2V1364.2H429V1364.49H430.8V1364.2H432V1363.98H433.8V1364.6H435V1364.05H436.2V1364.28H437.4V1364.87H439.2V1364.73H441V1364.44H442.2V1363.97H443.4V1365.2ZM445.2 1365.2V1363.84H446.4V1363.97H448.2V1365.2ZM450 1365.2V1364.4H451.2V1363.64H453V1364.69H455.4V1365.2ZM456.6 1365.2V1363.67H459V1363.8H460.2V1365.2ZM461.4 1365.2V1364.94H463.2V1363.62H464.4V1364.34H466.8V1364.46H468.6V1364.27H469.8V1363.9H471.6V1364.16H472.8V1363.69H474V1364.18H475.8V1364.13H477V1363.79H478.8V1365.2ZM480.6 1365.2V1364.7H481.8V1363.85H483.6V1363.66H484.8V1362.76H486.6V1363.25H489V1362.95H490.2V1362.11H490.8V1359.2H492.6V1357.2H494.4V1362.3H495.6V1363.12H498V1362.54H499.2V1363.76H501V1362.05H502.8V1364.21H504.6V1361.2H505.8V1364.36H507.6V1363.25H510V1363.9H511.8V1362.05H513V1365.2ZM514.8 1365.2V1361.9H515.4V1360.2H517.8V1363.19H519V1362.41H520.8V1365.2ZM523.2 1365.2V1363.23H525V1362.56H526.2V1362.16H528V1365.2ZM531.6 1365.2V1363.02H532.2V1355.2H533.4V1360.2H535.8V1364.36H536.4V1363.79H538.2V1364.24H540V1364.14H541.8V1365.2ZM544.8 1365.2V1363H546.6V1361.75H549V1365.2ZM550.2 1365.2V1362.34H551.4V1362.91H552.6V1363.95H553.2V1356.2H554.4V1350.2H556.8V1358.2H558V1361.71H559.2V1362.6H560.4V1362.81H562.8V1358.2H567.6V1365.2ZM568.8 1365.2V1360.2H576V1364.31H577.8V1362.25H579.6V1363.87H581.4V1357.2H583.2V1363.92H585V1364.22H586.2V1355.2H588V1364.33H588.6V1363.84H590.4V1362.25H591.6V1364.42H592.8V1361.64H594V1363.55H595.8V1362.2H598.2V1365.2ZM602.4 1365.2V1363.32H603.6V1364.5H604.8V1362.97H606V1363.73H607.2V1363.31H609V1364.5H610.8V1365.2ZM613.2 1365.2V1362.64H614.4V1364.57H615.6V1363.54H616.8V1357.2H619.8V1362.59H620.4V1363.43H622.2V1363.72H624V1362.09H625.2V1364.23H626.4V1363.26H628.2V1362.37H629.4V1362.8H630.6V1363.99H632.4V1361.12H633.6V1365.2ZM635.4 1365.2V1362.95H637.2V1365.2ZM637.8 1365.2V1362.2H640.8V1362.77H642V1361.67H643.8V1365.2ZM645 1365.2V1363.83H647.4V1361.29H648.6V1362.91H650.4V1365.2ZM652.2 1365.2V1360.2H655.2V1363.67H656.4V1365.2ZM657 1365.2V1361.2H660.6V1360.97H661.2V1365.2Z" fill="#ff9d0a"/>
<line x1="123" y1="1365.2" x2="661" y2="1365.2" stroke="#222" stroke-width="0.9" />
<path d="M123 1406.8V1376.86H124.99V1377.1H126.28V1377.07H128.35V1377.15H129.9V1377.03H131.1V1377.03H132.57V1376.81H133.86V1376.77H135.53V1376.98H136.87V1376.36H138.19V1376.5H140.17V1402.22H141.4V1403.02H143.11V1396.18H145.24V1396.66H147.41V1405.42H148.99V1376.55H150.66V1376.6H152.69V1406.8ZM154.05 1406.8V1394.6H156.21V1406.8ZM171.05 1406.8V1404.26H172.46V1404.08H174.05V1404.69H175.78V1403.58H177.71V1403.35H179.14V1403.5H180.58V1401.6H182.52V1403.73H184.42V1404.45H186.21V1403.32H187.59V1403.09H189.07V1400.81H190.42V1399.68H192.24V1400.02H194.01V1400.81H196.17V1403.02H198V1402.12H199.7V1400.51H201.72V1398.08H203.29V1406.8ZM205.02 1406.8V1398.46H207.11V1398.99H209.12V1399.68H210.33V1400.16H212.52V1397.88H214.17V1384.03H215.9V1385.98H216.8V1406.8ZM217.6 1406.8V1389.96H219.71V1383.08H221.69V1376.3H223.18V1376.3H224.6V1387.82H225.38V1406.8ZM226.18 1406.8V1381.33H227.72V1384.6H229.15V1376.3H231.04V1388.5H232.62V1384.44H233.98V1388.22H236.15V1406.8ZM240.41 1406.8V1379.89H242.49V1406.8ZM244.53 1406.8V1381.53H245.83V1388.25H247.4V1379.29H249.46V1381.25H250.32V1406.8ZM251.12 1406.8V1380.78H252.97V1388.32H254.4V1394.7H256.48V1387.75H258V1387.6H259.53V1392.94H261.68V1389.31H263.16V1406.8ZM264.48 1406.8V1383.93H265.81V1389.9H267.23V1380.51H268.55V1390.02H270.39V1388.67H271.64V1391.19H273.39V1394.22H274.79V1383.99H276.26V1406.8ZM279.84 1406.8V1384.29H281.51V1379.96H283.16V1382.32H283.81V1406.8ZM284.61 1406.8V1388.99H285.94V1376.3H287.45V1376.56H289.56V1381.18H291.75V1376.3H293.14V1386.32H294.95V1382.03H296.92V1377.26H298.51V1385.2H300.27V1377.43H301.81V1376.3H303.39V1406.8ZM304.73 1406.8V1383.88H306.15V1381.68H308V1385.88H309.89V1389.54H311.88V1389.51H313.58V1388.06H315.01V1382.84H316.24V1381.13H317.46V1389.33H318.81V1382.67H320.62V1386.51H322.56V1390.63H324.73V1386.01H326.32V1392.49H327.4V1406.8ZM328.2 1406.8V1385.47H330.16V1387.22H331.54V1390.3H333.11V1384.16H334.44V1387.96H336.45V1392.01H338.61V1386.69H340.51V1376.3H342.33V1406.8ZM344.37 1406.8V1386.8H346.07V1387.75H347.53V1380.2H349.19V1379.1H351.28V1389.79H353.4V1377.4H354.48V1406.8ZM357.97 1406.8V1394.41H359.48V1390.49H361.38V1386.91H363.42V1391.65H365.44V1381.9H367.51V1385.72H369.07V1384.46H370.99V1390.6H371.56V1406.8ZM372.36 1406.8V1385.68H374.06V1386.47H375.54V1381.24H377.2V1380.9H379.25V1389.03H381.35V1383.64H382.97V1388.81H385.06V1390.27H386.4V1387.6H387.65V1387.74H389.57V1386.29H391.06V1380.3H393.04V1382.18H394.82V1386.87H396.98V1394.05H398.29V1381.04H400.34V1385.65H401.68V1376.3H403.11V1384.25H404.39V1376.3H405.65V1379.82H407.67V1381.15H409.31V1376.3H410.31V1406.8ZM411.11 1406.8V1378.99H412.79V1386.69H414.96V1376.3H416.26V1376.3H417.93V1376.3H419.59V1376.3H421.78V1378.43H423.6V1380.82H425.56V1383.84H426.88V1384.33H428.61V1385.82H430.32V1384.22H432.25V1380.24H434V1388.76H436V1380.66H437.45V1381.29H438.76V1380.67H440.88V1378.56H442.14V1393.24H443.59V1376.3H445.41V1376.3H447V1386.24H448.35V1386.54H449.79V1390.58H451.07V1377.14H452.72V1380.89H454.15V1388.33H455.5V1386.61H457.09V1379.25H458.43V1384.11H460.25V1386.92H461.95V1378.94H463.17V1382.04H464.9V1383.79H466.32V1377.18H468.46V1385.51H470.31V1383.43H472.2V1385.17H473.55V1376.69H475.36V1385.38H477.44V1381.87H478.29V1406.8ZM479.09 1406.8V1387.42H481.11V1388.35H482.4V1389.82H483.77V1386.82H485.66V1385.12H486.88V1384.76H488.48V1377.88H489.71V1388.21H491.77V1378.03H493.63V1376.3H495.14V1385.13H496.91V1376.3H498.81V1379.32H500.43V1378.74H502.61V1388.41H504.29V1380.23H506.47V1389.11H507.26V1406.8ZM508.06 1406.8V1381.07H509.82V1379.88H511.8V1383.75H513.12V1383.15H514.43V1376.3H515.79V1376.3H517.83V1376.7H519.68V1390.3H521.52V1406.8ZM525.53 1406.8V1379.82H527.08V1379.08H528.38V1376.42H529.75V1379.08H531.26V1388.13H532.55V1376.95H534.51V1381.12H536.14V1384.77H537.34V1384.25H538.88V1390.12H540.42V1376.3H542.52V1379.58H544.32V1384.12H546.1V1378.4H547.35V1384.5H549.14V1385.73H549.72V1406.8ZM550.52 1406.8V1377.12H552.53V1376.3H553.88V1376.3H555.23V1376.3H557.33V1388.72H558.95V1382.58H560.81V1382.41H561.98V1406.8ZM562.78 1406.8V1386.27H563.43V1406.8ZM564.23 1406.8V1390.73H565.49V1380.52H567.14V1376.93H569.31V1376.3H570.88V1376.3H572.26V1379.95H572.87V1406.8ZM573.67 1406.8V1386.06H575.03V1376.3H576.36V1376.35H577.76V1406.8ZM579.71 1406.8V1386.04H581.61V1406.8ZM582.92 1406.8V1383.47H584.29V1376.3H586.28V1390.15H587.56V1378.52H588.83V1377.93H590.11V1388.17H591.31V1385.01H592.86V1377.72H594.87V1392.17H596.97V1385.11H598.99V1391.1H600.22V1378.97H602.13V1392.75H604.27V1386.87H605.72V1406.8ZM607.56 1406.8V1382.08H609.12V1379.42H610.97V1380.29H612.78V1384.16H614.17V1387.38H615.9V1379.85H617.41V1381.82H619.46V1382.78H620.84V1387.83H622.05V1387.54H623.96V1380.47H625.34V1383.95H627.34V1376.31H628.68V1380.4H630.61V1384.58H632.18V1383.35H633.65V1384.75H635.33V1381.82H636.73V1387.49H638.06V1392.96H639.72V1406.8ZM641.83 1406.8V1386.8H643.27V1379.55H644.51V1389.71H646.19V1392.6H647.87V1390.29H649.32V1379.56H651.07V1384.82H652.84V1386.77H654.94V1385.8H656.27V1406.8ZM657.07 1406.8V1383.31H658.61V1380.56H660.67V1379.86H661V1406.8Z" fill="#ff00ff"/>
<line x1="123" y1="1406.8" x2="661" y2="1406.8" stroke="#9a9a9a" stroke-width="1" />
<path d="M123 1448.5V1418.36H124.63V1419.59H125.64V1423.16H127.23V1423.99H128.4V1417.13H130.07V1423.23H131.09V1423.03H132.18V1420.87H133.54V1420.4H135.11V1420.31H136.73V1424.66H138V1425.18H138.43V1448.5ZM139.33 1448.5V1442.93H140.36V1443.18H141.73V1428.97H143.26V1431.58H144.62V1428.19H146.03V1430.22H146.96V1446.01H148.17V1445.93H149.54V1423.55H150.13V1448.5ZM151.03 1448.5V1425.33H151.77V1448.5ZM152.67 1448.5V1425.36H153.96V1437.7H155.12V1441.44H156.47V1448.5ZM170.06 1448.5V1447.73H171.32V1443.37H172.76V1439.6H174.38V1437.02H175.9V1433.81H177.21V1432.43H178.21V1428.98H179.57V1430.37H181.2V1428.7H182.13V1433.13H183.16V1443.45H184.34V1442.33H185.3V1443.28H186.85V1432.41H188.02V1448.5ZM189.4 1448.5V1430.49H190.7V1429.42H192.3V1433.17H193.29V1433.23H194.58V1430.34H195.24V1448.5ZM196.14 1448.5V1431.44H197.59V1431.11H199.12V1432.16H200.23V1432.27H201.49V1436.17H202.96V1432.97H204.49V1433.96H205.85V1431.73H207.44V1431.83H209.01V1432.23H209.11V1448.5ZM210.01 1448.5V1430.55H211V1430.46H212.53V1427.59H213.91V1426.33H215.2V1422.21H216.26V1423.54H216.96V1448.5ZM217.86 1448.5V1425.23H218.56V1448.5ZM219.46 1448.5V1420.12H220.51V1423.84H221.93V1421.61H223.6V1418.96H224.94V1423.39H226.34V1422.69H227.41V1420.84H228.95V1420.52H229.31V1448.5ZM230.21 1448.5V1418.3H231.8V1420.7H233.45V1421.39H235.12V1423.8H236.33V1418.69H237.76V1448.5ZM240.07 1448.5V1419.54H241.09V1419.68H242.27V1420.03H243.49V1418.32H244.86V1420.99H245.9V1422.6H247.27V1424.88H248.71V1419.53H249.92V1421.62H251.57V1424.79H252.95V1422.87H254.48V1432.39H255.84V1421.95H256.92V1421.57H258.41V1424.14H259.97V1418.62H261.61V1423.91H262.99V1421.15H264.59V1448.5ZM266.22 1448.5V1422.86H267.41V1419.27H268.46V1424.54H270.09V1424.22H271.39V1421.14H272.47V1419.63H274.03V1418.22H274.73V1448.5ZM275.63 1448.5V1418.1H275.93V1448.5ZM279.48 1448.5V1420.73H280.52V1420.39H281.62V1418.26H282.55V1423.1H283.51V1420.46H284.94V1432.55H286.21V1422.34H287.17V1419.57H288.39V1421.03H289.9V1419.23H291.47V1418.79H292.83V1419.68H294.09V1419.5H295.47V1422.21H296.84V1418.8H297.84V1420.29H298.87V1423.05H299.83V1421.23H301.15V1421.93H302.27V1418.97H303.4V1448.5ZM304.49 1448.5V1420.51H305.92V1434.28H306.85V1423.83H308.44V1420.77H309.37V1420.41H310.72V1432.91H312.22V1423.48H313.53V1448.5ZM314.73 1448.5V1424.92H316.2V1422.69H317.48V1422.83H318.67V1422.78H318.84V1448.5ZM319.74 1448.5V1422.05H321.02V1423.32H322.18V1418.47H323.63V1421.21H324.56V1419.07H325.72V1423.76H327.27V1419.54H328.28V1422.93H328.4V1448.5ZM329.3 1448.5V1420.05H330.54V1422.32H331.82V1423.84H333.31V1422.08H334.93V1423.39H336.38V1418.92H337.3V1432.96H338.23V1422.1H339.47V1423.89H341.08V1424.59H342.49V1448.5ZM343.59 1448.5V1424.37H345.13V1424.65H346.35V1418.28H347.36V1418.21H348.51V1422.62H350.05V1418.89H351.02V1421.6H352.46V1421.75H353.87V1424.08H354.81V1421.78H355.76V1421.82H356.9V1448.5ZM357.89 1448.5V1418.03H359.17V1421.26H360.27V1424.64H361.57V1421.79H362.96V1418.12H364.62V1433.86H365.91V1422.97H366.84V1423.52H367.19V1448.5ZM368.09 1448.5V1424.66H369.44V1419.35H371.08V1418.81H372.75V1431.85H374.4V1423.94H375.5V1418.77H377.06V1420.5H378.47V1423.99H380.07V1423.99H381.21V1420.83H382.63V1423.53H383.95V1419.76H385.17V1419.87H386.67V1424.44H388.03V1421.19H388.15V1448.5ZM389.05 1448.5V1423.22H390.29V1419.92H391.94V1421.45H393.5V1417.99H394.7V1424.79H395.63V1431.41H396.99V1424.93H398.09V1419.78H399.13V1448.5ZM400.23 1448.5V1424.87H401.72V1420.55H403.09V1418.3H404.7V1418.29H406.26V1423.98H407.55V1424.37H408.6V1422.4H410.16V1418.69H410.31V1448.5ZM411.21 1448.5V1424.35H412.35V1420.65H413.8V1424.43H414.93V1422.69H415.99V1424.24H417.48V1422.57H418.72V1421.75H418.94V1448.5ZM419.84 1448.5V1419.07H421.42V1418H422.66V1420.93H423.8V1419.16H425.45V1422.95H426.71V1423.8H428.05V1424.16H428.56V1448.5ZM429.46 1448.5V1424.31H430.9V1418.82H432.34V1430.26H433.99V1418.98H435.21V1427.4H436.68V1421.33H438.08V1431.44H439.53V1420.65H440.7V1420.42H442.25V1418.87H443.92V1423.68H445.26V1423.48H446.66V1421.56H448.06V1423.74H449.5V1448.5ZM450.85 1448.5V1433.41H451.87V1418.13H453.14V1420.09H454.55V1419.81H455.72V1418.38H456.04V1448.5ZM456.94 1448.5V1420.78H458.09V1421.19H458.56V1448.5ZM459.46 1448.5V1423.53H460.68V1424.54H462.34V1418.73H463.46V1424.53H464.9V1420.95H466.11V1419.65H467.79V1423.64H468.73V1424.26H470.15V1424.43H471.57V1423.8H472.49V1420.23H473.89V1422.48H475.45V1419.06H476.76V1421.83H478.03V1420.1H479.5V1431H481.13V1423.49H482.8V1424H484.21V1421.58H485.8V1422.95H487.01V1423.43H488.32V1420.72H489.85V1424.29H490.92V1423.85H492.1V1418.14H493.31V1448.5ZM494.69 1448.5V1421.29H496.12V1420.29H497.39V1423.67H498.37V1418.97H500.04V1422.38H501.16V1418.31H502.68V1419H503.84V1422.86H505.22V1420.03H506.22V1421.3H507.69V1422.09H509.05V1422.17H510.13V1421.55H511.51V1421.54H512.75V1425.98H513.86V1418.35H515.42V1419.02H516.84V1424.06H517.93V1424.75H518.99V1421.97H520.37V1419.38H521.36V1434.51H522.98V1448.5ZM524.33 1448.5V1419.3H526.02V1418.33H527.53V1423.14H528.65V1418.69H530.2V1435.1H531.25V1424.73H532.65V1423.43H534.28V1425.36H534.82V1448.5ZM535.72 1448.5V1420.19H537.06V1418.52H538.34V1423.66H539.7V1418.73H540.62V1420.99H541.65V1421.17H543.05V1448.5ZM544.18 1448.5V1422.45H545.31V1419.05H546.25V1421.81H547.46V1417.84H548.91V1418.38H550.46V1420.16H551.58V1448.5ZM553.17 1448.5V1421.12H554.47V1423.02H555.47V1418.61H556.8V1424.71H557.94V1420.21H558.36V1448.5ZM559.26 1448.5V1422.04H560.32V1420.69H560.76V1448.5ZM561.66 1448.5V1420H562.57V1427.04H564.02V1423.59H565.34V1422.99H566.93V1417.81H568.47V1420.97H569.47V1422.22H570.47V1423.56H571.66V1418.42H572.81V1421.2H573.95V1421.55H575.31V1419.67H576.27V1420.61H577.34V1448.5ZM580.68 1448.5V1424.2H582.29V1422.96H583.28V1422.58H584.43V1418.37H586.03V1418.22H587.29V1421.58H587.58V1448.5ZM588.48 1448.5V1422.81H589.88V1424.81H591.38V1417.9H592.35V1420.32H593.67V1420.29H595.13V1422.3H596.63V1433.21H598.3V1418.21H599.31V1422.01H600.4V1420.33H601.51V1417.8H602.64V1423.26H604.28V1423.23H605.38V1429.34H606.51V1420.42H607.63V1420.23H609.31V1422.48H610.48V1423.15H612.09V1421.35H613.69V1421.26H614.76V1418.83H616.08V1420.7H617.13V1422.37H618.41V1418.17H619.96V1423.91H621.25V1418.96H622.64V1418.12H623.72V1418.22H625.15V1431.35H626.6V1418.74H628.15V1419.9H629.24V1421.98H630.9V1422.53H632.16V1423H633.67V1420.41H634.59V1422.22H635.85V1419.05H636.92V1421.9H638.32V1419.92H639.45V1423.17H640.8V1420.82H641.91V1420.75H643.28V1421.12H644.89V1421.41H646.09V1422.83H647.18V1424.34H648.33V1427.67H649.37V1421.51H650.94V1423.2H652.31V1421.24H653.77V1419.67H655.29V1420.61H656.3V1419.1H657.79V1423.05H659.17V1424.09H660.7V1419.81H661V1448.5Z" fill="#ff9d0a"/>
<line x1="123" y1="1448.5" x2="661" y2="1448.5" stroke="#111" stroke-width="0.9" />
<rect x="136.3" y="1201.3" width="11.5" height="165.4" fill="none" stroke="#1a1a1a" stroke-width="1.1"/>
<rect x="446.8" y="1201" width="11.8" height="82.4" fill="none" stroke="#1a1a1a" stroke-width="1.3"/>
<rect x="142.6" y="1366.2" width="4.3" height="82.2" fill="none" stroke="#1a1a1a" stroke-width="1.1"/>
<rect x="188.8" y="1366.6" width="6" height="82.6" fill="none" stroke="#000" stroke-width="1.9"/>
<line x1="192.6" y1="1366.6" x2="192.6" y2="1449" stroke="#000" stroke-width="1" />
<rect x="200.7" y="1366.6" width="5.5" height="82.4" fill="none" stroke="#1a1a1a" stroke-width="1.1"/>
<rect x="449.6" y="1366.4" width="4.1" height="82.2" fill="none" stroke="#1a1a1a" stroke-width="1.2"/>
<line x1="203" y1="1365.6" x2="672" y2="1283.6" stroke="#000" stroke-width="2.1" stroke-dasharray="2.1 2.3"/>
<line x1="196" y1="1449.3" x2="672" y2="1449.3" stroke="#000" stroke-width="2.1" stroke-dasharray="2.1 2.3"/>
<rect x="672.2" y="1283.9" width="24.5" height="165.7" fill="#fff" stroke="#000" stroke-width="2"/>
<line x1="673.2" y1="1365.3" x2="695.7" y2="1365.3" stroke="#9a9a9a" stroke-width="0.9" />
<path d="M673.2 1365V1358.2H678.3V1358H686.1V1349.5H690V1357H692.5V1365Z" fill="#ff00ff"/>
<path d="M673.2 1448.7V1443.7H675.4V1429.3H678.3V1409.9H682.2V1404.1H686.1V1408H690V1423.5H692.5V1448.7Z" fill="#ff9d0a"/>
<line x1="164" y1="1462.2" x2="600" y2="1462.2" stroke="#111" stroke-width="1.4" />
<rect x="163.6" y="1457.8" width="3.7" height="8.8" fill="#000"/>
<line x1="164.2" y1="1454.9" x2="164.2" y2="1469.5" stroke="#000" stroke-width="1.7" />
<line x1="181" y1="1454.9" x2="181" y2="1469.5" stroke="#000" stroke-width="1.7" />
<line x1="329.4" y1="1454.9" x2="329.4" y2="1469.5" stroke="#000" stroke-width="1.7" />
<line x1="351" y1="1454.9" x2="351" y2="1469.5" stroke="#000" stroke-width="1.7" />
<line x1="362.3" y1="1454.9" x2="362.3" y2="1469.5" stroke="#000" stroke-width="1.7" />
<line x1="392.3" y1="1454.9" x2="392.3" y2="1469.5" stroke="#000" stroke-width="1.7" />
<line x1="394.3" y1="1454.9" x2="394.3" y2="1469.5" stroke="#000" stroke-width="1.7" />
<line x1="528.4" y1="1454.9" x2="528.4" y2="1469.5" stroke="#000" stroke-width="1.7" />
<line x1="533.3" y1="1454.9" x2="533.3" y2="1469.5" stroke="#000" stroke-width="1.7" />
<line x1="552.7" y1="1454.9" x2="552.7" y2="1469.5" stroke="#000" stroke-width="1.7" />
<line x1="557.7" y1="1454.9" x2="557.7" y2="1469.5" stroke="#000" stroke-width="1.7" />
<line x1="597.9" y1="1454.9" x2="597.9" y2="1469.5" stroke="#000" stroke-width="1.7" />
<rect x="598.5" y="1458.2" width="11.4" height="8" fill="#000"/>
<path d="M191.8 1460.1l2.2 2.1l-2.2 2.1M210.1 1460.1l2.2 2.1l-2.2 2.1M223.9 1460.1l2.2 2.1l-2.2 2.1M241.4 1460.1l2.2 2.1l-2.2 2.1M256.1 1460.1l2.2 2.1l-2.2 2.1M272.6 1460.1l2.2 2.1l-2.2 2.1M286.4 1460.1l2.2 2.1l-2.2 2.1M303.9 1460.1l2.2 2.1l-2.2 2.1M318.5 1460.1l2.2 2.1l-2.2 2.1M341.8 1460.1l2.2 2.1l-2.2 2.1M375.7 1460.1l2.2 2.1l-2.2 2.1M405.8 1460.1l2.2 2.1l-2.2 2.1M436.8 1460.1l2.2 2.1l-2.2 2.1M467.8 1460.1l2.2 2.1l-2.2 2.1M498.9 1460.1l2.2 2.1l-2.2 2.1M547.3 1460.1l2.2 2.1l-2.2 2.1M570.6 1460.1l2.2 2.1l-2.2 2.1" fill="none" stroke="#111" stroke-width="1.1"/>
<text x="333.2" y="1501" font-size="27.2" font-style="italic" stroke="#000" stroke-width="0.33">Homer1</text>
<line x1="60.2" y1="1525.2" x2="60.2" y2="1604.3" stroke="#000" stroke-width="3.3" />
<line x1="60.2" y1="1608.9" x2="60.2" y2="1687.9" stroke="#000" stroke-width="3.3" />
<line x1="60.2" y1="1694" x2="60.2" y2="1772.3" stroke="#000" stroke-width="3.3" />
<line x1="60.2" y1="1778.5" x2="60.2" y2="1856.8" stroke="#000" stroke-width="3.3" />
<text x="46.8" y="1564.9" font-size="19" text-anchor="middle" stroke="#000" stroke-width="0.23" transform="rotate(-90 46.8 1564.9)" textLength="58.4" lengthAdjust="spacingAndGlyphs">nuRNA</text>
<text x="46.8" y="1646.4" font-size="19" text-anchor="middle" stroke="#000" stroke-width="0.23" transform="rotate(-90 46.8 1646.4)" textLength="48.7" lengthAdjust="spacingAndGlyphs">ATAC</text>
<text x="46.8" y="1732.2" font-size="19" text-anchor="middle" stroke="#000" stroke-width="0.23" transform="rotate(-90 46.8 1732.2)" textLength="73.5" lengthAdjust="spacingAndGlyphs">H3K27ac</text>
<text x="46.8" y="1816.8" font-size="19" text-anchor="middle" stroke="#000" stroke-width="0.23" transform="rotate(-90 46.8 1816.8)" textLength="71.3" lengthAdjust="spacingAndGlyphs">DNA met</text>
<text x="73" y="1552.4" font-size="23.3" stroke="#000" stroke-width="0.28" textLength="40.2" lengthAdjust="spacingAndGlyphs">CA1</text>
<text x="73.2" y="1594" font-size="23.3" stroke="#000" stroke-width="0.28" textLength="33" lengthAdjust="spacingAndGlyphs">DG</text>
<text x="73" y="1635" font-size="23.3" stroke="#000" stroke-width="0.28" textLength="40.2" lengthAdjust="spacingAndGlyphs">CA1</text>
<text x="73.2" y="1677.8" font-size="23.3" stroke="#000" stroke-width="0.28" textLength="33" lengthAdjust="spacingAndGlyphs">DG</text>
<text x="73" y="1719.4" font-size="23.3" stroke="#000" stroke-width="0.28" textLength="40.2" lengthAdjust="spacingAndGlyphs">CA1</text>
<text x="73.2" y="1761.6" font-size="23.3" stroke="#000" stroke-width="0.28" textLength="33" lengthAdjust="spacingAndGlyphs">DG</text>
<text x="73" y="1803.3" font-size="23.3" stroke="#000" stroke-width="0.28" textLength="40.2" lengthAdjust="spacingAndGlyphs">CA1</text>
<text x="73.2" y="1845.2" font-size="23.3" stroke="#000" stroke-width="0.28" textLength="33" lengthAdjust="spacingAndGlyphs">DG</text>
<text x="126.4" y="1543.5" font-size="15.6" stroke="#000" stroke-width="0.12" textLength="31.6" lengthAdjust="spacingAndGlyphs">0-40</text>
<text x="126.4" y="1582.3" font-size="15.6" stroke="#000" stroke-width="0.12" textLength="31.6" lengthAdjust="spacingAndGlyphs">0-40</text>
<text x="126.4" y="1625" font-size="15.6" stroke="#000" stroke-width="0.12" textLength="40.4" lengthAdjust="spacingAndGlyphs">0-170</text>
<text x="126.4" y="1664.4" font-size="15.6" stroke="#000" stroke-width="0.12" textLength="40.4" lengthAdjust="spacingAndGlyphs">0-170</text>
<text x="126.4" y="1705.6" font-size="15.6" stroke="#000" stroke-width="0.12" textLength="31.6" lengthAdjust="spacingAndGlyphs">0-60</text>
<text x="126.4" y="1747.9" font-size="15.6" stroke="#000" stroke-width="0.12" textLength="31.6" lengthAdjust="spacingAndGlyphs">0-60</text>
<text x="127.6" y="1790.1" font-size="15.6" stroke="#000" stroke-width="0.12" textLength="40.2" lengthAdjust="spacingAndGlyphs">0-100</text>
<text x="127.6" y="1830.9" font-size="15.6" stroke="#000" stroke-width="0.12" textLength="40.2" lengthAdjust="spacingAndGlyphs">0-100</text>
<text x="623.9" y="1522.3" font-size="19" stroke="#000" stroke-width="0.23" textLength="39" lengthAdjust="spacingAndGlyphs">1 Kb</text>
<line x1="630.2" y1="1527.7" x2="657.4" y2="1527.7" stroke="#000" stroke-width="2.1" />
<path d="M123 1566.6V1566.32H125.4V1566.25H127.2V1566.02H129.6V1566.15H130.8V1565.81H132.6V1565.9H133.8V1566.6ZM136.2 1566.6V1565.84H141V1566.32H142.8V1565.82H145.2V1565.69H147.6V1566.6ZM150 1566.6V1565.63H151.2V1566.13H155.4V1566.6ZM158.4 1566.6V1566.35H161.4V1566.6ZM168.6 1566.6V1565.83H169.8V1566.6ZM171 1566.6V1566.04H173.4V1566.6ZM181.8 1566.6V1566.33H183.6V1566.6ZM186 1566.6V1565.86H188.4V1565.88H190.8V1565.73H192.6V1563.8H193.8V1562.82H196.2V1565.63H198.6V1558.1H200.4V1556.6H202.2V1565.9H203.4V1562.24H204.6V1565.04H207V1564.14H208.8V1560.62H210.6V1563.87H211.8V1547.6H213V1534.6H215.4V1546.6H217.8V1555.6H219.6V1563.78H220.2V1554.6H224.4V1560.54H226.2V1556.6H229.8V1561.22H230.4V1563.04H231.6V1563.91H233.4V1556.1H236.4V1564.47H237.6V1564.23H238.8V1564.62H240.6V1565.53H243V1565.66H245.4V1562.42H247.2V1556.6H249V1562.62H249.6V1556.1H252.6V1559.99H255V1562.14H257.4V1563.74H259.2V1558.1H261.6V1564.67H262.8V1561.12H264.6V1562.08H266.4V1561.98H268.2V1556.6H271.8V1560.8H272.4V1561.29H274.8V1554.6H277.8V1562.59H278.4V1552.6H280.8V1559.32H281.4V1563.32H282.6V1559.33H284.4V1561.73H286.2V1559.41H287.4V1564.58H289.2V1560.54H291V1565.37H292.8V1561.77H294.6V1565.73H295.8V1551.6H298.2V1549.6H299.4V1540.6H301.2V1561.43H301.8V1551.6H304.2V1559.84H304.8V1559.26H306V1547.1H308.4V1563.29H309V1553.6H310.8V1563.13H311.4V1548.6H315.6V1563.04H316.2V1562.43H318.6V1562.75H319.8V1560.47H321.6V1559.74H323.4V1565.57H325.2V1558.91H327V1562.29H328.8V1560.26H331.2V1563.97H332.4V1553.6H334.2V1563.14H334.8V1563.42H335.4V1552.1H337.2V1560.32H339V1562.41H340.2V1552.1H342V1562.5H342.6V1554.1H345.6V1565.17H347.4V1563.77H349.2V1559.86H349.8V1555.1H352.2V1559.23H352.8V1563.75H355.2V1561.62H357.6V1549.6H360.6V1563.24H362.4V1564.19H364.2V1564.53H366V1561.79H368.4V1561.24H370.2V1562.7H372V1552.6H373.2V1545.6H375V1552.6H376.2V1565.29H377.4V1561.02H379.2V1565.54H381V1564.46H381.6V1549.6H384V1565.15H385.2V1559.35H387V1561.49H389.4V1560.45H390.6V1559.32H393V1564H394.2V1560.13H396V1563.27H396.6V1552.6H399V1563.32H399.6V1560.44H400.2V1552.6H404.4V1560.4H406.2V1561.39H408V1563.32H409.2V1560.93H411V1560.56H412.8V1561.92H414.6V1559.76H416.4V1562.97H418.2V1559.63H420V1563.78H421.8V1559.69H424.2V1562.43H426V1561.8H427.8V1563.82H429.6V1560.03H431.4V1561.3H433.2V1563.06H434.4V1553.6H436.8V1564.37H437.4V1564.58H439.8V1563.86H442.2V1564.84H444V1564.96H445.2V1559.36H447V1563.5H449.4V1563.77H450.6V1563.15H453V1564.43H455.4V1566.6ZM457.8 1566.6V1558.79H459.6V1560.58H460.2V1550.6H462V1564.34H463.8V1563.53H465V1561.56H466.2V1565.6H468.6V1562.1H471V1561.44H471.6V1554.6H474V1558.7H474.6V1559.09H477V1559.79H479.4V1558.78H481.2V1560.7H482.4V1564.63H483V1557.6H484.8V1566.6ZM486 1566.6V1564.78H487.8V1563.12H489V1561.14H491.4V1564.6H492.6V1565.05H495V1561.1H497.4V1565.23H499.2V1566.6ZM501 1566.6V1561.71H502.8V1564.23H505.2V1559.12H506.4V1562.41H508.8V1563.95H511.2V1564.34H513V1565H515.4V1560.35H517.2V1561.91H519V1562.67H520.8V1564.48H522.6V1563.15H524.4V1561.05H525.6V1559.96H528V1554.6H530.4V1565.47H531.6V1559.4H534V1560.14H535.2V1561.77H537.6V1560.46H539.4V1562.49H541.2V1558.51H543V1562.8H545.4V1554.6H547.8V1562.2H549V1560.43H550.2V1561.82H551.4V1562.45H553.2V1561.33H554.4V1561.01H556.8V1566.6ZM558.6 1566.6V1562.23H561V1564.19H562.2V1560.22H564.6V1564.05H567V1558.22H569.4V1561.33H571.2V1559.41H573V1564.57H575.4V1563.21H577.8V1558.26H578.4V1554.6H580.8V1565.56H581.4V1564.68H582.6V1558.49H585V1558.91H586.8V1558.25H588.6V1563.18H590.4V1558.59H592.8V1560.4H594.6V1563.36H596.4V1563.66H598.2V1560.47H600V1561.85H601.8V1563.88H603V1561.48H605.4V1562.08H607.2V1562.24H607.8V1553.6H610.2V1547.2H612.6V1559.12H615.6V1564.58H618V1559.27H619.2V1554.6H621.6V1560.56H624V1563.78H626.4V1560.55H628.2V1562.18H630V1558.6H631.8V1562.58H632.4V1560.99H634.8V1558.77H636.6V1565.16H637.8V1554.6H640.2V1566.6ZM642 1566.6V1563.73H643.2V1566.09H645V1564.18H646.8V1565.28H648.6V1565.04H650.4V1566.07H652.8V1565.38H654V1564.42H656.4V1564.9H658.2V1565.99H658.8V1566.6Z" fill="#ff00ff"/>
<line x1="123" y1="1566.6" x2="659" y2="1566.6" stroke="#8a8a8a" stroke-width="1" />
<path d="M187.8 1608.7V1608.11H190.2V1608.27H191.4V1608.7ZM193.8 1608.7V1607.88H195.6V1607.94H198V1607.72H200.4V1607.28H202.2V1608.14H203.4V1608.7ZM205.8 1608.7V1607.8H207.6V1608.7ZM210 1608.7V1607.29H211.8V1603.9H216V1605.7H219V1607.68H220.8V1603.9H225V1605.4H227.4V1607.26H228V1608.11H229.8V1608.41H232.8V1607.89H235.2V1607.4H238.2V1607.67H240.6V1607.05H243V1608.7ZM244.8 1608.7V1607.55H247.8V1605.7H250.2V1608.7ZM253.2 1608.7V1607.24H255V1607.48H256.8V1607.22H259.2V1608.23H261.6V1607.99H264V1608.14H267V1607.66H269.4V1607.53H270V1605.7H271.8V1607.53H272.4V1608.7ZM274.2 1608.7V1608.27H277.2V1607.74H279.6V1607.39H280.8V1608.7ZM282.6 1608.7V1607.9H285.6V1608.41H288V1607.31H290.4V1607.3H292.2V1607.52H294V1607.16H295.8V1608.7ZM298.8 1608.7V1607.42H299.4V1604.7H301.8V1608.2H303V1607.05H304.2V1608.7ZM306 1608.7V1605.5H310.2V1607.18H311.4V1608.42H313.8V1608.7ZM318 1608.7V1607.78H320.4V1608.3H322.8V1608.7ZM325.2 1608.7V1607.94H327V1607.52H329.4V1608.7ZM334.8 1608.7V1607.65H336.6V1607.42H339V1607.62H341.4V1608.7ZM343.8 1608.7V1607.88H345.6V1608.7ZM348 1608.7V1608.08H349.8V1607.11H351.6V1607.58H354.6V1607.92H356.4V1607.69H357V1603.7H360.6V1608.14H362.4V1607.67H364.8V1608.7ZM370.8 1608.7V1607.64H372.6V1608.4H373.8V1603.7H376.2V1608.7ZM377.4 1608.7V1607.77H379.8V1607.32H382.2V1608.18H384.6V1608.7ZM387 1608.7V1607.37H388.8V1608.09H391.2V1607.76H393V1608.01H394.8V1607.28H399V1608.7ZM400.8 1608.7V1607.93H403.2V1608.7ZM409.2 1608.7V1607.94H411V1608.7ZM413.4 1608.7V1607.6H415.8V1608.45H418.2V1607.75H420V1608.7ZM421.8 1608.7V1608.04H424.2V1607.27H426.6V1608.28H428.4V1607.46H430.2V1608.7ZM432 1608.7V1607.15H433.8V1607.9H436.2V1604.7H438.6V1607.67H441V1607.74H442.8V1608.7ZM444.6 1608.7V1608.1H447.6V1607.69H449.4V1608.34H451.8V1607.51H453.6V1608.18H456.6V1607.78H459V1607.66H461.4V1608.17H464.4V1608.45H466.2V1607.59H468.6V1608.7ZM471.6 1608.7V1603.7H474V1607.11H475.8V1608.05H477.6V1607.71H479.4V1608.02H481.8V1604.7H484.8V1607.48H485.4V1608.11H487.8V1607.91H490.2V1607.36H491.4V1607.72H494.4V1607.15H496.2V1607.53H498V1608.37H499.8V1608.01H502.2V1608.38H505.2V1608.7ZM506.4 1608.7V1607.93H508.8V1607.16H510.6V1607.72H513.6V1608.7ZM517.8 1608.7V1608.42H519.6V1607.54H522V1607.19H523.2V1608.35H525.6V1608.02H527.4V1607.61H529.8V1607.97H532.8V1607.71H534.6V1608.7ZM537 1608.7V1607.14H538.8V1607.09H541.2V1608.7ZM547.8 1608.7V1607.85H550.2V1607.64H552.6V1608.7ZM555 1608.7V1607.98H558V1607.63H561V1607.28H563.4V1607.08H566.4V1608.24H567V1605.7H568.8V1607.89H570.6V1608.7ZM573 1608.7V1607.89H574.8V1607.14H577.2V1607.05H579.6V1607.21H582.6V1608.14H585V1608.7ZM586.8 1608.7V1607.35H589.2V1607.41H591V1608.7ZM592.8 1608.7V1607.41H594.6V1608.04H597V1607.54H598.2V1607.46H600.6V1608.7ZM603 1608.7V1607.93H606V1607.14H607.8V1607.23H609.6V1608.43H611.4V1604.7H613.8V1608.7ZM614.4 1608.7V1607.09H617.4V1608.7ZM619.8 1608.7V1608.44H624V1607.53H626.4V1608.7ZM628.8 1608.7V1608.18H631.2V1607.07H633.6V1607.25H636V1608.41H636.6V1604.7H640.2V1608.7ZM642.6 1608.7V1608.44H644.4V1608.7ZM646.8 1608.7V1607.49H648.6V1608.7ZM651 1608.7V1608.17H654V1608.7ZM656.4 1608.7V1608.23H658.2V1607.79H658.8V1608.7Z" fill="#ff9d0a"/>
<line x1="123" y1="1608.7" x2="659" y2="1608.7" stroke="#8a8a8a" stroke-width="1" />
<path d="M124.8 1649.3V1648.5H127.8V1649.3ZM138 1649.3V1648H142.2V1649.3ZM151.2 1649.3V1648.1H154.8V1649.3ZM156 1649.3V1646.3H157.8V1643.3H160.2V1641.3H162.6V1644.3H164.4V1635.3H166.2V1624.3H167.4V1618.3H169.8V1622.3H171V1629.3H172.2V1636.3H174V1641.3H175.8V1644.3H178.2V1641.3H179.4V1637.8H181.8V1640.8H184.2V1644.3H186V1646.8H189V1647.8H192V1648.3H193.8V1649.3ZM194.4 1649.3V1646.8H196.2V1645.3H200.4V1647.3H201.6V1649.3ZM240 1649.3V1648.1H241.8V1646.5H244.8V1647.8H247.2V1649.3ZM252 1649.3V1647.8H255V1649.3ZM256.2 1649.3V1646.3H261.6V1648.1H264V1649.3ZM265.8 1649.3V1648.1H270V1649.3ZM280.2 1649.3V1646.8H283.2V1645.3H286.2V1649.3ZM456 1649.3V1648.1H460.2V1647.1H463.8V1649.3ZM469.2 1649.3V1648.1H471V1649.3ZM488.4 1649.3V1643.3H490.2V1641.3H496.2V1642.8H499.8V1647.3H501V1649.3Z" fill="#ff00ff"/>
<line x1="123" y1="1649.3" x2="659" y2="1649.3" stroke="#111" stroke-width="0.9" />
<path d="M126 1691.2V1690.4H130.8V1691.2ZM135 1691.2V1689.6H138V1688.7H142.8V1690H147V1691.2ZM151.2 1691.2V1689.6H154.8V1691.2ZM157.8 1691.2V1688.2H160.2V1686.7H163.2V1688.7H164.4V1676.7H166.2V1674.2H170.4V1678.7H172.2V1683.7H173.4V1687.7H175.8V1690H178.8V1691.2ZM179.4 1691.2V1688.4H184.2V1689.7H187.2V1691.2ZM196.2 1691.2V1689.2H199.8V1691.2ZM205.8 1691.2V1690.4H210V1691.2ZM214.2 1691.2V1690.4H217.8V1691.2ZM225 1691.2V1690.4H229.8V1691.2ZM256.8 1691.2V1690.4H262.2V1691.2ZM279.6 1691.2V1688.4H286.2V1691.2ZM345 1691.2V1690.5H348V1691.2ZM412.8 1691.2V1690.3H415.2V1691.2ZM490.2 1691.2V1690H498V1691.2ZM583.8 1691.2V1690.3H586.2V1691.2Z" fill="#ff9d0a"/>
<line x1="123" y1="1691.2" x2="659" y2="1691.2" stroke="#111" stroke-width="0.9" />
<path d="M123 1732.3V1729.37H124.5V1728.24H126.01V1728.04H127.68V1727.78H129.47V1728.04H131.08V1727.93H132.73V1728.26H133.98V1727.94H135.31V1727.04H136.93V1726.53H138.22V1727.34H140.06V1726.13H141.18V1726.49H142.38V1726.36H143.61V1726.16H144.92V1726.78H146.37V1725.05H147.7V1726.52H149.39V1726.7H150.92V1724.41H152.74V1724.81H154.63V1723.17H155.93V1724.87H157.43V1724.37H158.66V1722.17H160.01V1724.51H161.39V1722.07H163.09V1724.5H164.56V1716.35H166.36V1716.12H168.2V1719.24H169.41V1719.38H170.85V1724.18H171.95V1724.82H173.49V1728.13H174.87V1729.49H176.63V1731.05H178.18V1730.92H179.57V1731.31H180.84V1731.32H181.91V1730.95H183.03V1730.61H184.12V1729.12H185.74V1727.64H186.98V1725.97H188.68V1725.71H190.02V1724.94H191.52V1724.57H193.32V1720.95H195.07V1721.34H196.75V1723.1H198V1719.88H199.55V1719.81H201.35V1719.52H202.66V1723.11H204.52V1719.76H205.58V1722.26H207.08V1719.79H208.4V1720.85H209.71V1722.91H211.07V1722.79H212.71V1722.97H213.77V1722.83H215.31V1724.34H217.24V1723.16H218.75V1723.94H220.57V1722.65H221.66V1724.22H223.33V1722.14H224.57V1721.81H225.9V1723.77H226.98V1723.32H228.26V1726.77H229.33V1726.43H230.99V1726.42H232.87V1726.08H234.71V1726.59H236.2V1727.31H237.9V1724.98H239.52V1726.02H241.01V1722.88H242.55V1722.1H244.19V1722.57H245.82V1723.8H247.32V1720.6H248.9V1721.51H250.65V1720.98H252.51V1720.02H253.6V1719.36H254.95V1719.5H256.23V1718.01H257.32V1718.71H258.68V1716.89H260.19V1717.06H261.57V1720.65H263.07V1721.01H264.42V1719.55H266.16V1719.13H267.69V1721.2H268.93V1720.54H270.44V1722.5H271.89V1719.49H273.58V1722.63H274.74V1722.16H276.42V1719.47H278.36V1721.14H279.48V1721.21H280.74V1721.33H282.6V1722.51H283.79V1724.68H285.51V1725.11H287.18V1724.5H288.53V1724.36H290.33V1723.39H291.85V1724.19H293.26V1725.68H294.93V1725.48H296.6V1726.38H297.98V1728.42H299.51V1729.1H300.85V1729.41H302.8V1729.87H304.21V1730.29H305.28V1729.79H306.49V1730.41H308.24V1730.16H309.3V1730.35H310.63V1730.79H311.92V1731.16H313.79V1731.11H315.32V1731.61H316.47V1731.7H318.35V1731.78H319.74V1731.73H321.54V1731.46H323.44V1731.46H324.92V1731.35H326.39V1731.39H328.01V1731.33H329.69V1731.26H331.47V1731.16H333.25V1731.49H334.63V1731.51H336.17V1731.73H338.08V1728.97H339.99V1726.79H341.24V1726.18H343.04V1726.08H344.1V1726.12H345.99V1727.37H347.75V1729.03H349.44V1730.81H350.89V1730.94H352.2V1731.24H353.52V1731.52H354.83V1731.43H355.89V1731.4H357.47V1731.23H359.24V1731.07H360.51V1730.96H362.26V1731.07H363.64V1730.7H365.25V1730.62H367.1V1730.52H368.4V1730.88H369.6V1729.87H371.24V1728.33H372.83V1726.93H374.26V1727.11H375.91V1726.88H377.15V1725.78H378.29V1725.75H379.99V1726.44H381.7V1727.02H383.64V1726.37H384.99V1725.48H386.66V1725.48H387.91V1725.11H389.58V1726.02H390.88V1726.79H391.98V1725.31H393.28V1725.26H395.05V1726.2H396.62V1725.82H398V1726.54H399.91V1725.05H401.5V1725.59H402.71V1725.37H403.9V1726.83H405.53V1726.74H406.78V1724.84H408.4V1726.12H409.93V1726.65H411.01V1725.08H412.85V1724.2H414.56V1726.04H416.05V1725.58H417.63V1724.07H419.13V1724.2H420.45V1724.93H421.73V1724.21H423.48V1725.25H424.95V1725.46H426.84V1724.93H428.73V1725.91H430.29V1725.73H431.69V1724.41H433.01V1724.58H434.82V1723.19H436.45V1723.63H438V1721.58H439.31V1724.03H441.13V1722.07H442.72V1721.6H444.15V1723.43H445.29V1723.19H446.52V1723.67H447.91V1723.06H449.7V1724.22H451.63V1724.83H453.06V1725.28H454.11V1724.42H455.31V1725.48H457.04V1726.44H458.19V1726.55H459.85V1725.4H461.34V1724.78H462.89V1725.52H464.04V1724.78H465.43V1725.67H466.92V1724.19H468.52V1725.39H470.17V1725.3H471.91V1723.51H473.28V1725.05H475.03V1725.49H476.41V1724.2H478.11V1725.19H479.94V1724.78H481.63V1723.85H483.39V1723.71H485.33V1723.43H486.55V1720.17H488.06V1717.07H489.28V1716.08H490.63V1717.25H491.99V1719.74H493.79V1720.02H495.29V1720.27H496.4V1722.62H498.22V1721.48H500.03V1719.88H501.76V1721.6H503.45V1726.15H505.18V1725.5H506.67V1725.29H507.88V1726.55H509.41V1726.82H510.78V1727.1H512.25V1726.87H513.91V1727.09H515.16V1726.64H516.66V1725.99H518.33V1725.53H520.15V1726.76H521.53V1726.71H522.9V1726.11H524.7V1726.3H526.31V1727.44H527.48V1726.77H528.87V1726.98H530.82V1726.91H532.2V1725.88H533.54V1726.5H534.99V1725.66H536.91V1726.8H538.59V1724.75H540.44V1724.98H542.23V1724.22H544.18V1722.8H545.88V1724.23H546.97V1723.11H548.8V1722.15H550V1724.22H551.66V1721.04H553.01V1720.94H554.06V1722.63H555.76V1724.32H556.94V1724.15H558V1723.62H559.7V1723.81H561.26V1725.18H563.01V1724.19H564.95V1726.24H566.59V1725.19H568.05V1726.96H569.98V1726.29H571.08V1727.79H572.26V1726.74H573.52V1726.31H574.65V1726.19H576.08V1726.53H577.77V1726.39H579.21V1726.37H580.84V1725.97H582.7V1726.3H584.33V1726.85H585.81V1725.95H587.38V1727H589.07V1725.73H590.42V1726.57H591.94V1725.59H593.11V1726.08H594.5V1726.14H596.03V1726.75H597.2V1727.05H598.61V1726.93H600.02V1728.61H601.27V1727.51H603V1728.25H604.74V1728.74H606V1727.61H607.65V1728.36H609.56V1727.85H611.02V1728.28H612.66V1728.12H613.79V1728.88H615.28V1729.25H616.97V1728.18H618.58V1728.92H620.47V1729.1H621.71V1729.16H623.14V1729.12H625.08V1729.34H626.65V1729.69H628.27V1730.27H630.13V1730.44H631.27V1730.62H632.92V1730.93H634.01V1730.85H635.61V1730.33H636.97V1730.64H638.31V1730.15H639.76V1730.19H641.06V1730.37H642.85V1730.17H644.33V1729.9H645.75V1730.04H647.64V1729.72H649.03V1728.98H650.75V1728.33H652.05V1728.59H653.6V1728.47H654.76V1728.49H655.86V1728.34H656.92V1727.87H658.72V1727.58H659V1732.3Z" fill="#ff00ff"/>
<line x1="123" y1="1732.3" x2="659" y2="1732.3" stroke="#111" stroke-width="0.9" />
<path d="M123 1773.5V1770.88H124.81V1770.54H126.76V1769.71H128.54V1770H129.87V1769.14H131.49V1769.62H132.8V1769.38H134.68V1770.24H136.29V1769.37H137.73V1769.83H139.2V1769.66H140.91V1769.27H142.84V1769.6H144.14V1770.2H145.53V1769.28H147.03V1768.36H148.52V1768.73H150.1V1768.14H151.72V1768.4H153.23V1768.12H154.32V1768.35H156.19V1767.29H157.64V1767.29H158.73V1761.66H160.65V1764.14H162.31V1761.47H163.37V1758.54H165.11V1758.3H166.54V1758.63H167.89V1755.07H169.23V1754.82H170.75V1765.42H172.09V1767.37H173.36V1769.07H174.49V1770.68H176.35V1771.76H178.02V1771.72H179.85V1771.68H181.44V1771.5H182.66V1771.95H184.2V1771.43H186.14V1769.37H187.55V1769.04H188.6V1768.73H189.99V1768.1H191.91V1767.34H193.56V1767.93H194.93V1766.74H196.45V1767.11H198.12V1766.8H199.97V1764.92H201.62V1765.99H202.75V1767.37H204.31V1766.97H205.48V1765.56H206.58V1767.04H208.35V1766.71H209.97V1766.46H211.32V1766.96H212.76V1767.14H214.37V1767.66H215.89V1768.35H217.55V1766.58H219.29V1768.43H220.75V1767.39H222.27V1767.55H223.89V1765.28H225.58V1765.68H227.19V1767.44H228.34V1767.17H229.8V1766.03H231.43V1766.99H232.91V1768.62H234.25V1767.55H235.83V1768.76H237.07V1769.66H238.87V1769.14H240.36V1766.94H241.62V1768.34H242.97V1768.36H244.25V1766.42H245.89V1767.07H247.49V1767.76H249.05V1767.5H250.16V1767.17H251.76V1767.42H253.65V1767.04H254.8V1765.48H255.95V1764.02H257.29V1766.06H258.83V1765.73H260.71V1764.97H261.98V1764.07H263.92V1764.05H265.09V1764.81H266.17V1761.73H267.78V1761.08H269.08V1761.67H270.65V1763.29H272.06V1761.76H273.62V1764.09H275.51V1765.17H276.93V1763.94H278.14V1762.1H279.56V1763.05H281.4V1761.91H283.32V1763.77H284.74V1761.73H285.91V1765.21H287.46V1766.16H289.32V1767.27H291.06V1767.38H293V1768.83H294.28V1768.66H295.63V1769.38H297.42V1769.44H299.21V1769.16H300.73V1770.25H301.81V1769.39H303.5V1769.24H305.29V1769.97H306.46V1770.81H307.84V1771.03H309.04V1771.78H310.23V1772.39H311.4V1772.91H312.48V1772.95H313.97V1772.87H315.18V1772.98H316.39V1772.86H318.25V1773.01H319.7V1773.04H320.97V1772.89H322.07V1773H323.63V1772.97H325.29V1772.98H327.24V1772.95H328.88V1772.89H330.55V1773H331.75V1772.93H332.83V1772.94H334.26V1773.05H335.51V1772.92H336.86V1771.23H338.56V1770.08H339.84V1769.8H340.94V1768.87H342.24V1769.96H343.89V1768.75H345.31V1769.74H347.21V1770.33H348.35V1771.72H350.01V1772.35H351.73V1772.33H353.56V1772.15H354.94V1772.15H356.07V1772H357.61V1771.66H359.32V1771.23H360.74V1770.93H362.4V1771.28H363.78V1771.25H365.29V1771.13H366.65V1770.93H368.45V1771.24H370.36V1771.51H372.31V1771.18H373.37V1770.94H374.62V1770.66H376.14V1771.01H377.84V1771.08H379.34V1770.85H380.49V1770.52H382.37V1771.35H383.51V1771.02H385.38V1771.24H386.81V1770.81H387.96V1770.98H389.4V1770.68H391.16V1770.41H392.22V1770.88H393.92V1770.4H395.25V1770.96H396.46V1770.24H398.36V1768.9H400.18V1769H401.37V1767.92H403.1V1768.09H404.29V1767.11H406V1767.94H407.82V1768.36H408.95V1768.01H410.28V1768.14H411.98V1767.57H413.12V1767.86H414.6V1767.56H416.33V1765.77H417.92V1765.15H419.46V1767.66H420.59V1767.56H421.65V1767.37H422.82V1769.34H424.25V1768.05H425.36V1767.51H426.75V1767.6H428.21V1766.47H429.74V1767.11H430.84V1768.58H432.05V1768.99H433.6V1766.87H435.43V1768.18H436.55V1767.71H437.86V1766.48H439.32V1767.11H440.38V1767.09H442.31V1767.32H443.84V1767.75H445.41V1767.64H447.28V1767.36H448.61V1765.83H449.67V1766.85H451.43V1766.15H453.18V1765.7H455.08V1765.39H456.41V1766.35H457.98V1766.87H459.2V1766.85H460.35V1767.38H462.29V1767.86H463.81V1767.36H465.53V1767.87H467.29V1768.22H468.91V1767.54H470.6V1768.11H472.36V1768.88H474.22V1768.75H475.9V1767.36H477.37V1768.99H478.65V1768.9H479.93V1769.51H481.53V1769.84H482.83V1769.64H484.13V1768.93H485.71V1766.92H487.28V1762.77H488.53V1761.27H489.78V1759.64H491.7V1763.37H493.3V1764.14H494.55V1763.65H495.8V1762.8H497.34V1763.92H498.53V1763.94H499.73V1764.12H501.17V1763.99H502.84V1765.51H504.75V1768.32H506.13V1768.63H507.32V1768.88H509.04V1768.03H510.78V1769.55H512.15V1769.56H513.69V1768.98H515.02V1769.26H516.24V1769.17H517.58V1769.85H519.49V1769.98H520.88V1770.79H522.2V1770.69H523.29V1771.67H524.38V1771.88H525.59V1771.51H527.12V1771.46H528.9V1771.16H530.02V1771.27H531.39V1770.63H532.92V1770.7H534.54V1770.97H535.93V1771.19H537.37V1771.17H539.32V1771.53H540.8V1771.37H542.21V1771.88H543.86V1771.47H545V1771.1H546.32V1768.96H547.68V1766.8H549.51V1767.77H550.58V1765.02H552.12V1763.42H553.48V1765.45H554.63V1765.63H556.57V1765.94H557.86V1766.9H559.05V1768.89H560.38V1770.63H561.9V1771.93H563.06V1771.24H564.58V1770.73H565.94V1771.18H567.3V1770.68H569.23V1770.09H570.93V1770.29H572.74V1770.16H574V1769.03H575.67V1768.55H577.11V1768.4H578.41V1767.88H579.64V1767.68H581.59V1768.6H583.53V1769.11H585.48V1767.49H587.43V1769.32H588.71V1768.71H589.84V1768.39H591.72V1769.03H593.64V1769.08H595.23V1768.64H596.96V1769.91H598.85V1770.2H600.66V1769.37H601.72V1769.55H603.01V1770.41H604.14V1770.28H605.35V1770.35H606.57V1769.29H608.03V1770.05H609.37V1768.96H611.31V1769.76H612.71V1769.36H614.12V1769.36H616.02V1769.83H617.54V1769.81H619.19V1771.12H620.82V1771.3H622.74V1771.95H623.93V1771.77H625.52V1771.75H626.58V1771.77H628.07V1771.91H629.74V1771.77H631.37V1771.69H632.7V1772.01H634.13V1771.72H635.46V1771.58H637.38V1772.07H638.56V1771.54H640.38V1772.11H641.58V1771.64H643.37V1771.98H645.15V1771.93H646.24V1771.9H647.53V1771.99H648.94V1771.83H650.13V1771.58H651.75V1771.31H653.04V1771.26H654.52V1771.29H655.64V1770.22H657.05V1770.41H658.97V1770.23H659V1773.5Z" fill="#ff9d0a"/>
<line x1="123" y1="1773.5" x2="659" y2="1773.5" stroke="#111" stroke-width="0.9" />
<path d="M123.99 1814.6V1802.71H125.85V1803.8H126.75V1814.6ZM130.42 1814.6V1808.6H131.89V1814.6ZM135.01 1814.6V1814H145.11V1814.6ZM202.06 1814.6V1813.1H205.73V1809.79H207.72V1809.83H208.49V1814.6ZM211.24 1814.6V1813.1H216.75V1814.6ZM218.59 1814.6V1802.6H220.43V1814.6ZM225.94 1814.6V1796.6H227.77V1814.6ZM234.2 1814.6V1796.6H236.04V1814.6ZM242.47 1814.6V1807.09H243.95V1806.95H244.67V1802.24H245.98V1801.02H247.06V1796.6H248.9V1814.6ZM253.49 1814.6V1798.6H255.33V1806.08H257.32V1806.52H258.08V1810.02H259.91V1810.02H261.57V1809.91H261.76V1801.24H263.76V1799.84H264.51V1797.6H266.35V1796.96H267.82V1794.73H268.55V1814.6ZM276.45 1814.6V1790.6H278.29V1814.6ZM280.12 1814.6V1813.4H286.55V1808.6H288.39V1814.6ZM301.25 1814.6V1791.56H303V1790.8H304V1788.2H306.09V1789.31H306.39V1792.05H307.83V1791.8H308.6V1814.6ZM320.54 1814.6V1789.87H322.45V1787.56H324.21V1814.6ZM327.88 1814.6V1786.6H329.72V1814.6ZM330.64 1814.6V1794.06H332.07V1794.4H333.39V1814.6ZM335.23 1814.6V1785.6H337.07V1814.6ZM340 1814.6V1794.27H341.88V1792.6H342.03V1794.74H342.91V1795.6H343.5V1804.3H344.5V1803.07H346.11V1803.64H346.23V1802.65H347.17V1803.64H347.65V1803.14H347.75V1814.6ZM351.63 1814.6V1790.04H353V1789.19H354.54V1814.6ZM357.45 1814.6V1789.9H358.86V1790.67H360.47V1788.25H361.33V1814.6ZM368.11 1814.6V1786.37H369.91V1786.77H371.02V1788.73H372.46V1789.47H373.79V1789.4H374.9V1814.6ZM380.33 1814.6V1809.18H381.87V1809.23H382.65V1814.6ZM386.53 1814.6V1804.34H388.04V1804.26H389.44V1814.6ZM391.38 1814.6V1791.34H393.46V1792.2H394.28V1814.6ZM397.19 1814.6V1794.33H399.13V1793.33H400.87V1794.39H401.07V1814.6ZM404.95 1814.6V1793.27H406.89V1791.8H408.92V1790.36H409.79V1814.6ZM411.73 1814.6V1788.15H413.18V1785.09H414.64V1790.12H416.66V1789.6H417.55V1814.6ZM419.49 1814.6V1787.46H421.43V1803.55H423.41V1803.04H424.34V1814.6ZM425.3 1814.6V1796.34H426.76V1797.53H427.63V1814.6ZM431.12 1814.6V1798.18H433.05V1797.73H434.03V1788.03H436.02V1785.66H437.57V1788.05H438.88V1814.6ZM440.81 1814.6V1789.12H442.37V1790.65H443.14V1814.6ZM446.24 1814.6V1790.37H447.83V1791.73H448.96V1803.1H450.81V1804.19H452.06V1814.6ZM453.42 1814.6V1791.34H455.35V1795.52H457.01V1796.3H457.88V1814.6ZM464.08 1814.6V1797.94H465.47V1798.29H466.99V1792.2H468.75V1794.04H470.31V1793.57H470.86V1803.54H472.59V1803.19H473.77V1814.6ZM481.53 1814.6V1791.29H482.83V1788.74H483.85V1814.6ZM485.79 1814.6V1794.24H487.34V1814.6ZM491.22 1814.6V1808.62H493.22V1808.06H493.55V1814.6ZM496.07 1814.6V1806.04H497.97V1805.7H498.59V1814.6ZM501.3 1814.6V1798.54H503.26V1798.45H503.82V1814.6ZM505.76 1814.6V1802.33H507.32V1801.86H508.28V1814.6ZM509.06 1814.6V1794.61H510.55V1795.13H512.57V1794.29H514.21V1796.57H514.49V1791.33H516.24V1790.01H517.8V1789.43H518.36V1789.21H520.1V1787.81H522.02V1787.58H523.21V1814.6ZM527.09 1814.6V1789.4H529.03V1814.6ZM533.87 1814.6V1787.46H535.81V1814.6ZM539.69 1814.6V1788.43H541.63V1814.6ZM561.99 1814.6V1785.52H563.92V1814.6ZM564.89 1814.6V1788.13H566.63V1788.89H568.49V1789.77H568.77V1787.17H570.24V1786.29H571.71V1785.8H573.08V1786.87H575.13V1786.58H577.14V1783.69H578.46V1786.61H580.38V1788.89H582.02V1787.95H582.34V1814.6ZM585.25 1814.6V1787.79H586.8V1786.07H587.77V1814.6ZM589.13 1814.6V1788.88H590.52V1785.95H592.46V1787.84H593.97V1814.6ZM595.91 1814.6V1786.49H597.85V1814.6ZM598.82 1814.6V1786.29H600.87V1786.79H602.66V1786.06H604.64V1814.6ZM607.55 1814.6V1788.13H609.63V1785.82H611.61V1785.47H613.36V1814.6ZM614.33 1814.6V1787.24H615.95V1786.08H617.24V1814.6ZM619.18 1814.6V1783.63H620.56V1787.2H622.54V1784.49H624.08V1786.08H625.41V1784.65H625.96V1789.18H627.78V1788.64H628.87V1791.05H630.35V1792.95H631.89V1791.07H632.75V1814.6ZM635.66 1814.6V1788.32H636.97V1788.31H638.42V1785.6H639.53V1814.6ZM650.2 1814.6V1790.9H651.88V1789.6H653.63V1789.85H654.08V1789.33H655.53V1788.11H656.95V1788.79H658.67V1787.97H658.92V1814.6Z" fill="#ff00ff"/>
<line x1="123" y1="1814.6" x2="659" y2="1814.6" stroke="#111" stroke-width="0.9" />
<path d="M123.99 1856.1V1844.6H125.46V1846.1H126.75V1856.1ZM127.66 1856.1V1855.3H132.26V1856.1ZM135.01 1856.1V1855.5H141.44V1856.1ZM202.06 1856.1V1854.9H205.73V1848.21H207.07V1848.26H208.49V1856.1ZM214 1856.1V1852.1H216.39V1856.1ZM218.59 1856.1V1833.1H220.43V1856.1ZM225.94 1856.1V1829.1H227.77V1856.1ZM234.2 1856.1V1834.1H236.04V1856.1ZM242.47 1856.1V1831.73H243.78V1832.13H245.22V1828.1H247.06V1832.1H248.9V1856.1ZM253.49 1856.1V1836.27H255.24V1837.29H256.71V1836.96H257.16V1846.33H259.05V1846.4H261.09V1846.53H261.76V1856.1ZM262.67 1856.1V1832.33H264.06V1832.61H265.43V1830.61H267.46V1831.09H268.19V1856.1ZM276.45 1856.1V1836.1H278.29V1856.1ZM286.55 1856.1V1844.1H288.39V1856.1ZM301.25 1856.1V1826.1H303.09V1830.64H304.51V1831.1H306.25V1830.53H306.39V1829.76H308.49V1829.61H308.6V1856.1ZM320.54 1856.1V1828.77H322.56V1828.57H324.21V1856.1ZM327.88 1856.1V1827.6H329.72V1830.69H331.25V1830.15H332.48V1856.1ZM335.23 1856.1V1827.1H337.07V1856.1ZM340 1856.1V1835.34H341.73V1834.1H342.58V1834.81H342.91V1844.1H344.42V1849.54H344.59V1849.38H345.94V1850.1H347.17V1849.52H347.75V1856.1ZM351.63 1856.1V1830.23H353.52V1829.92H354.54V1856.1ZM357.45 1856.1V1827.32H358.81V1828.53H360.33V1828.48H361.33V1856.1ZM368.11 1856.1V1826.19H369.86V1826.24H371.02V1833.21H372.58V1833H374.16V1833.73H374.9V1856.1ZM380.33 1856.1V1847.73H381.97V1847.57H382.65V1856.1ZM386.53 1856.1V1844.25H387.94V1843.97H389.44V1856.1ZM391.38 1856.1V1830.18H393.21V1830.21H394.28V1856.1ZM397.19 1856.1V1831.37H398.73V1831.49H400.28V1830.93H401.07V1856.1ZM404.95 1856.1V1839.62H406.89V1844.97H408.72V1844.82H409.79V1856.1ZM411.73 1856.1V1826.64H413.61V1826.89H414.64V1835.07H416.32V1835.15H417.55V1856.1ZM419.49 1856.1V1827.02H421.43V1839.93H423.13V1839.78H424.34V1856.1ZM425.3 1856.1V1827.62H426.77V1827.52H427.63V1856.1ZM431.12 1856.1V1827.26H432.76V1827.06H434.03V1827.37H435.89V1827.75H437.49V1826.5H438.88V1856.1ZM440.81 1856.1V1829.3H442.44V1829.54H443.14V1856.1ZM446.24 1856.1V1834.08H448.3V1833.35H448.96V1835.73H450.79V1835.84H452.06V1856.1ZM453.42 1856.1V1831.87H455.35V1834.16H456.81V1834.46H457.88V1856.1ZM464.08 1856.1V1836.78H465.43V1837.01H466.99V1834.11H468.68V1834.43H470.1V1834.22H470.86V1839.55H472.74V1838.69H473.77V1856.1ZM481.53 1856.1V1828.44H483.5V1829.11H483.85V1856.1ZM485.79 1856.1V1827.02H487.34V1856.1ZM491.22 1856.1V1835.81H492.61V1836.18H493.55V1856.1ZM496.07 1856.1V1833.18H497.72V1833.23H498.59V1856.1ZM501.3 1856.1V1831.15H502.77V1830.55H503.82V1856.1ZM505.76 1856.1V1838.76H507.36V1838.12H508.28V1856.1ZM509.06 1856.1V1835.12H510.97V1834.71H512.64V1834.6H514.06V1834.16H514.49V1830.22H516.44V1831.17H518.04V1830.31H518.36V1828.65H520.03V1828.41H521.85V1829.57H523.21V1856.1ZM527.09 1856.1V1826.05H529.03V1856.1ZM533.87 1856.1V1826.05H535.81V1856.1ZM539.69 1856.1V1824.11H541.63V1856.1ZM561.99 1856.1V1828.96H563.92V1856.1ZM564.89 1856.1V1826.95H566.53V1827.49H568.02V1826.62H568.77V1825.76H570.13V1825.31H571.84V1825.73H573.9V1826.7H575.67V1825.96H577.39V1825.37H578.46V1826.96H579.82V1827.17H581.19V1827.61H582.34V1856.1ZM585.25 1856.1V1827.14H586.61V1826.97H587.77V1856.1ZM589.13 1856.1V1827.14H590.52V1827.62H591.94V1826.16H593.37V1826.12H593.97V1856.1ZM595.91 1856.1V1830.9H597.85V1856.1ZM598.82 1856.1V1827.02H600.9V1828.32H602.24V1827.91H603.66V1828.16H604.64V1856.1ZM607.55 1856.1V1826.98H609.58V1826.19H611.3V1826.18H613.27V1826.97H613.36V1856.1ZM614.33 1856.1V1825.62H616.37V1825.97H617.24V1856.1ZM619.18 1856.1V1824.67H620.9V1825.82H622.47V1825.06H624.54V1824.47H625.96V1827.28H627.73V1827.26H628.87V1829.25H630.19V1829.47H631.88V1830H632.75V1856.1ZM635.66 1856.1V1827.75H637.76V1827.78H639.53V1856.1ZM650.2 1856.1V1827.55H652.2V1828.76H654.08V1831.74H656.14V1831.61H658.04V1831.69H658.92V1856.1Z" fill="#ff9d0a"/>
<line x1="123" y1="1856.1" x2="659" y2="1856.1" stroke="#111" stroke-width="0.9" />
<rect x="486.5" y="1608.4" width="15.9" height="82.9" fill="none" stroke="#111" stroke-width="1.3"/>
<rect x="240.3" y="1773.2" width="13.1" height="82.2" fill="none" stroke="#000" stroke-width="2.1"/>
<rect x="488.4" y="1773.2" width="12" height="82.6" fill="none" stroke="#111" stroke-width="1.2"/>
<line x1="254.4" y1="1772.3" x2="671.5" y2="1690.3" stroke="#000" stroke-width="2.1" stroke-dasharray="2.1 2.3"/>
<line x1="254.4" y1="1855.9" x2="671.5" y2="1855.9" stroke="#000" stroke-width="2.1" stroke-dasharray="2.1 2.3"/>
<rect x="671.7" y="1690.4" width="25" height="165.2" fill="#fff" stroke="#000" stroke-width="2.1"/>
<line x1="672.7" y1="1772.8" x2="695.7" y2="1772.8" stroke="#555" stroke-width="0.9" />
<path d="M678.3 1772.6V1754.8H682.2V1748H687V1734H691.9V1772.6Z" fill="#ff00ff"/>
<path d="M678.3 1854.8V1804.4H682.2V1798.2H687V1808.3H691.9V1854.8Z" fill="#ff9d0a"/>
<line x1="180" y1="1869" x2="603" y2="1869" stroke="#111" stroke-width="1.3" />
<rect x="179.5" y="1862.1" width="12.8" height="13.8" fill="#000"/>
<rect x="338.5" y="1862.1" width="5" height="13.8" fill="#000"/>
<rect x="467" y="1862.1" width="6.8" height="13.8" fill="#000"/>
<rect x="590.1" y="1862.1" width="13.9" height="13.8" fill="#000"/>
<path d="M206.5 1866.8l2.3 2.2l-2.3 2.2M239.9 1866.8l2.3 2.2l-2.3 2.2M273.5 1866.8l2.3 2.2l-2.3 2.2M308 1866.8l2.3 2.2l-2.3 2.2M357.3 1866.8l2.3 2.2l-2.3 2.2M390.9 1866.8l2.3 2.2l-2.3 2.2M425.2 1866.8l2.3 2.2l-2.3 2.2M458.7 1866.8l2.3 2.2l-2.3 2.2M488.2 1866.8l2.3 2.2l-2.3 2.2M522.1 1866.8l2.3 2.2l-2.3 2.2M555.7 1866.8l2.3 2.2l-2.3 2.2" fill="none" stroke="#111" stroke-width="1.1"/>
<text x="345" y="1909.1" font-size="27" font-style="italic" stroke="#000" stroke-width="0.32">Dusp5</text>
</g>
<g id="panelF">
<text x="738.6" y="1098.6" font-size="48" font-weight="bold" stroke="#000" stroke-width="0.19">F</text>
<text x="783.6" y="1203" font-size="27.2" text-anchor="middle" stroke="#000" stroke-width="0.33" transform="rotate(-90 783.6 1203)">CA1</text>
<text x="783.6" y="1369" font-size="27.2" text-anchor="middle" stroke="#000" stroke-width="0.33" transform="rotate(-90 783.6 1369)">DG</text>
<text x="783.6" y="1613.5" font-size="27.2" text-anchor="middle" stroke="#000" stroke-width="0.33" transform="rotate(-90 783.6 1613.5)">CA1</text>
<text x="783.6" y="1779.5" font-size="27.2" text-anchor="middle" stroke="#000" stroke-width="0.33" transform="rotate(-90 783.6 1779.5)">DG</text>
<g clip-path="url(#c00)"><rect x="795" y="1120.2" width="393" height="161.3" fill="#060606"/>
<rect x="795" y="1120.2" width="393" height="161.3" filter="url(#f1)"/>
<g mask="url(#m2)" opacity="0.92"><g filter="url(#f4)"><rect x="795" y="1120.2" width="453" height="221.3" fill="url(#pc)" transform="translate(0 0)"/></g></g>
<path d="M765 1184.2C770 1184.2 781.67 1184.7 795 1184.2C808.33 1183.7 828.33 1182.2 845 1181.2C861.67 1180.2 878.33 1179.53 895 1178.2C911.67 1176.87 928.33 1174.7 945 1173.2C961.67 1171.7 970 1169.7 995 1169.2C1020 1168.7 1062.83 1170.2 1095 1170.2C1127.17 1170.2 1167.5 1169.37 1188 1169.2C1208.5 1169.03 1213 1169.2 1218 1169.2L1218 1220.2C1213 1220.2 1208.5 1220.53 1188 1220.2C1167.5 1219.87 1127.17 1218.2 1095 1218.2C1062.83 1218.2 1028.33 1219.2 995 1220.2C961.67 1221.2 920 1222.53 895 1224.2C870 1225.87 861.67 1228.37 845 1230.2C828.33 1232.03 808.33 1234.37 795 1235.2C781.67 1236.03 770 1235.2 765 1235.2Z" fill="#000" fill-opacity="1" filter="url(#f5)" style="mix-blend-mode:screen"/>
<g fill="#d8d8d8"><ellipse cx="1067.34" cy="1146.81" rx="2.56" ry="1.96" fill-opacity="0.59" transform="rotate(167.81 1067.34 1146.81)"/><ellipse cx="839.24" cy="1149.2" rx="3.3" ry="1.86" fill-opacity="0.67" transform="rotate(0.25 839.24 1149.2)"/><ellipse cx="1028.01" cy="1159.76" rx="2.72" ry="2.19" fill-opacity="0.35" transform="rotate(26.82 1028.01 1159.76)"/><ellipse cx="1008.23" cy="1123.04" rx="2.4" ry="2.14" fill-opacity="0.39" transform="rotate(65.64 1008.23 1123.04)"/><ellipse cx="896.59" cy="1168.32" rx="2.88" ry="1.76" fill-opacity="0.33" transform="rotate(32.51 896.59 1168.32)"/><ellipse cx="1167.12" cy="1145.02" rx="2.85" ry="1.64" fill-opacity="0.67" transform="rotate(49.65 1167.12 1145.02)"/><ellipse cx="1126.62" cy="1144.62" rx="2.68" ry="2.63" fill-opacity="0.42" transform="rotate(58.1 1126.62 1144.62)"/><ellipse cx="851.16" cy="1146.77" rx="3.24" ry="2.54" fill-opacity="0.45" transform="rotate(147.99 851.16 1146.77)"/><ellipse cx="1064.7" cy="1131" rx="2.86" ry="1.97" fill-opacity="0.64" transform="rotate(54.05 1064.7 1131)"/><ellipse cx="880.33" cy="1147.43" rx="2.76" ry="2.62" fill-opacity="0.46" transform="rotate(41.29 880.33 1147.43)"/><ellipse cx="1073.88" cy="1136.97" rx="3.13" ry="3.1" fill-opacity="0.54" transform="rotate(65.18 1073.88 1136.97)"/><ellipse cx="803.25" cy="1162.25" rx="2.77" ry="2.29" fill-opacity="0.6" transform="rotate(36.96 803.25 1162.25)"/><ellipse cx="1167.86" cy="1150.72" rx="2.57" ry="1.75" fill-opacity="0.66" transform="rotate(97.65 1167.86 1150.72)"/><ellipse cx="1101.1" cy="1144.98" rx="2.97" ry="1.98" fill-opacity="0.47" transform="rotate(100.27 1101.1 1144.98)"/><ellipse cx="1012.08" cy="1124.02" rx="2.49" ry="2.11" fill-opacity="0.4" transform="rotate(77.1 1012.08 1124.02)"/><ellipse cx="1175.53" cy="1123.12" rx="3.34" ry="3.1" fill-opacity="0.69" transform="rotate(0.06 1175.53 1123.12)"/><ellipse cx="1076.82" cy="1133.21" rx="3.09" ry="3" fill-opacity="0.43" transform="rotate(11.62 1076.82 1133.21)"/><ellipse cx="845.31" cy="1165.71" rx="2.53" ry="1.51" fill-opacity="0.68" transform="rotate(16.94 845.31 1165.71)"/><ellipse cx="873.27" cy="1170.6" rx="2.44" ry="1.84" fill-opacity="0.38" transform="rotate(23.62 873.27 1170.6)"/><ellipse cx="866.57" cy="1150.23" rx="2.62" ry="1.84" fill-opacity="0.57" transform="rotate(155.28 866.57 1150.23)"/><ellipse cx="797.55" cy="1135.48" rx="3.01" ry="2.08" fill-opacity="0.35" transform="rotate(16.6 797.55 1135.48)"/><ellipse cx="934.66" cy="1153.2" rx="2.87" ry="1.88" fill-opacity="0.44" transform="rotate(27.55 934.66 1153.2)"/><ellipse cx="1140.73" cy="1232.33" rx="2.47" ry="1.46" fill-opacity="0.31" transform="rotate(100.07 1140.73 1232.33)"/><ellipse cx="915.31" cy="1243.96" rx="2.82" ry="2.1" fill-opacity="0.44" transform="rotate(151.07 915.31 1243.96)"/><ellipse cx="858.71" cy="1269.1" rx="2.62" ry="1.61" fill-opacity="0.73" transform="rotate(3.55 858.71 1269.1)"/><ellipse cx="1056.36" cy="1260.9" rx="2.49" ry="2.3" fill-opacity="0.61" transform="rotate(11.01 1056.36 1260.9)"/><ellipse cx="1121.48" cy="1252.24" rx="2.59" ry="2.56" fill-opacity="0.42" transform="rotate(7.83 1121.48 1252.24)"/><ellipse cx="1036.41" cy="1261.08" rx="2.59" ry="1.74" fill-opacity="0.74" transform="rotate(72.47 1036.41 1261.08)"/><ellipse cx="1185.15" cy="1233.38" rx="3.25" ry="2.37" fill-opacity="0.5" transform="rotate(45.09 1185.15 1233.38)"/><ellipse cx="816.18" cy="1265.93" rx="3.1" ry="2.05" fill-opacity="0.63" transform="rotate(5.63 816.18 1265.93)"/><ellipse cx="1179.47" cy="1235" rx="3.38" ry="2.71" fill-opacity="0.64" transform="rotate(41.99 1179.47 1235)"/><ellipse cx="1096.51" cy="1246.61" rx="2.97" ry="1.93" fill-opacity="0.39" transform="rotate(105.86 1096.51 1246.61)"/><ellipse cx="937.5" cy="1269.37" rx="3.19" ry="2.71" fill-opacity="0.65" transform="rotate(163.3 937.5 1269.37)"/><ellipse cx="1031.04" cy="1262.99" rx="2.53" ry="1.44" fill-opacity="0.64" transform="rotate(43.94 1031.04 1262.99)"/><ellipse cx="1182.62" cy="1239.52" rx="3.38" ry="3.11" fill-opacity="0.54" transform="rotate(29.44 1182.62 1239.52)"/><ellipse cx="898.17" cy="1267.05" rx="2.76" ry="2" fill-opacity="0.43" transform="rotate(102.54 898.17 1267.05)"/><ellipse cx="1106.4" cy="1259.91" rx="2.45" ry="1.97" fill-opacity="0.72" transform="rotate(78.89 1106.4 1259.91)"/><ellipse cx="1170.11" cy="1231.33" rx="3.17" ry="2.63" fill-opacity="0.35" transform="rotate(90.23 1170.11 1231.33)"/><ellipse cx="1146.66" cy="1261.67" rx="3.03" ry="2.98" fill-opacity="0.47" transform="rotate(21.35 1146.66 1261.67)"/><ellipse cx="808.26" cy="1242.85" rx="3.4" ry="2.45" fill-opacity="0.69" transform="rotate(148.6 808.26 1242.85)"/><ellipse cx="1007.17" cy="1271.42" rx="2.61" ry="1.53" fill-opacity="0.34" transform="rotate(36.88 1007.17 1271.42)"/><ellipse cx="1010.26" cy="1243.87" rx="3.39" ry="2.83" fill-opacity="0.63" transform="rotate(168.55 1010.26 1243.87)"/><ellipse cx="1148.01" cy="1277.28" rx="2.79" ry="1.83" fill-opacity="0.73" transform="rotate(14.52 1148.01 1277.28)"/><ellipse cx="888.95" cy="1279.23" rx="3.13" ry="2.87" fill-opacity="0.71" transform="rotate(6.4 888.95 1279.23)"/><ellipse cx="827.5" cy="1270.26" rx="2.43" ry="2.38" fill-opacity="0.37" transform="rotate(10.36 827.5 1270.26)"/><ellipse cx="972.81" cy="1237.25" rx="2.51" ry="1.79" fill-opacity="0.56" transform="rotate(10.36 972.81 1237.25)"/><ellipse cx="1084.83" cy="1254.14" rx="2.97" ry="1.96" fill-opacity="0.58" transform="rotate(84.66 1084.83 1254.14)"/><ellipse cx="1162.01" cy="1255.36" rx="3.38" ry="2.47" fill-opacity="0.63" transform="rotate(108.94 1162.01 1255.36)"/><ellipse cx="835.69" cy="1271.52" rx="3.23" ry="1.95" fill-opacity="0.49" transform="rotate(118.45 835.69 1271.52)"/><ellipse cx="865.95" cy="1239.44" rx="2.54" ry="2.46" fill-opacity="0.63" transform="rotate(148.2 865.95 1239.44)"/><ellipse cx="866.2" cy="1266.36" rx="2.67" ry="2.08" fill-opacity="0.71" transform="rotate(3.84 866.2 1266.36)"/><ellipse cx="930.61" cy="1264.28" rx="2.52" ry="1.61" fill-opacity="0.62" transform="rotate(136.66 930.61 1264.28)"/></g>
<path d="M765 1242.2C770 1242.2 724.5 1244.53 795 1242.2C865.5 1239.87 1117.5 1230.53 1188 1228.2C1258.5 1225.87 1213 1228.2 1218 1228.2L1218 1295.2C1213 1295.2 1258.5 1295.2 1188 1295.2C1117.5 1295.2 865.5 1295.2 795 1295.2C724.5 1295.2 770 1295.2 765 1295.2Z" fill="#fff" fill-opacity="0.03" filter="url(#f6)"/>
<text x="1180.4" y="1146.7" font-size="21.5" text-anchor="end" font-weight="bold" fill="#fff" stroke="#fff" stroke-width="0.09">DAPI</text></g>
<g clip-path="url(#c10)"><rect x="1200.6" y="1120.2" width="393" height="161.3" fill="#1c1c1c"/>
<rect x="1200.6" y="1120.2" width="393" height="161.3" filter="url(#f7)"/>
<path d="M1170.6 1172.2C1175.6 1172.2 1185.6 1172.87 1200.6 1172.2C1215.6 1171.53 1235.6 1167.87 1260.6 1168.2C1285.6 1168.53 1318.93 1172.87 1350.6 1174.2C1382.27 1175.53 1420.6 1176.87 1450.6 1176.2C1480.6 1175.53 1506.77 1171.87 1530.6 1170.2C1554.43 1168.53 1578.1 1166.87 1593.6 1166.2C1609.1 1165.53 1618.6 1166.2 1623.6 1166.2L1623.6 1220.2C1618.6 1220.2 1609.1 1219.87 1593.6 1220.2C1578.1 1220.53 1554.43 1221.53 1530.6 1222.2C1506.77 1222.87 1480.6 1223.53 1450.6 1224.2C1420.6 1224.87 1382.27 1224.53 1350.6 1226.2C1318.93 1227.87 1285.6 1232.87 1260.6 1234.2C1235.6 1235.53 1215.6 1234.2 1200.6 1234.2C1185.6 1234.2 1175.6 1234.2 1170.6 1234.2Z" fill="#000" fill-opacity="1" filter="url(#f8)" style="mix-blend-mode:screen"/>
<path d="M1170.6 1182.2C1175.6 1182.2 1185.6 1182.87 1200.6 1182.2C1215.6 1181.53 1235.6 1177.87 1260.6 1178.2C1285.6 1178.53 1318.93 1182.87 1350.6 1184.2C1382.27 1185.53 1420.6 1186.87 1450.6 1186.2C1480.6 1185.53 1506.77 1181.87 1530.6 1180.2C1554.43 1178.53 1578.1 1176.87 1593.6 1176.2C1609.1 1175.53 1618.6 1176.2 1623.6 1176.2L1623.6 1214.2C1618.6 1214.2 1609.1 1213.87 1593.6 1214.2C1578.1 1214.53 1554.43 1215.53 1530.6 1216.2C1506.77 1216.87 1480.6 1217.53 1450.6 1218.2C1420.6 1218.87 1382.27 1218.53 1350.6 1220.2C1318.93 1221.87 1285.6 1226.87 1260.6 1228.2C1235.6 1229.53 1215.6 1228.2 1200.6 1228.2C1185.6 1228.2 1175.6 1228.2 1170.6 1228.2Z" fill="#000" fill-opacity="1" filter="url(#f9)" style="mix-blend-mode:screen"/>
<g fill="#fff" filter="url(#f10)"><ellipse cx="1517.6" cy="1213.2" rx="3.8" ry="4.8" fill-opacity="1" transform="rotate(10 1517.6 1213.2)"/><ellipse cx="1572.6" cy="1215.2" rx="4" ry="4.5" fill-opacity="0.7"/><ellipse cx="1422.6" cy="1206.2" rx="4" ry="5.5" fill-opacity="0.75" transform="rotate(-30 1422.6 1206.2)"/><ellipse cx="1450.6" cy="1213.2" rx="3.5" ry="4" fill-opacity="0.55"/><ellipse cx="1412.6" cy="1225.2" rx="4" ry="4" fill-opacity="0.45"/><ellipse cx="1285.6" cy="1188.2" rx="5" ry="6" fill-opacity="0.45" transform="rotate(-30 1285.6 1188.2)"/><ellipse cx="1222.6" cy="1202.2" rx="4" ry="6" fill-opacity="0.45"/><ellipse cx="1238.6" cy="1155.2" rx="4" ry="3" fill-opacity="0.35"/><ellipse cx="1368.6" cy="1200.2" rx="3" ry="3" fill-opacity="0.45"/><ellipse cx="1204.6" cy="1195.2" rx="3" ry="5" fill-opacity="0.45"/><ellipse cx="1245.6" cy="1210.2" rx="4" ry="5" fill-opacity="0.3"/><ellipse cx="1260.6" cy="1220.2" rx="4" ry="3" fill-opacity="0.25" transform="rotate(30 1260.6 1220.2)"/><ellipse cx="1310.6" cy="1212.2" rx="3" ry="4" fill-opacity="0.3"/><ellipse cx="1335.6" cy="1196.2" rx="4" ry="3" fill-opacity="0.25"/><ellipse cx="1390.6" cy="1216.2" rx="4" ry="4" fill-opacity="0.25"/><ellipse cx="1480.6" cy="1208.2" rx="4" ry="5" fill-opacity="0.25"/><ellipse cx="1500.6" cy="1200.2" rx="3" ry="4" fill-opacity="0.25"/><ellipse cx="1550.6" cy="1200.2" rx="4" ry="4" fill-opacity="0.25"/><ellipse cx="1215.6" cy="1220.2" rx="5" ry="4" fill-opacity="0.25"/></g>
<g fill="#000" filter="url(#f11)"><ellipse cx="1335.6" cy="1248.2" rx="9" ry="4" fill-opacity="0.8" transform="rotate(10 1335.6 1248.2)"/><ellipse cx="1536.6" cy="1252.2" rx="3" ry="12" fill-opacity="0.6" transform="rotate(20 1536.6 1252.2)"/><ellipse cx="1220.6" cy="1150.2" rx="4" ry="12" fill-opacity="0.4" transform="rotate(10 1220.6 1150.2)"/><ellipse cx="1500.6" cy="1128.2" rx="6" ry="5" fill-opacity="0.6"/><ellipse cx="1280.6" cy="1124.2" rx="8" ry="4" fill-opacity="0.5"/><ellipse cx="1580.6" cy="1258.2" rx="4" ry="5" fill-opacity="0.7"/><ellipse cx="1396.6" cy="1128.2" rx="3" ry="5" fill-opacity="0.5" transform="rotate(30 1396.6 1128.2)"/><ellipse cx="1460.6" cy="1186.2" rx="6" ry="8" fill-opacity="0.4"/><ellipse cx="1400.6" cy="1180.2" rx="6" ry="5" fill-opacity="0.35"/></g>
<text x="1586" y="1146.7" font-size="21.5" text-anchor="end" font-weight="bold" fill="#fff" stroke="#fff" stroke-width="0.09">FOS</text></g>
<g clip-path="url(#c20)"><rect x="1604" y="1120.2" width="393" height="161.3" fill="#1a1a22"/>
<rect x="1604" y="1120.2" width="393" height="161.3" filter="url(#f12)"/>
<path d="M1574 1187.2C1579 1187.2 1590.67 1187.7 1604 1187.2C1617.33 1186.7 1637.33 1185.2 1654 1184.2C1670.67 1183.2 1687.33 1182.53 1704 1181.2C1720.67 1179.87 1737.33 1177.7 1754 1176.2C1770.67 1174.7 1779 1172.7 1804 1172.2C1829 1171.7 1871.83 1173.2 1904 1173.2C1936.17 1173.2 1976.5 1172.37 1997 1172.2C2017.5 1172.03 2022 1172.2 2027 1172.2L2027 1218.2C2022 1218.2 2017.5 1218.53 1997 1218.2C1976.5 1217.87 1936.17 1216.2 1904 1216.2C1871.83 1216.2 1837.33 1217.2 1804 1218.2C1770.67 1219.2 1729 1220.53 1704 1222.2C1679 1223.87 1670.67 1226.37 1654 1228.2C1637.33 1230.03 1617.33 1232.37 1604 1233.2C1590.67 1234.03 1579 1233.2 1574 1233.2Z" fill="#000" fill-opacity="0.4" filter="url(#f13)"/>
<g mask="url(#m14)" opacity="0.9" style="mix-blend-mode:screen"><g filter="url(#f16)"><rect x="1584" y="1110.2" width="453" height="221.3" fill="url(#pc)" transform="translate(20 10)"/></g></g>
<path d="M1574 1184.2C1579 1184.2 1590.67 1184.7 1604 1184.2C1617.33 1183.7 1637.33 1182.2 1654 1181.2C1670.67 1180.2 1687.33 1179.53 1704 1178.2C1720.67 1176.87 1737.33 1174.7 1754 1173.2C1770.67 1171.7 1779 1169.7 1804 1169.2C1829 1168.7 1871.83 1170.2 1904 1170.2C1936.17 1170.2 1976.5 1169.37 1997 1169.2C2017.5 1169.03 2022 1169.2 2027 1169.2L2027 1220.2C2022 1220.2 2017.5 1220.53 1997 1220.2C1976.5 1219.87 1936.17 1218.2 1904 1218.2C1871.83 1218.2 1837.33 1219.2 1804 1220.2C1770.67 1221.2 1729 1222.53 1704 1224.2C1679 1225.87 1670.67 1228.37 1654 1230.2C1637.33 1232.03 1617.33 1234.37 1604 1235.2C1590.67 1236.03 1579 1235.2 1574 1235.2Z" fill="#000" fill-opacity="1" filter="url(#f17)" style="mix-blend-mode:screen"/>
<path d="M1574 1172.2C1579 1172.2 1589 1172.87 1604 1172.2C1619 1171.53 1639 1167.87 1664 1168.2C1689 1168.53 1722.33 1172.87 1754 1174.2C1785.67 1175.53 1824 1176.87 1854 1176.2C1884 1175.53 1910.17 1171.87 1934 1170.2C1957.83 1168.53 1981.5 1166.87 1997 1166.2C2012.5 1165.53 2022 1166.2 2027 1166.2L2027 1220.2C2022 1220.2 2012.5 1219.87 1997 1220.2C1981.5 1220.53 1957.83 1221.53 1934 1222.2C1910.17 1222.87 1884 1223.53 1854 1224.2C1824 1224.87 1785.67 1224.53 1754 1226.2C1722.33 1227.87 1689 1232.87 1664 1234.2C1639 1235.53 1619 1234.2 1604 1234.2C1589 1234.2 1579 1234.2 1574 1234.2Z" fill="#000" fill-opacity="1" filter="url(#f18)" style="mix-blend-mode:screen"/>
<path d="M1574 1182.2C1579 1182.2 1589 1182.87 1604 1182.2C1619 1181.53 1639 1177.87 1664 1178.2C1689 1178.53 1722.33 1182.87 1754 1184.2C1785.67 1185.53 1824 1186.87 1854 1186.2C1884 1185.53 1910.17 1181.87 1934 1180.2C1957.83 1178.53 1981.5 1176.87 1997 1176.2C2012.5 1175.53 2022 1176.2 2027 1176.2L2027 1214.2C2022 1214.2 2012.5 1213.87 1997 1214.2C1981.5 1214.53 1957.83 1215.53 1934 1216.2C1910.17 1216.87 1884 1217.53 1854 1218.2C1824 1218.87 1785.67 1218.53 1754 1220.2C1722.33 1221.87 1689 1226.87 1664 1228.2C1639 1229.53 1619 1228.2 1604 1228.2C1589 1228.2 1579 1228.2 1574 1228.2Z" fill="#000" fill-opacity="1" filter="url(#f19)" style="mix-blend-mode:screen"/>
<g fill="#fff" filter="url(#f20)"><ellipse cx="1921" cy="1213.2" rx="3.8" ry="4.8" fill-opacity="1" transform="rotate(10 1921 1213.2)"/><ellipse cx="1976" cy="1215.2" rx="4" ry="4.5" fill-opacity="0.7"/><ellipse cx="1826" cy="1206.2" rx="4" ry="5.5" fill-opacity="0.75" transform="rotate(-30 1826 1206.2)"/><ellipse cx="1854" cy="1213.2" rx="3.5" ry="4" fill-opacity="0.55"/><ellipse cx="1816" cy="1225.2" rx="4" ry="4" fill-opacity="0.45"/><ellipse cx="1689" cy="1188.2" rx="5" ry="6" fill-opacity="0.45" transform="rotate(-30 1689 1188.2)"/><ellipse cx="1626" cy="1202.2" rx="4" ry="6" fill-opacity="0.45"/><ellipse cx="1642" cy="1155.2" rx="4" ry="3" fill-opacity="0.35"/><ellipse cx="1772" cy="1200.2" rx="3" ry="3" fill-opacity="0.45"/><ellipse cx="1608" cy="1195.2" rx="3" ry="5" fill-opacity="0.45"/><ellipse cx="1649" cy="1210.2" rx="4" ry="5" fill-opacity="0.3"/><ellipse cx="1664" cy="1220.2" rx="4" ry="3" fill-opacity="0.25" transform="rotate(30 1664 1220.2)"/><ellipse cx="1714" cy="1212.2" rx="3" ry="4" fill-opacity="0.3"/><ellipse cx="1739" cy="1196.2" rx="4" ry="3" fill-opacity="0.25"/><ellipse cx="1794" cy="1216.2" rx="4" ry="4" fill-opacity="0.25"/><ellipse cx="1884" cy="1208.2" rx="4" ry="5" fill-opacity="0.25"/><ellipse cx="1904" cy="1200.2" rx="3" ry="4" fill-opacity="0.25"/><ellipse cx="1954" cy="1200.2" rx="4" ry="4" fill-opacity="0.25"/><ellipse cx="1619" cy="1220.2" rx="5" ry="4" fill-opacity="0.25"/></g>
<g fill="#1818f0"><ellipse cx="1853.85" cy="1265.53" rx="3.22" ry="2.92" fill-opacity="0.78" transform="rotate(80.58 1853.85 1265.53)"/><ellipse cx="1813.4" cy="1156.25" rx="2.85" ry="1.87" fill-opacity="0.96" transform="rotate(158.36 1813.4 1156.25)"/><ellipse cx="1746.12" cy="1247.14" rx="3.2" ry="3.02" fill-opacity="0.69" transform="rotate(132.76 1746.12 1247.14)"/><ellipse cx="1790.96" cy="1131.15" rx="2.42" ry="2.32" fill-opacity="0.8" transform="rotate(82.95 1790.96 1131.15)"/><ellipse cx="1852.88" cy="1127.17" rx="3.05" ry="2.67" fill-opacity="0.93" transform="rotate(10.7 1852.88 1127.17)"/><ellipse cx="1726.59" cy="1131.15" rx="2.61" ry="1.66" fill-opacity="0.85" transform="rotate(142.57 1726.59 1131.15)"/><ellipse cx="1975.72" cy="1151.65" rx="3.19" ry="2.72" fill-opacity="0.89" transform="rotate(82.89 1975.72 1151.65)"/><ellipse cx="1671.26" cy="1238.78" rx="2.67" ry="2.11" fill-opacity="0.69" transform="rotate(119.74 1671.26 1238.78)"/><ellipse cx="1983.91" cy="1141.17" rx="3.3" ry="3.25" fill-opacity="0.78" transform="rotate(146.01 1983.91 1141.17)"/><ellipse cx="1991.15" cy="1232.49" rx="2.52" ry="2.01" fill-opacity="0.81" transform="rotate(14.18 1991.15 1232.49)"/><ellipse cx="1916.31" cy="1126.53" rx="2.75" ry="1.59" fill-opacity="0.75" transform="rotate(57.3 1916.31 1126.53)"/><ellipse cx="1609.77" cy="1172.44" rx="3.07" ry="2.33" fill-opacity="0.76" transform="rotate(22.05 1609.77 1172.44)"/><ellipse cx="1611.58" cy="1145" rx="2.83" ry="1.76" fill-opacity="0.65" transform="rotate(98.8 1611.58 1145)"/><ellipse cx="1907.77" cy="1254.16" rx="3.23" ry="2.88" fill-opacity="0.95" transform="rotate(108.41 1907.77 1254.16)"/><ellipse cx="1650.51" cy="1129.45" rx="2.74" ry="2.7" fill-opacity="0.82" transform="rotate(84 1650.51 1129.45)"/><ellipse cx="1759.85" cy="1140.87" rx="2.44" ry="2.11" fill-opacity="0.71" transform="rotate(2.43 1759.85 1140.87)"/><ellipse cx="1844.24" cy="1246.89" rx="2.67" ry="1.56" fill-opacity="0.87" transform="rotate(165.8 1844.24 1246.89)"/><ellipse cx="1903.63" cy="1228.72" rx="3.1" ry="1.81" fill-opacity="0.96" transform="rotate(23.1 1903.63 1228.72)"/><ellipse cx="1786.15" cy="1147.47" rx="2.64" ry="2.13" fill-opacity="0.97" transform="rotate(111.49 1786.15 1147.47)"/><ellipse cx="1989.73" cy="1276.66" rx="2.92" ry="2.24" fill-opacity="0.74" transform="rotate(169.87 1989.73 1276.66)"/><ellipse cx="1927.23" cy="1151.72" rx="2.58" ry="1.75" fill-opacity="0.75" transform="rotate(90.81 1927.23 1151.72)"/><ellipse cx="1686.95" cy="1136.53" rx="2.47" ry="2.36" fill-opacity="0.92" transform="rotate(142.72 1686.95 1136.53)"/><ellipse cx="1785.51" cy="1231.12" rx="2.83" ry="2.67" fill-opacity="0.78" transform="rotate(42.93 1785.51 1231.12)"/><ellipse cx="1900.5" cy="1238.93" rx="2.78" ry="2.06" fill-opacity="0.75" transform="rotate(10.5 1900.5 1238.93)"/><ellipse cx="1975.57" cy="1133.21" rx="3.32" ry="3.12" fill-opacity="0.66" transform="rotate(139.84 1975.57 1133.21)"/><ellipse cx="1935.51" cy="1276.62" rx="2.73" ry="1.67" fill-opacity="0.71" transform="rotate(28.74 1935.51 1276.62)"/><ellipse cx="1704.33" cy="1134.17" rx="2.62" ry="1.87" fill-opacity="1" transform="rotate(135 1704.33 1134.17)"/><ellipse cx="1606.98" cy="1266.43" rx="3.3" ry="3.26" fill-opacity="0.75" transform="rotate(90.43 1606.98 1266.43)"/></g>
<g fill="#000" filter="url(#f21)"><ellipse cx="1739" cy="1248.2" rx="9" ry="4" fill-opacity="0.75" transform="rotate(10 1739 1248.2)"/><ellipse cx="1940" cy="1252.2" rx="3" ry="12" fill-opacity="0.6" transform="rotate(20 1940 1252.2)"/><ellipse cx="1984" cy="1258.2" rx="4" ry="5" fill-opacity="0.7"/></g>
<rect x="1945.2" y="1271.4" width="43.8" height="4.3" fill="#fff"/>
<text x="1989.4" y="1146.7" font-size="21.5" text-anchor="end" font-weight="bold" fill="#fff" stroke="#fff" stroke-width="0.09">Merge</text></g>
<g clip-path="url(#c01)"><rect x="795" y="1287.3" width="393" height="161.3" fill="#060606"/>
<rect x="795" y="1287.3" width="393" height="161.3" filter="url(#f22)"/>
<path d="M765 1357.3C770 1357.3 785 1358.63 795 1357.3C805 1355.97 813.83 1352.8 825 1349.3C836.17 1345.8 848.17 1340.97 862 1336.3C875.83 1331.63 891.83 1325.47 908 1321.3C924.17 1317.13 946.17 1312.47 959 1311.3C971.83 1310.13 976.5 1311.63 985 1314.3C993.5 1316.97 997.33 1323.63 1010 1327.3C1022.67 1330.97 1046 1332.63 1061 1336.3C1076 1339.97 1089.33 1342.8 1100 1349.3C1110.67 1355.8 1118.67 1366.8 1125 1375.3C1131.33 1383.8 1131.67 1393.97 1138 1400.3C1144.33 1406.63 1154.67 1411.97 1163 1413.3C1171.33 1414.63 1178.83 1409.13 1188 1408.3C1197.17 1407.47 1213 1408.3 1218 1408.3L1218 1459.3C1213 1459.3 1205.17 1459.3 1188 1459.3C1170.83 1459.3 1130.5 1461.47 1115 1459.3C1099.5 1457.13 1101.67 1450.3 1095 1446.3C1088.33 1442.3 1083.33 1438.47 1075 1435.3C1066.67 1432.13 1055.83 1429.8 1045 1427.3C1034.17 1424.8 1023.33 1421.97 1010 1420.3C996.67 1418.63 977.5 1416.47 965 1417.3C952.5 1418.13 944.5 1420.47 935 1425.3C925.5 1430.13 914.67 1440.63 908 1446.3C901.33 1451.97 913.83 1457.13 895 1459.3C876.17 1461.47 816.67 1459.3 795 1459.3C773.33 1459.3 770 1459.3 765 1459.3Z" fill="#fff" fill-opacity="0.04" filter="url(#f23)"/>
<g mask="url(#m24)"><g filter="url(#f26)"><rect x="762" y="1270.3" width="453" height="221.3" fill="url(#pc)" transform="translate(33 17)"/></g></g>
<path d="M765 1356.3C770 1356.3 785 1357.63 795 1356.3C805 1354.97 813.83 1351.8 825 1348.3C836.17 1344.8 848.17 1339.97 862 1335.3C875.83 1330.63 891.83 1324.47 908 1320.3C924.17 1316.13 946.17 1311.47 959 1310.3C971.83 1309.13 976.5 1310.63 985 1313.3C993.5 1315.97 997.33 1322.63 1010 1326.3C1022.67 1329.97 1046 1331.63 1061 1335.3C1076 1338.97 1089.33 1341.8 1100 1348.3C1110.67 1354.8 1118.67 1365.8 1125 1374.3C1131.33 1382.8 1131.67 1392.97 1138 1399.3C1144.33 1405.63 1154.67 1410.97 1163 1412.3C1171.33 1413.63 1178.83 1408.13 1188 1407.3C1197.17 1406.47 1213 1407.3 1218 1407.3L1218 1460.3C1213 1460.3 1205.17 1460.3 1188 1460.3C1170.83 1460.3 1130.5 1462.47 1115 1460.3C1099.5 1458.13 1101.67 1451.3 1095 1447.3C1088.33 1443.3 1083.33 1439.47 1075 1436.3C1066.67 1433.13 1055.83 1430.8 1045 1428.3C1034.17 1425.8 1023.33 1422.97 1010 1421.3C996.67 1419.63 977.5 1417.47 965 1418.3C952.5 1419.13 944.5 1421.47 935 1426.3C925.5 1431.13 914.67 1441.63 908 1447.3C901.33 1452.97 913.83 1458.13 895 1460.3C876.17 1462.47 816.67 1460.3 795 1460.3C773.33 1460.3 770 1460.3 765 1460.3Z" fill="#000" fill-opacity="1" filter="url(#f27)" style="mix-blend-mode:screen"/>
<g fill="#bcbcbc"><ellipse cx="961.04" cy="1296.68" rx="2.53" ry="1.89" fill-opacity="0.68" transform="rotate(4.74 961.04 1296.68)"/><ellipse cx="1076.21" cy="1316.72" rx="3.17" ry="3.13" fill-opacity="0.43" transform="rotate(142.02 1076.21 1316.72)"/><ellipse cx="1126.77" cy="1333.27" rx="2.66" ry="1.94" fill-opacity="0.69" transform="rotate(7.84 1126.77 1333.27)"/><ellipse cx="797.11" cy="1325.38" rx="2.92" ry="1.67" fill-opacity="0.7" transform="rotate(8.89 797.11 1325.38)"/><ellipse cx="798.39" cy="1299.42" rx="2.75" ry="2.35" fill-opacity="0.55" transform="rotate(119.89 798.39 1299.42)"/><ellipse cx="1080.46" cy="1309.15" rx="2.61" ry="2.52" fill-opacity="0.38" transform="rotate(107.34 1080.46 1309.15)"/><ellipse cx="1112.59" cy="1302.55" rx="2.48" ry="2.09" fill-opacity="0.34" transform="rotate(125.9 1112.59 1302.55)"/><ellipse cx="1135.18" cy="1374.82" rx="3.05" ry="2.88" fill-opacity="0.46" transform="rotate(9.07 1135.18 1374.82)"/><ellipse cx="1176.84" cy="1346.64" rx="2.75" ry="1.82" fill-opacity="0.31" transform="rotate(53.06 1176.84 1346.64)"/><ellipse cx="1072.38" cy="1292.39" rx="3.15" ry="1.78" fill-opacity="0.5" transform="rotate(26.28 1072.38 1292.39)"/><ellipse cx="826.59" cy="1294.47" rx="3.37" ry="3.29" fill-opacity="0.62" transform="rotate(118.39 826.59 1294.47)"/><ellipse cx="852.31" cy="1293.7" rx="2.65" ry="2.04" fill-opacity="0.5" transform="rotate(137.15 852.31 1293.7)"/><ellipse cx="939.13" cy="1297.3" rx="2.57" ry="1.9" fill-opacity="0.49" transform="rotate(48.29 939.13 1297.3)"/><ellipse cx="1037.88" cy="1318.75" rx="3.36" ry="2.67" fill-opacity="0.51" transform="rotate(174.3 1037.88 1318.75)"/><ellipse cx="1100.41" cy="1315.06" rx="2.77" ry="1.98" fill-opacity="0.43" transform="rotate(22.5 1100.41 1315.06)"/><ellipse cx="1177.28" cy="1290.08" rx="3.04" ry="2.57" fill-opacity="0.67" transform="rotate(49.79 1177.28 1290.08)"/><ellipse cx="951.82" cy="1297.71" rx="2.45" ry="2.1" fill-opacity="0.55" transform="rotate(174.45 951.82 1297.71)"/><ellipse cx="1172.62" cy="1313.22" rx="2.61" ry="2.44" fill-opacity="0.61" transform="rotate(60.3 1172.62 1313.22)"/><ellipse cx="1181.82" cy="1387.11" rx="3.11" ry="2.19" fill-opacity="0.42" transform="rotate(111.88 1181.82 1387.11)"/><ellipse cx="1163.08" cy="1361.63" rx="2.57" ry="2.35" fill-opacity="0.73" transform="rotate(137.64 1163.08 1361.63)"/><ellipse cx="1184.09" cy="1343.54" rx="2.54" ry="1.56" fill-opacity="0.37" transform="rotate(3.79 1184.09 1343.54)"/><ellipse cx="1087.03" cy="1289.32" rx="2.85" ry="2.43" fill-opacity="0.58" transform="rotate(34.21 1087.03 1289.32)"/><ellipse cx="835.13" cy="1293.56" rx="3.26" ry="3.04" fill-opacity="0.35" transform="rotate(165.49 835.13 1293.56)"/><ellipse cx="917.09" cy="1310.43" rx="2.73" ry="1.66" fill-opacity="0.66" transform="rotate(97.09 917.09 1310.43)"/><ellipse cx="1172.25" cy="1377.72" rx="2.88" ry="2.05" fill-opacity="0.58" transform="rotate(59.47 1172.25 1377.72)"/><ellipse cx="1037.19" cy="1305.11" rx="2.46" ry="2.23" fill-opacity="0.69" transform="rotate(34.04 1037.19 1305.11)"/><ellipse cx="1165.67" cy="1311.58" rx="2.68" ry="2.16" fill-opacity="0.33" transform="rotate(52.88 1165.67 1311.58)"/><ellipse cx="1006.09" cy="1304.07" rx="2.95" ry="1.87" fill-opacity="0.66" transform="rotate(115.78 1006.09 1304.07)"/><ellipse cx="1051.58" cy="1319.41" rx="2.47" ry="2.11" fill-opacity="0.7" transform="rotate(68.43 1051.58 1319.41)"/><ellipse cx="1036.72" cy="1319.32" rx="3.35" ry="2.29" fill-opacity="0.69" transform="rotate(52.18 1036.72 1319.32)"/><ellipse cx="1158.78" cy="1338.07" rx="2.43" ry="1.95" fill-opacity="0.73" transform="rotate(157.56 1158.78 1338.07)"/><ellipse cx="1121.52" cy="1361.53" rx="2.86" ry="2.1" fill-opacity="0.41" transform="rotate(122.43 1121.52 1361.53)"/><ellipse cx="1021.71" cy="1299.17" rx="2.69" ry="1.51" fill-opacity="0.34" transform="rotate(12.66 1021.71 1299.17)"/><ellipse cx="819.75" cy="1308.46" rx="2.55" ry="2.4" fill-opacity="0.32" transform="rotate(96.8 819.75 1308.46)"/><ellipse cx="1041.05" cy="1322.48" rx="2.41" ry="1.73" fill-opacity="0.43" transform="rotate(58.31 1041.05 1322.48)"/><ellipse cx="1173.66" cy="1379.96" rx="3.17" ry="2.59" fill-opacity="0.7" transform="rotate(152.22 1173.66 1379.96)"/><ellipse cx="876.17" cy="1310.24" rx="3.21" ry="1.95" fill-opacity="0.71" transform="rotate(53.82 876.17 1310.24)"/><ellipse cx="822.66" cy="1297.7" rx="2.46" ry="1.54" fill-opacity="0.34" transform="rotate(31.34 822.66 1297.7)"/><ellipse cx="1174.02" cy="1363.06" rx="3.13" ry="2.16" fill-opacity="0.47" transform="rotate(77.95 1174.02 1363.06)"/><ellipse cx="1057.28" cy="1315.28" rx="2.68" ry="1.63" fill-opacity="0.73" transform="rotate(115.17 1057.28 1315.28)"/><ellipse cx="1048.88" cy="1305.02" rx="2.63" ry="2.17" fill-opacity="0.47" transform="rotate(99.4 1048.88 1305.02)"/><ellipse cx="795.82" cy="1302.62" rx="2.64" ry="2.15" fill-opacity="0.66" transform="rotate(132.06 795.82 1302.62)"/><ellipse cx="1110.73" cy="1313.8" rx="3.24" ry="2.07" fill-opacity="0.41" transform="rotate(48.37 1110.73 1313.8)"/><ellipse cx="1067.5" cy="1308.05" rx="2.61" ry="2.15" fill-opacity="0.74" transform="rotate(77.56 1067.5 1308.05)"/><ellipse cx="811.35" cy="1299.08" rx="2.88" ry="1.77" fill-opacity="0.51" transform="rotate(131.22 811.35 1299.08)"/><ellipse cx="843.43" cy="1324.74" rx="3.01" ry="2.16" fill-opacity="0.64" transform="rotate(127.95 843.43 1324.74)"/></g>
<text x="1180.4" y="1311.8" font-size="21.5" text-anchor="end" font-weight="bold" fill="#fff" stroke="#fff" stroke-width="0.09">DAPI</text></g>
<g clip-path="url(#c11)"><rect x="1200.6" y="1287.3" width="393" height="161.3" fill="#1c1c1c"/>
<rect x="1200.6" y="1287.3" width="393" height="161.3" filter="url(#f28)"/>
<path d="M1170.6 1387.3C1175.6 1387.3 1190.6 1390.63 1200.6 1387.3C1210.6 1383.97 1219.43 1374.3 1230.6 1367.3C1241.77 1360.3 1253.77 1351.63 1267.6 1345.3C1281.43 1338.97 1297.43 1333.3 1313.6 1329.3C1329.77 1325.3 1347.6 1321.63 1364.6 1321.3C1381.6 1320.97 1398.6 1324.3 1415.6 1327.3C1432.6 1330.3 1451.6 1334.97 1466.6 1339.3C1481.6 1343.63 1494.93 1346.97 1505.6 1353.3C1516.27 1359.63 1524.27 1369.63 1530.6 1377.3C1536.93 1384.97 1537.27 1392.63 1543.6 1399.3C1549.93 1405.97 1560.27 1413.47 1568.6 1417.3C1576.93 1421.13 1584.43 1421.47 1593.6 1422.3C1602.77 1423.13 1618.6 1422.3 1623.6 1422.3L1623.6 1462.3C1618.6 1462.3 1664.1 1462.3 1593.6 1462.3C1523.1 1462.3 1271.1 1462.3 1200.6 1462.3C1130.1 1462.3 1175.6 1462.3 1170.6 1462.3Z" fill="#000" fill-opacity="0.3" filter="url(#f29)"/>
<g mask="url(#m30)" opacity="0.6"><g filter="url(#f32)"><rect x="1200.6" y="1287.3" width="453" height="221.3" fill="url(#ph)" transform="translate(0 0)"/></g></g>
<path d="M1500.6 1287.3C1505.6 1287.3 1520.6 1287.3 1530.6 1287.3C1540.6 1287.3 1550.1 1287.3 1560.6 1287.3C1571.1 1287.3 1583.1 1287.3 1593.6 1287.3C1604.1 1287.3 1618.6 1287.3 1623.6 1287.3L1623.6 1437.3C1618.6 1437.3 1604.1 1442.3 1593.6 1437.3C1583.1 1432.3 1571.1 1422.3 1560.6 1407.3C1550.1 1392.3 1540.6 1357.3 1530.6 1347.3C1520.6 1337.3 1505.6 1347.3 1500.6 1347.3Z" fill="#000" fill-opacity="0.15" filter="url(#f33)"/>
<g fill="#fff" filter="url(#f34)"><ellipse cx="1307.6" cy="1369.3" rx="3.5" ry="5" fill-opacity="0.5"/><ellipse cx="1343.6" cy="1362.3" rx="3" ry="4" fill-opacity="0.35"/><ellipse cx="1443.6" cy="1395.3" rx="4" ry="4.5" fill-opacity="0.25"/><ellipse cx="1491.6" cy="1414.3" rx="4" ry="4" fill-opacity="0.25"/><ellipse cx="1545.6" cy="1418.3" rx="4" ry="4" fill-opacity="0.25"/><ellipse cx="1210.6" cy="1433.3" rx="3.5" ry="5" fill-opacity="0.3"/><ellipse cx="1578.6" cy="1430.3" rx="4" ry="5" fill-opacity="0.2"/><ellipse cx="1288.6" cy="1317.3" rx="4" ry="4" fill-opacity="0.2"/><ellipse cx="1227.6" cy="1382.3" rx="3" ry="5" fill-opacity="0.15"/></g>
<g fill="#fff" filter="url(#f35)"><ellipse cx="1367.6" cy="1337.3" rx="4.6" ry="5.4" fill-opacity="1"/><ellipse cx="1436.6" cy="1349.3" rx="4.8" ry="5" fill-opacity="1"/><ellipse cx="1398.6" cy="1362.3" rx="4" ry="4.8" fill-opacity="0.8"/><ellipse cx="1348.6" cy="1402.3" rx="3.6" ry="3.8" fill-opacity="0.85"/><ellipse cx="1518.6" cy="1423.3" rx="4.2" ry="5.4" fill-opacity="1" transform="rotate(25 1518.6 1423.3)"/></g>
<text x="1586" y="1311.8" font-size="21.5" text-anchor="end" font-weight="bold" fill="#fff" stroke="#fff" stroke-width="0.09">FOS</text></g>
<g clip-path="url(#c21)"><rect x="1604" y="1287.3" width="393" height="161.3" fill="#1a1a22"/>
<rect x="1604" y="1287.3" width="393" height="161.3" filter="url(#f36)"/>
<path d="M1574 1353.3C1579 1353.3 1594 1354.63 1604 1353.3C1614 1351.97 1622.83 1348.8 1634 1345.3C1645.17 1341.8 1657.17 1336.97 1671 1332.3C1684.83 1327.63 1700.83 1321.47 1717 1317.3C1733.17 1313.13 1755.17 1308.47 1768 1307.3C1780.83 1306.13 1785.5 1307.63 1794 1310.3C1802.5 1312.97 1806.33 1319.63 1819 1323.3C1831.67 1326.97 1855 1328.63 1870 1332.3C1885 1335.97 1898.33 1338.8 1909 1345.3C1919.67 1351.8 1927.67 1362.8 1934 1371.3C1940.33 1379.8 1940.67 1389.97 1947 1396.3C1953.33 1402.63 1963.67 1407.97 1972 1409.3C1980.33 1410.63 1987.83 1405.13 1997 1404.3C2006.17 1403.47 2022 1404.3 2027 1404.3L2027 1462.3C2022 1462.3 2014.17 1462.3 1997 1462.3C1979.83 1462.3 1939.5 1464.47 1924 1462.3C1908.5 1460.13 1910.67 1453.3 1904 1449.3C1897.33 1445.3 1892.33 1441.47 1884 1438.3C1875.67 1435.13 1864.83 1432.8 1854 1430.3C1843.17 1427.8 1832.33 1424.97 1819 1423.3C1805.67 1421.63 1786.5 1419.47 1774 1420.3C1761.5 1421.13 1753.5 1423.47 1744 1428.3C1734.5 1433.13 1723.67 1443.63 1717 1449.3C1710.33 1454.97 1722.83 1460.13 1704 1462.3C1685.17 1464.47 1625.67 1462.3 1604 1462.3C1582.33 1462.3 1579 1462.3 1574 1462.3Z" fill="#000" fill-opacity="0.6" filter="url(#f37)"/>
<g mask="url(#m38)" opacity="0.85" style="mix-blend-mode:screen"><g filter="url(#f40)"><rect x="1554" y="1257.3" width="453" height="221.3" fill="url(#pc)" transform="translate(50 30)"/></g></g>
<path d="M1574 1356.3C1579 1356.3 1594 1357.63 1604 1356.3C1614 1354.97 1622.83 1351.8 1634 1348.3C1645.17 1344.8 1657.17 1339.97 1671 1335.3C1684.83 1330.63 1700.83 1324.47 1717 1320.3C1733.17 1316.13 1755.17 1311.47 1768 1310.3C1780.83 1309.13 1785.5 1310.63 1794 1313.3C1802.5 1315.97 1806.33 1322.63 1819 1326.3C1831.67 1329.97 1855 1331.63 1870 1335.3C1885 1338.97 1898.33 1341.8 1909 1348.3C1919.67 1354.8 1927.67 1365.8 1934 1374.3C1940.33 1382.8 1940.67 1392.97 1947 1399.3C1953.33 1405.63 1963.67 1410.97 1972 1412.3C1980.33 1413.63 1987.83 1408.13 1997 1407.3C2006.17 1406.47 2022 1407.3 2027 1407.3L2027 1460.3C2022 1460.3 2014.17 1460.3 1997 1460.3C1979.83 1460.3 1939.5 1462.47 1924 1460.3C1908.5 1458.13 1910.67 1451.3 1904 1447.3C1897.33 1443.3 1892.33 1439.47 1884 1436.3C1875.67 1433.13 1864.83 1430.8 1854 1428.3C1843.17 1425.8 1832.33 1422.97 1819 1421.3C1805.67 1419.63 1786.5 1417.47 1774 1418.3C1761.5 1419.13 1753.5 1421.47 1744 1426.3C1734.5 1431.13 1723.67 1441.63 1717 1447.3C1710.33 1452.97 1722.83 1458.13 1704 1460.3C1685.17 1462.47 1625.67 1460.3 1604 1460.3C1582.33 1460.3 1579 1460.3 1574 1460.3Z" fill="#000" fill-opacity="1" filter="url(#f41)" style="mix-blend-mode:screen"/>
<path d="M1904 1287.3C1909 1287.3 1924 1287.3 1934 1287.3C1944 1287.3 1953.5 1287.3 1964 1287.3C1974.5 1287.3 1986.5 1287.3 1997 1287.3C2007.5 1287.3 2022 1287.3 2027 1287.3L2027 1437.3C2022 1437.3 2007.5 1442.3 1997 1437.3C1986.5 1432.3 1974.5 1422.3 1964 1407.3C1953.5 1392.3 1944 1357.3 1934 1347.3C1924 1337.3 1909 1347.3 1904 1347.3Z" fill="#000" fill-opacity="0.15" filter="url(#f42)"/>
<g fill="#fff" filter="url(#f43)"><ellipse cx="1711" cy="1369.3" rx="3.5" ry="5" fill-opacity="0.5"/><ellipse cx="1747" cy="1362.3" rx="3" ry="4" fill-opacity="0.35"/><ellipse cx="1847" cy="1395.3" rx="4" ry="4.5" fill-opacity="0.25"/><ellipse cx="1895" cy="1414.3" rx="4" ry="4" fill-opacity="0.25"/><ellipse cx="1949" cy="1418.3" rx="4" ry="4" fill-opacity="0.25"/><ellipse cx="1614" cy="1433.3" rx="3.5" ry="5" fill-opacity="0.3"/><ellipse cx="1982" cy="1430.3" rx="4" ry="5" fill-opacity="0.2"/><ellipse cx="1692" cy="1317.3" rx="4" ry="4" fill-opacity="0.2"/><ellipse cx="1631" cy="1382.3" rx="3" ry="5" fill-opacity="0.15"/></g>
<g fill="#fff" filter="url(#f44)"><ellipse cx="1771" cy="1337.3" rx="4.6" ry="5.4" fill-opacity="1"/><ellipse cx="1840" cy="1349.3" rx="4.8" ry="5" fill-opacity="1"/><ellipse cx="1802" cy="1362.3" rx="4" ry="4.8" fill-opacity="0.8"/><ellipse cx="1752" cy="1402.3" rx="3.6" ry="3.8" fill-opacity="0.85"/><ellipse cx="1922" cy="1423.3" rx="4.2" ry="5.4" fill-opacity="1" transform="rotate(25 1922 1423.3)"/></g>
<g fill="#1818f0"><ellipse cx="1898.75" cy="1324.09" rx="2.72" ry="2.04" fill-opacity="0.86" transform="rotate(123.31 1898.75 1324.09)"/><ellipse cx="1938.33" cy="1327.64" rx="3.12" ry="1.77" fill-opacity="0.88" transform="rotate(72.41 1938.33 1327.64)"/><ellipse cx="1881.85" cy="1329.86" rx="3.27" ry="2.27" fill-opacity="0.76" transform="rotate(6.26 1881.85 1329.86)"/><ellipse cx="1641.86" cy="1301.62" rx="3.16" ry="3.08" fill-opacity="0.73" transform="rotate(8.34 1641.86 1301.62)"/><ellipse cx="1870.96" cy="1307.62" rx="2.41" ry="1.33" fill-opacity="0.8" transform="rotate(48.9 1870.96 1307.62)"/><ellipse cx="1621.39" cy="1307.51" rx="2.93" ry="2.54" fill-opacity="0.65" transform="rotate(132.99 1621.39 1307.51)"/><ellipse cx="1883.78" cy="1291.1" rx="2.85" ry="2.41" fill-opacity="0.88" transform="rotate(151.86 1883.78 1291.1)"/><ellipse cx="1884.2" cy="1330.1" rx="2.84" ry="2.15" fill-opacity="0.87" transform="rotate(58.23 1884.2 1330.1)"/><ellipse cx="1745.76" cy="1303.68" rx="3.22" ry="2.49" fill-opacity="0.87" transform="rotate(78.23 1745.76 1303.68)"/><ellipse cx="1630.42" cy="1294.73" rx="2.95" ry="1.68" fill-opacity="0.88" transform="rotate(159.88 1630.42 1294.73)"/><ellipse cx="1735.95" cy="1303.82" rx="3.4" ry="2.01" fill-opacity="0.74" transform="rotate(25.13 1735.95 1303.82)"/><ellipse cx="1973.78" cy="1338.89" rx="3.11" ry="1.73" fill-opacity="0.82" transform="rotate(11.57 1973.78 1338.89)"/><ellipse cx="1915.8" cy="1346.15" rx="2.76" ry="2.2" fill-opacity="0.54" transform="rotate(49.69 1915.8 1346.15)"/><ellipse cx="1629.61" cy="1322.57" rx="3.25" ry="2.9" fill-opacity="0.5" transform="rotate(54.89 1629.61 1322.57)"/><ellipse cx="1697" cy="1297.49" rx="2.78" ry="2.12" fill-opacity="0.56" transform="rotate(84.84 1697 1297.49)"/><ellipse cx="1735.95" cy="1302.37" rx="3.25" ry="2.95" fill-opacity="0.66" transform="rotate(169.02 1735.95 1302.37)"/><ellipse cx="1920.57" cy="1300.5" rx="2.75" ry="1.99" fill-opacity="0.58" transform="rotate(53.37 1920.57 1300.5)"/><ellipse cx="1964.34" cy="1315.28" rx="3.11" ry="2.01" fill-opacity="0.78" transform="rotate(125.31 1964.34 1315.28)"/></g>
<text x="1989.4" y="1311.8" font-size="21.5" text-anchor="end" font-weight="bold" fill="#fff" stroke="#fff" stroke-width="0.09">Merge</text></g>
<g clip-path="url(#c02)"><rect x="795" y="1531.1" width="393" height="161.3" fill="#060606"/>
<rect x="795" y="1531.1" width="393" height="161.3" filter="url(#f45)"/>
<g mask="url(#m46)" opacity="0.95"><g filter="url(#f48)"><rect x="784" y="1491.1" width="453" height="221.3" fill="url(#pc)" transform="translate(11 40)"/></g></g>
<path d="M765 1606.1C770 1606.1 780 1608.77 795 1606.1C810 1603.43 835 1595.27 855 1590.1C875 1584.93 891.67 1578.6 915 1575.1C938.33 1571.6 965 1569.77 995 1569.1C1025 1568.43 1062.83 1569.77 1095 1571.1C1127.17 1572.43 1167.5 1576.1 1188 1577.1C1208.5 1578.1 1213 1577.1 1218 1577.1L1218 1647.1C1213 1647.1 1200.17 1648.6 1188 1647.1C1175.83 1645.6 1160.5 1640.93 1145 1638.1C1129.5 1635.27 1116.67 1632.1 1095 1630.1C1073.33 1628.1 1038.33 1625.77 1015 1626.1C991.67 1626.43 975 1628.6 955 1632.1C935 1635.6 915 1641.93 895 1647.1C875 1652.27 851.67 1657.6 835 1663.1C818.33 1668.6 806.67 1677.27 795 1680.1C783.33 1682.93 770 1680.1 765 1680.1Z" fill="#000" fill-opacity="1" filter="url(#f49)" style="mix-blend-mode:screen"/>
<g fill="#d0d0d0"><ellipse cx="1149.97" cy="1551.43" rx="3.35" ry="3.12" fill-opacity="0.48" transform="rotate(27.85 1149.97 1551.43)"/><ellipse cx="1061.84" cy="1542.9" rx="2.89" ry="2.58" fill-opacity="0.63" transform="rotate(10.35 1061.84 1542.9)"/><ellipse cx="891.07" cy="1535.59" rx="2.46" ry="1.98" fill-opacity="0.6" transform="rotate(162.12 891.07 1535.59)"/><ellipse cx="814.91" cy="1534.41" rx="3.38" ry="2.51" fill-opacity="0.64" transform="rotate(159.95 814.91 1534.41)"/><ellipse cx="942.6" cy="1553.98" rx="2.45" ry="2.43" fill-opacity="0.69" transform="rotate(16.13 942.6 1553.98)"/><ellipse cx="824.92" cy="1574.32" rx="3.28" ry="2.65" fill-opacity="0.54" transform="rotate(105.4 824.92 1574.32)"/><ellipse cx="1131.73" cy="1548.66" rx="3.17" ry="2.51" fill-opacity="0.56" transform="rotate(38.01 1131.73 1548.66)"/><ellipse cx="1177.95" cy="1535.32" rx="3.06" ry="2.26" fill-opacity="0.61" transform="rotate(89.39 1177.95 1535.32)"/><ellipse cx="872.83" cy="1536.27" rx="2.55" ry="1.85" fill-opacity="0.52" transform="rotate(117.08 872.83 1536.27)"/><ellipse cx="1106.8" cy="1551.37" rx="2.51" ry="2.05" fill-opacity="0.52" transform="rotate(128.49 1106.8 1551.37)"/><ellipse cx="817.04" cy="1563.22" rx="3.1" ry="2.21" fill-opacity="0.41" transform="rotate(151.06 817.04 1563.22)"/><ellipse cx="1059.37" cy="1560.22" rx="2.51" ry="1.67" fill-opacity="0.55" transform="rotate(24.42 1059.37 1560.22)"/><ellipse cx="1043.83" cy="1536.12" rx="3.01" ry="2.71" fill-opacity="0.51" transform="rotate(57.04 1043.83 1536.12)"/><ellipse cx="830.71" cy="1568.1" rx="2.67" ry="2.12" fill-opacity="0.44" transform="rotate(13.07 830.71 1568.1)"/><ellipse cx="836.78" cy="1584.53" rx="3.34" ry="2.91" fill-opacity="0.5" transform="rotate(70.47 836.78 1584.53)"/><ellipse cx="1032.33" cy="1547.31" rx="2.42" ry="2.26" fill-opacity="0.62" transform="rotate(86.49 1032.33 1547.31)"/><ellipse cx="974.09" cy="1551.04" rx="2.43" ry="2" fill-opacity="0.3" transform="rotate(95.59 974.09 1551.04)"/><ellipse cx="1076.08" cy="1548.15" rx="2.77" ry="2.35" fill-opacity="0.35" transform="rotate(150.98 1076.08 1548.15)"/><ellipse cx="1072.86" cy="1539.74" rx="2.78" ry="2.34" fill-opacity="0.55" transform="rotate(49.84 1072.86 1539.74)"/><ellipse cx="834.11" cy="1578.41" rx="2.44" ry="1.71" fill-opacity="0.65" transform="rotate(131.13 834.11 1578.41)"/><ellipse cx="1183.22" cy="1551.43" rx="2.92" ry="2.46" fill-opacity="0.69" transform="rotate(141.84 1183.22 1551.43)"/><ellipse cx="920.21" cy="1544.1" rx="2.64" ry="2.36" fill-opacity="0.41" transform="rotate(11.95 920.21 1544.1)"/><ellipse cx="947.21" cy="1551.51" rx="2.97" ry="1.79" fill-opacity="0.6" transform="rotate(84.18 947.21 1551.51)"/><ellipse cx="879.06" cy="1562.09" rx="2.46" ry="1.41" fill-opacity="0.38" transform="rotate(178.38 879.06 1562.09)"/><ellipse cx="881.39" cy="1561.22" rx="2.51" ry="2.28" fill-opacity="0.37" transform="rotate(61.14 881.39 1561.22)"/><ellipse cx="967.31" cy="1553.41" rx="2.69" ry="1.9" fill-opacity="0.46" transform="rotate(84.44 967.31 1553.41)"/><ellipse cx="1061.46" cy="1556.49" rx="2.5" ry="1.45" fill-opacity="0.74" transform="rotate(64.85 1061.46 1556.49)"/><ellipse cx="961.56" cy="1559.76" rx="2.44" ry="1.88" fill-opacity="0.4" transform="rotate(4.68 961.56 1559.76)"/><ellipse cx="872.24" cy="1556.02" rx="2.56" ry="1.62" fill-opacity="0.51" transform="rotate(1.15 872.24 1556.02)"/><ellipse cx="1147.99" cy="1555.11" rx="2.46" ry="2.3" fill-opacity="0.32" transform="rotate(172.23 1147.99 1555.11)"/><ellipse cx="1059.27" cy="1680.34" rx="2.49" ry="2.18" fill-opacity="0.37" transform="rotate(95.72 1059.27 1680.34)"/><ellipse cx="891.76" cy="1663.39" rx="2.46" ry="2.35" fill-opacity="0.48" transform="rotate(67.34 891.76 1663.39)"/><ellipse cx="892.8" cy="1672" rx="3.06" ry="2.34" fill-opacity="0.58" transform="rotate(130.11 892.8 1672)"/><ellipse cx="1077.7" cy="1681.32" rx="3.12" ry="2.91" fill-opacity="0.67" transform="rotate(78.3 1077.7 1681.32)"/><ellipse cx="1010.67" cy="1685.36" rx="2.84" ry="2.03" fill-opacity="0.67" transform="rotate(65.1 1010.67 1685.36)"/><ellipse cx="946.43" cy="1643.63" rx="3.09" ry="3.07" fill-opacity="0.31" transform="rotate(110.6 946.43 1643.63)"/><ellipse cx="1086.78" cy="1685.44" rx="3.16" ry="1.89" fill-opacity="0.65" transform="rotate(122.41 1086.78 1685.44)"/><ellipse cx="985.95" cy="1644.26" rx="2.92" ry="2.2" fill-opacity="0.31" transform="rotate(62.88 985.95 1644.26)"/><ellipse cx="912.89" cy="1675.83" rx="2.72" ry="2.3" fill-opacity="0.4" transform="rotate(75.22 912.89 1675.83)"/><ellipse cx="1090.88" cy="1686.51" rx="3.12" ry="2.76" fill-opacity="0.69" transform="rotate(72.21 1090.88 1686.51)"/><ellipse cx="1180.77" cy="1666.94" rx="3.13" ry="1.87" fill-opacity="0.6" transform="rotate(11.17 1180.77 1666.94)"/><ellipse cx="947.87" cy="1648.47" rx="3" ry="1.7" fill-opacity="0.61" transform="rotate(101.62 947.87 1648.47)"/><ellipse cx="840.49" cy="1678.89" rx="3.28" ry="3.12" fill-opacity="0.45" transform="rotate(98.36 840.49 1678.89)"/><ellipse cx="1120.31" cy="1653.06" rx="3.34" ry="2.6" fill-opacity="0.31" transform="rotate(2.78 1120.31 1653.06)"/><ellipse cx="1149.83" cy="1650.18" rx="2.59" ry="1.5" fill-opacity="0.72" transform="rotate(59.6 1149.83 1650.18)"/><ellipse cx="817.48" cy="1678.91" rx="2.78" ry="2.5" fill-opacity="0.71" transform="rotate(152.1 817.48 1678.91)"/><ellipse cx="885.71" cy="1674.01" rx="2.55" ry="1.65" fill-opacity="0.74" transform="rotate(39.16 885.71 1674.01)"/><ellipse cx="1148.59" cy="1676.04" rx="2.6" ry="1.58" fill-opacity="0.54" transform="rotate(136.38 1148.59 1676.04)"/><ellipse cx="1123.93" cy="1672.5" rx="2.75" ry="2.18" fill-opacity="0.51" transform="rotate(145.09 1123.93 1672.5)"/><ellipse cx="1091.38" cy="1665.93" rx="3.22" ry="2.84" fill-opacity="0.63" transform="rotate(109.39 1091.38 1665.93)"/><ellipse cx="971.73" cy="1646.97" rx="3.2" ry="2.07" fill-opacity="0.5" transform="rotate(9.57 971.73 1646.97)"/><ellipse cx="982.96" cy="1658.55" rx="3.29" ry="2.77" fill-opacity="0.73" transform="rotate(43.59 982.96 1658.55)"/><ellipse cx="1130.7" cy="1684.94" rx="2.79" ry="1.82" fill-opacity="0.66" transform="rotate(155.24 1130.7 1684.94)"/><ellipse cx="1060.05" cy="1636.54" rx="2.82" ry="1.7" fill-opacity="0.42" transform="rotate(170.69 1060.05 1636.54)"/><ellipse cx="1139.5" cy="1675.96" rx="2.95" ry="2.58" fill-opacity="0.32" transform="rotate(51.24 1139.5 1675.96)"/><ellipse cx="1122.13" cy="1655.84" rx="2.44" ry="1.8" fill-opacity="0.65" transform="rotate(125.87 1122.13 1655.84)"/><ellipse cx="1112.06" cy="1642.76" rx="2.42" ry="2.32" fill-opacity="0.4" transform="rotate(86.89 1112.06 1642.76)"/><ellipse cx="861.78" cy="1681.78" rx="2.49" ry="2.3" fill-opacity="0.39" transform="rotate(125.38 861.78 1681.78)"/><ellipse cx="1146.87" cy="1685.92" rx="2.49" ry="1.92" fill-opacity="0.49" transform="rotate(90.65 1146.87 1685.92)"/><ellipse cx="1173.6" cy="1657.73" rx="3.08" ry="2.96" fill-opacity="0.57" transform="rotate(159.39 1173.6 1657.73)"/><ellipse cx="1168.72" cy="1657.92" rx="3.15" ry="1.83" fill-opacity="0.45" transform="rotate(70.75 1168.72 1657.92)"/><ellipse cx="1030.66" cy="1634.78" rx="2.52" ry="2" fill-opacity="0.72" transform="rotate(173.85 1030.66 1634.78)"/><ellipse cx="1018.23" cy="1643.76" rx="3.12" ry="2.13" fill-opacity="0.52" transform="rotate(39.52 1018.23 1643.76)"/><ellipse cx="1106.68" cy="1648.64" rx="2.51" ry="1.93" fill-opacity="0.75" transform="rotate(36.56 1106.68 1648.64)"/></g>
<text x="1180.4" y="1556" font-size="21.5" text-anchor="end" font-weight="bold" fill="#fff" stroke="#fff" stroke-width="0.09">DAPI</text></g>
<g clip-path="url(#c12)"><rect x="1200.6" y="1531.1" width="393" height="161.3" fill="#1a1a1a"/>
<rect x="1200.6" y="1531.1" width="393" height="161.3" filter="url(#f50)"/>
<path d="M1170.6 1641.1C1175.6 1641.1 1130.1 1644.1 1200.6 1641.1C1271.1 1638.1 1523.1 1626.1 1593.6 1623.1C1664.1 1620.1 1618.6 1623.1 1623.6 1623.1L1623.6 1706.1C1618.6 1706.1 1664.1 1706.1 1593.6 1706.1C1523.1 1706.1 1271.1 1706.1 1200.6 1706.1C1130.1 1706.1 1175.6 1706.1 1170.6 1706.1Z" fill="#fff" fill-opacity="0.07" filter="url(#f51)"/>
<path d="M1170.6 1601.1C1175.6 1601.1 1187.27 1603.43 1200.6 1601.1C1213.93 1598.77 1233.93 1591.1 1250.6 1587.1C1267.27 1583.1 1275.6 1580.6 1300.6 1577.1C1325.6 1573.6 1367.27 1567.93 1400.6 1566.1C1433.93 1564.27 1468.43 1563.93 1500.6 1566.1C1532.77 1568.27 1573.1 1576.93 1593.6 1579.1C1614.1 1581.27 1618.6 1579.1 1623.6 1579.1L1623.6 1655.1C1618.6 1655.1 1614.1 1656.6 1593.6 1655.1C1573.1 1653.6 1532.77 1648.27 1500.6 1646.1C1468.43 1643.93 1427.27 1642.1 1400.6 1642.1C1373.93 1642.1 1360.6 1643.27 1340.6 1646.1C1320.6 1648.93 1297.27 1654.27 1280.6 1659.1C1263.93 1663.93 1250.6 1668.77 1240.6 1675.1C1230.6 1681.43 1227.27 1690.93 1220.6 1697.1C1213.93 1703.27 1208.93 1709.6 1200.6 1712.1C1192.27 1714.6 1175.6 1712.1 1170.6 1712.1Z" fill="#fff" fill-opacity="0.16" filter="url(#f52)"/>
<path d="M1170.6 1611.1C1175.6 1611.1 1187.27 1613.43 1200.6 1611.1C1213.93 1608.77 1233.93 1601.1 1250.6 1597.1C1267.27 1593.1 1275.6 1590.6 1300.6 1587.1C1325.6 1583.6 1367.27 1577.93 1400.6 1576.1C1433.93 1574.27 1468.43 1573.93 1500.6 1576.1C1532.77 1578.27 1573.1 1586.93 1593.6 1589.1C1614.1 1591.27 1618.6 1589.1 1623.6 1589.1L1623.6 1645.1C1618.6 1645.1 1614.1 1646.6 1593.6 1645.1C1573.1 1643.6 1532.77 1638.27 1500.6 1636.1C1468.43 1633.93 1427.27 1632.1 1400.6 1632.1C1373.93 1632.1 1360.6 1633.27 1340.6 1636.1C1320.6 1638.93 1297.27 1644.27 1280.6 1649.1C1263.93 1653.93 1250.6 1658.77 1240.6 1665.1C1230.6 1671.43 1227.27 1680.93 1220.6 1687.1C1213.93 1693.27 1208.93 1699.6 1200.6 1702.1C1192.27 1704.6 1175.6 1702.1 1170.6 1702.1Z" fill="#fff" fill-opacity="0.5" filter="url(#f53)"/>
<path d="M1170.6 1611.1C1175.6 1611.1 1187.27 1613.43 1200.6 1611.1C1213.93 1608.77 1233.93 1601.1 1250.6 1597.1C1267.27 1593.1 1275.6 1590.6 1300.6 1587.1C1325.6 1583.6 1367.27 1577.93 1400.6 1576.1C1433.93 1574.27 1468.43 1573.93 1500.6 1576.1C1532.77 1578.27 1573.1 1586.93 1593.6 1589.1C1614.1 1591.27 1618.6 1589.1 1623.6 1589.1L1623.6 1645.1C1618.6 1645.1 1614.1 1646.6 1593.6 1645.1C1573.1 1643.6 1532.77 1638.27 1500.6 1636.1C1468.43 1633.93 1427.27 1632.1 1400.6 1632.1C1373.93 1632.1 1360.6 1633.27 1340.6 1636.1C1320.6 1638.93 1297.27 1644.27 1280.6 1649.1C1263.93 1653.93 1250.6 1658.77 1240.6 1665.1C1230.6 1671.43 1227.27 1680.93 1220.6 1687.1C1213.93 1693.27 1208.93 1699.6 1200.6 1702.1C1192.27 1704.6 1175.6 1702.1 1170.6 1702.1Z" fill="#000" fill-opacity="1" filter="url(#f54)" style="mix-blend-mode:overlay"/>
<g mask="url(#m55)" opacity="0.36"><g filter="url(#f57)"><rect x="1195.6" y="1531.1" width="453" height="221.3" fill="url(#ph)" transform="translate(5 0)"/></g></g>
<rect x="1200.6" y="1531.1" width="393" height="161.3" filter="url(#f58)" opacity="0.4" style="mix-blend-mode:overlay"/>
<g fill="#000" filter="url(#f59)"><ellipse cx="1386.6" cy="1559.1" rx="6" ry="10" fill-opacity="0.6" transform="rotate(-30 1386.6 1559.1)"/><ellipse cx="1340.6" cy="1551.1" rx="5" ry="8" fill-opacity="0.4"/><ellipse cx="1480.6" cy="1551.1" rx="5" ry="5" fill-opacity="0.5"/><ellipse cx="1277.6" cy="1575.1" rx="5" ry="5" fill-opacity="0.5"/><ellipse cx="1300.6" cy="1578.1" rx="5" ry="4" fill-opacity="0.4"/><ellipse cx="1226.6" cy="1589.1" rx="4" ry="4" fill-opacity="0.4"/><ellipse cx="1468.6" cy="1651.1" rx="5" ry="10" fill-opacity="0.3"/><ellipse cx="1548.6" cy="1683.1" rx="3" ry="3" fill-opacity="0.6"/></g>
<text x="1586" y="1556" font-size="21.5" text-anchor="end" font-weight="bold" fill="#fff" stroke="#fff" stroke-width="0.09">ARC</text></g>
<g clip-path="url(#c22)"><rect x="1604" y="1531.1" width="393" height="161.3" fill="#18181e"/>
<rect x="1604" y="1531.1" width="393" height="161.3" filter="url(#f60)"/>
<path d="M1574 1641.1C1579 1641.1 1533.5 1644.1 1604 1641.1C1674.5 1638.1 1926.5 1626.1 1997 1623.1C2067.5 1620.1 2022 1623.1 2027 1623.1L2027 1706.1C2022 1706.1 2067.5 1706.1 1997 1706.1C1926.5 1706.1 1674.5 1706.1 1604 1706.1C1533.5 1706.1 1579 1706.1 1574 1706.1Z" fill="#fff" fill-opacity="0.07" filter="url(#f61)"/>
<path d="M1574 1601.1C1579 1601.1 1590.67 1603.43 1604 1601.1C1617.33 1598.77 1637.33 1591.1 1654 1587.1C1670.67 1583.1 1679 1580.6 1704 1577.1C1729 1573.6 1770.67 1567.93 1804 1566.1C1837.33 1564.27 1871.83 1563.93 1904 1566.1C1936.17 1568.27 1976.5 1576.93 1997 1579.1C2017.5 1581.27 2022 1579.1 2027 1579.1L2027 1655.1C2022 1655.1 2017.5 1656.6 1997 1655.1C1976.5 1653.6 1936.17 1648.27 1904 1646.1C1871.83 1643.93 1830.67 1642.1 1804 1642.1C1777.33 1642.1 1764 1643.27 1744 1646.1C1724 1648.93 1700.67 1654.27 1684 1659.1C1667.33 1663.93 1654 1668.77 1644 1675.1C1634 1681.43 1630.67 1690.93 1624 1697.1C1617.33 1703.27 1612.33 1709.6 1604 1712.1C1595.67 1714.6 1579 1712.1 1574 1712.1Z" fill="#fff" fill-opacity="0.16" filter="url(#f62)"/>
<path d="M1574 1611.1C1579 1611.1 1590.67 1613.43 1604 1611.1C1617.33 1608.77 1637.33 1601.1 1654 1597.1C1670.67 1593.1 1679 1590.6 1704 1587.1C1729 1583.6 1770.67 1577.93 1804 1576.1C1837.33 1574.27 1871.83 1573.93 1904 1576.1C1936.17 1578.27 1976.5 1586.93 1997 1589.1C2017.5 1591.27 2022 1589.1 2027 1589.1L2027 1645.1C2022 1645.1 2017.5 1646.6 1997 1645.1C1976.5 1643.6 1936.17 1638.27 1904 1636.1C1871.83 1633.93 1830.67 1632.1 1804 1632.1C1777.33 1632.1 1764 1633.27 1744 1636.1C1724 1638.93 1700.67 1644.27 1684 1649.1C1667.33 1653.93 1654 1658.77 1644 1665.1C1634 1671.43 1630.67 1680.93 1624 1687.1C1617.33 1693.27 1612.33 1699.6 1604 1702.1C1595.67 1704.6 1579 1702.1 1574 1702.1Z" fill="#fff" fill-opacity="0.5" filter="url(#f63)"/>
<path d="M1574 1611.1C1579 1611.1 1590.67 1613.43 1604 1611.1C1617.33 1608.77 1637.33 1601.1 1654 1597.1C1670.67 1593.1 1679 1590.6 1704 1587.1C1729 1583.6 1770.67 1577.93 1804 1576.1C1837.33 1574.27 1871.83 1573.93 1904 1576.1C1936.17 1578.27 1976.5 1586.93 1997 1589.1C2017.5 1591.27 2022 1589.1 2027 1589.1L2027 1645.1C2022 1645.1 2017.5 1646.6 1997 1645.1C1976.5 1643.6 1936.17 1638.27 1904 1636.1C1871.83 1633.93 1830.67 1632.1 1804 1632.1C1777.33 1632.1 1764 1633.27 1744 1636.1C1724 1638.93 1700.67 1644.27 1684 1649.1C1667.33 1653.93 1654 1658.77 1644 1665.1C1634 1671.43 1630.67 1680.93 1624 1687.1C1617.33 1693.27 1612.33 1699.6 1604 1702.1C1595.67 1704.6 1579 1702.1 1574 1702.1Z" fill="#000" fill-opacity="1" filter="url(#f64)" style="mix-blend-mode:overlay"/>
<g mask="url(#m65)" opacity="0.55"><g filter="url(#f67)"><rect x="1599" y="1531.1" width="453" height="221.3" fill="url(#ph)" transform="translate(5 0)"/></g></g>
<rect x="1604" y="1531.1" width="393" height="161.3" filter="url(#f68)" opacity="0.35" style="mix-blend-mode:overlay"/>
<g fill="#1818f0"><ellipse cx="1776.8" cy="1677.86" rx="2.84" ry="1.97" fill-opacity="0.77" transform="rotate(157.61 1776.8 1677.86)"/><ellipse cx="1788.18" cy="1667.17" rx="2.49" ry="2.43" fill-opacity="0.83" transform="rotate(108.88 1788.18 1667.17)"/><ellipse cx="1913.76" cy="1682.06" rx="2.66" ry="2.45" fill-opacity="0.77" transform="rotate(138.3 1913.76 1682.06)"/><ellipse cx="1896.76" cy="1662.91" rx="3.19" ry="2.74" fill-opacity="0.56" transform="rotate(103.17 1896.76 1662.91)"/><ellipse cx="1812.74" cy="1668.06" rx="3.36" ry="2.13" fill-opacity="0.64" transform="rotate(124.42 1812.74 1668.06)"/><ellipse cx="1701.52" cy="1576.09" rx="2.94" ry="1.72" fill-opacity="0.83" transform="rotate(148.63 1701.52 1576.09)"/><ellipse cx="1633.86" cy="1546.37" rx="2.46" ry="1.89" fill-opacity="0.71" transform="rotate(44.14 1633.86 1546.37)"/><ellipse cx="1804.68" cy="1664.96" rx="2.93" ry="1.66" fill-opacity="0.86" transform="rotate(52.07 1804.68 1664.96)"/><ellipse cx="1909.9" cy="1660.08" rx="3.12" ry="2" fill-opacity="0.66" transform="rotate(45.93 1909.9 1660.08)"/><ellipse cx="1699.01" cy="1663.83" rx="3.29" ry="2.64" fill-opacity="0.53" transform="rotate(6.17 1699.01 1663.83)"/><ellipse cx="1811.35" cy="1662.07" rx="3.21" ry="3.2" fill-opacity="0.66" transform="rotate(113.19 1811.35 1662.07)"/><ellipse cx="1754" cy="1691.1" rx="3.28" ry="2.37" fill-opacity="0.94" transform="rotate(171.81 1754 1691.1)"/><ellipse cx="1911.68" cy="1649.15" rx="2.47" ry="1.36" fill-opacity="0.63" transform="rotate(109.2 1911.68 1649.15)"/><ellipse cx="1911.21" cy="1537.68" rx="2.66" ry="2.16" fill-opacity="0.67" transform="rotate(135.73 1911.21 1537.68)"/><ellipse cx="1927.66" cy="1649.36" rx="2.89" ry="1.7" fill-opacity="0.63" transform="rotate(98.85 1927.66 1649.36)"/><ellipse cx="1989.28" cy="1667.17" rx="2.95" ry="2.54" fill-opacity="0.92" transform="rotate(141.93 1989.28 1667.17)"/><ellipse cx="1644.17" cy="1539.72" rx="3.18" ry="2.8" fill-opacity="0.88" transform="rotate(70.69 1644.17 1539.72)"/><ellipse cx="1617.07" cy="1555.55" rx="2.83" ry="1.88" fill-opacity="0.68" transform="rotate(20.34 1617.07 1555.55)"/><ellipse cx="1993.35" cy="1569.81" rx="2.91" ry="2.04" fill-opacity="0.54" transform="rotate(68.89 1993.35 1569.81)"/><ellipse cx="1671.67" cy="1551.23" rx="2.49" ry="1.9" fill-opacity="0.51" transform="rotate(163.61 1671.67 1551.23)"/><ellipse cx="1795.22" cy="1687.88" rx="2.95" ry="1.89" fill-opacity="0.88" transform="rotate(47.03 1795.22 1687.88)"/><ellipse cx="1608.43" cy="1536.02" rx="2.53" ry="1.72" fill-opacity="0.74" transform="rotate(177.25 1608.43 1536.02)"/><ellipse cx="1720.62" cy="1672.66" rx="3.39" ry="2.69" fill-opacity="0.66" transform="rotate(135.6 1720.62 1672.66)"/><ellipse cx="1924.58" cy="1562.49" rx="3.13" ry="2.03" fill-opacity="0.6" transform="rotate(127.95 1924.58 1562.49)"/><ellipse cx="1796.12" cy="1666.1" rx="2.85" ry="1.65" fill-opacity="0.82" transform="rotate(61.1 1796.12 1666.1)"/><ellipse cx="1638.19" cy="1562.4" rx="2.51" ry="2.27" fill-opacity="0.56" transform="rotate(47.83 1638.19 1562.4)"/><ellipse cx="1834.29" cy="1655.24" rx="3.03" ry="2.78" fill-opacity="0.83" transform="rotate(43.31 1834.29 1655.24)"/><ellipse cx="1663.22" cy="1574.4" rx="2.95" ry="1.9" fill-opacity="0.67" transform="rotate(80.88 1663.22 1574.4)"/><ellipse cx="1816.74" cy="1560.22" rx="3.02" ry="2.65" fill-opacity="0.65" transform="rotate(87.96 1816.74 1560.22)"/><ellipse cx="1681.12" cy="1667.6" rx="3.34" ry="3.01" fill-opacity="0.87" transform="rotate(57.57 1681.12 1667.6)"/><ellipse cx="1765.62" cy="1567.47" rx="2.85" ry="1.58" fill-opacity="0.75" transform="rotate(16.47 1765.62 1567.47)"/><ellipse cx="1971.97" cy="1685.52" rx="3.08" ry="2.08" fill-opacity="0.87" transform="rotate(0.07 1971.97 1685.52)"/><ellipse cx="1895.12" cy="1549.08" rx="3.14" ry="2.46" fill-opacity="0.86" transform="rotate(53.3 1895.12 1549.08)"/><ellipse cx="1656.54" cy="1678.13" rx="3.12" ry="2.33" fill-opacity="0.95" transform="rotate(20 1656.54 1678.13)"/></g>
<g fill="#000" filter="url(#f69)"><ellipse cx="1790" cy="1559.1" rx="6" ry="10" fill-opacity="0.6" transform="rotate(-30 1790 1559.1)"/><ellipse cx="1884" cy="1551.1" rx="5" ry="5" fill-opacity="0.5"/><ellipse cx="1681" cy="1575.1" rx="5" ry="5" fill-opacity="0.5"/><ellipse cx="1872" cy="1651.1" rx="5" ry="10" fill-opacity="0.3"/></g>
<text x="1989.4" y="1556" font-size="21.5" text-anchor="end" font-weight="bold" fill="#fff" stroke="#fff" stroke-width="0.09">Merge</text></g>
<g clip-path="url(#c03)"><rect x="795" y="1698" width="393" height="161.3" fill="#060606"/>
<rect x="795" y="1698" width="393" height="161.3" filter="url(#f70)"/>
<path d="M765 1791C770 1791 783.33 1793 795 1791C806.67 1789 821.67 1783.17 835 1779C848.33 1774.83 861.67 1769.83 875 1766C888.33 1762.17 898.33 1757 915 1756C931.67 1755 955 1760 975 1760C995 1760 1016.67 1757.67 1035 1756C1053.33 1754.33 1068.33 1751.67 1085 1750C1101.67 1748.33 1117.83 1748 1135 1746C1152.17 1744 1174.17 1739.33 1188 1738C1201.83 1736.67 1213 1738 1218 1738L1218 1832C1213 1832 1196.83 1834.17 1188 1832C1179.17 1829.83 1175.5 1821.83 1165 1819C1154.5 1816.17 1138.33 1813.5 1125 1815C1111.67 1816.5 1100 1825.17 1085 1828C1070 1830.83 1050 1829 1035 1832C1020 1835 1010 1841.83 995 1846C980 1850.17 955 1853 945 1857C935 1861 960 1867.83 935 1870C910 1872.17 823.33 1870 795 1870C766.67 1870 770 1870 765 1870Z" fill="#fff" fill-opacity="0.05" filter="url(#f71)"/>
<g mask="url(#m72)"><g filter="url(#f74)"><rect x="725" y="1676" width="453" height="221.3" fill="url(#pc)" transform="translate(70 22)"/></g></g>
<path d="M765 1790C770 1790 783.33 1792 795 1790C806.67 1788 821.67 1782.17 835 1778C848.33 1773.83 861.67 1768.83 875 1765C888.33 1761.17 898.33 1756 915 1755C931.67 1754 955 1759 975 1759C995 1759 1016.67 1756.67 1035 1755C1053.33 1753.33 1068.33 1750.67 1085 1749C1101.67 1747.33 1117.83 1747 1135 1745C1152.17 1743 1174.17 1738.33 1188 1737C1201.83 1735.67 1213 1737 1218 1737L1218 1833C1213 1833 1196.83 1835.17 1188 1833C1179.17 1830.83 1175.5 1822.83 1165 1820C1154.5 1817.17 1138.33 1814.5 1125 1816C1111.67 1817.5 1100 1826.17 1085 1829C1070 1831.83 1050 1830 1035 1833C1020 1836 1010 1842.83 995 1847C980 1851.17 955 1854 945 1858C935 1862 960 1868.83 935 1871C910 1873.17 823.33 1871 795 1871C766.67 1871 770 1871 765 1871Z" fill="#000" fill-opacity="1" filter="url(#f75)" style="mix-blend-mode:screen"/>
<g fill="#b4b4b4"><ellipse cx="970.15" cy="1722.05" rx="2.87" ry="2.11" fill-opacity="0.39" transform="rotate(22.92 970.15 1722.05)"/><ellipse cx="1036.86" cy="1724.42" rx="3.13" ry="2.7" fill-opacity="0.74" transform="rotate(138.31 1036.86 1724.42)"/><ellipse cx="913.6" cy="1714.08" rx="2.98" ry="2.08" fill-opacity="0.67" transform="rotate(106.39 913.6 1714.08)"/><ellipse cx="904.08" cy="1747.14" rx="3.26" ry="2.97" fill-opacity="0.45" transform="rotate(16.07 904.08 1747.14)"/><ellipse cx="953.72" cy="1748.28" rx="2.85" ry="2.02" fill-opacity="0.58" transform="rotate(73.65 953.72 1748.28)"/><ellipse cx="820.65" cy="1736.27" rx="3.32" ry="2.73" fill-opacity="0.65" transform="rotate(133.56 820.65 1736.27)"/><ellipse cx="1150.14" cy="1706.05" rx="2.47" ry="1.54" fill-opacity="0.33" transform="rotate(55.14 1150.14 1706.05)"/><ellipse cx="1097.91" cy="1736.86" rx="2.83" ry="1.91" fill-opacity="0.66" transform="rotate(172.33 1097.91 1736.86)"/><ellipse cx="824.07" cy="1708.4" rx="2.48" ry="2.43" fill-opacity="0.54" transform="rotate(17.54 824.07 1708.4)"/><ellipse cx="833.59" cy="1713.54" rx="2.72" ry="2.25" fill-opacity="0.34" transform="rotate(57.48 833.59 1713.54)"/><ellipse cx="1135.27" cy="1707.89" rx="2.64" ry="2.55" fill-opacity="0.58" transform="rotate(133.46 1135.27 1707.89)"/><ellipse cx="1073.73" cy="1723.91" rx="3.1" ry="2.19" fill-opacity="0.58" transform="rotate(68.42 1073.73 1723.91)"/><ellipse cx="904.11" cy="1718.21" rx="3.13" ry="1.78" fill-opacity="0.64" transform="rotate(32.86 904.11 1718.21)"/><ellipse cx="807.81" cy="1708.4" rx="3.11" ry="2.25" fill-opacity="0.36" transform="rotate(6.94 807.81 1708.4)"/><ellipse cx="1080.75" cy="1728.64" rx="3.04" ry="2.9" fill-opacity="0.62" transform="rotate(178.73 1080.75 1728.64)"/><ellipse cx="1148.84" cy="1732.8" rx="2.93" ry="2.16" fill-opacity="0.71" transform="rotate(34.71 1148.84 1732.8)"/><ellipse cx="1139.61" cy="1709.26" rx="2.59" ry="2.36" fill-opacity="0.42" transform="rotate(7.47 1139.61 1709.26)"/><ellipse cx="1133.49" cy="1721.86" rx="2.69" ry="1.65" fill-opacity="0.62" transform="rotate(50.6 1133.49 1721.86)"/><ellipse cx="942.26" cy="1748.77" rx="3.07" ry="2.51" fill-opacity="0.52" transform="rotate(74.02 942.26 1748.77)"/><ellipse cx="1133.81" cy="1728.38" rx="2.6" ry="1.68" fill-opacity="0.37" transform="rotate(52.19 1133.81 1728.38)"/><ellipse cx="1180.89" cy="1711.14" rx="3.18" ry="2.58" fill-opacity="0.42" transform="rotate(179.5 1180.89 1711.14)"/><ellipse cx="1140.08" cy="1709.91" rx="2.66" ry="2.02" fill-opacity="0.58" transform="rotate(154.52 1140.08 1709.91)"/><ellipse cx="1100.45" cy="1739.63" rx="2.46" ry="1.49" fill-opacity="0.36" transform="rotate(53.71 1100.45 1739.63)"/><ellipse cx="1163.71" cy="1708.29" rx="2.43" ry="2.11" fill-opacity="0.51" transform="rotate(61.93 1163.71 1708.29)"/><ellipse cx="978.92" cy="1727.79" rx="3.06" ry="2.94" fill-opacity="0.68" transform="rotate(153.67 978.92 1727.79)"/><ellipse cx="898.72" cy="1715.26" rx="3.1" ry="2.4" fill-opacity="0.38" transform="rotate(175.63 898.72 1715.26)"/><ellipse cx="799.58" cy="1714.7" rx="3.16" ry="2.54" fill-opacity="0.68" transform="rotate(32.16 799.58 1714.7)"/><ellipse cx="1029.3" cy="1712.68" rx="3.12" ry="2.13" fill-opacity="0.41" transform="rotate(73.58 1029.3 1712.68)"/><ellipse cx="823.82" cy="1746.99" rx="3.07" ry="2.75" fill-opacity="0.32" transform="rotate(49.62 823.82 1746.99)"/><ellipse cx="1030.94" cy="1703.97" rx="3.32" ry="1.83" fill-opacity="0.51" transform="rotate(147.99 1030.94 1703.97)"/><ellipse cx="963.73" cy="1728.92" rx="2.43" ry="2.01" fill-opacity="0.55" transform="rotate(89.94 963.73 1728.92)"/><ellipse cx="802.45" cy="1729.45" rx="2.96" ry="1.63" fill-opacity="0.37" transform="rotate(98.71 802.45 1729.45)"/><ellipse cx="1172.61" cy="1704.18" rx="2.99" ry="1.71" fill-opacity="0.58" transform="rotate(68.28 1172.61 1704.18)"/><ellipse cx="1055.61" cy="1705.15" rx="3.05" ry="2.54" fill-opacity="0.35" transform="rotate(1.42 1055.61 1705.15)"/><ellipse cx="832.59" cy="1768.78" rx="3.1" ry="1.97" fill-opacity="0.58" transform="rotate(18.71 832.59 1768.78)"/><ellipse cx="799.4" cy="1722.8" rx="2.86" ry="1.58" fill-opacity="0.49" transform="rotate(4.72 799.4 1722.8)"/><ellipse cx="847.38" cy="1764.13" rx="2.79" ry="2.61" fill-opacity="0.45" transform="rotate(71.31 847.38 1764.13)"/><ellipse cx="999.9" cy="1713.41" rx="2.54" ry="2.46" fill-opacity="0.73" transform="rotate(73.03 999.9 1713.41)"/><ellipse cx="866.8" cy="1751.09" rx="3.11" ry="2.85" fill-opacity="0.63" transform="rotate(39.18 866.8 1751.09)"/><ellipse cx="846.12" cy="1742.21" rx="3.36" ry="2.42" fill-opacity="0.53" transform="rotate(101.67 846.12 1742.21)"/><ellipse cx="920.26" cy="1701.76" rx="2.99" ry="2.84" fill-opacity="0.74" transform="rotate(122.47 920.26 1701.76)"/><ellipse cx="846.06" cy="1719.85" rx="3.27" ry="1.81" fill-opacity="0.31" transform="rotate(51.48 846.06 1719.85)"/><ellipse cx="899.54" cy="1707.72" rx="2.72" ry="2.38" fill-opacity="0.59" transform="rotate(120.85 899.54 1707.72)"/><ellipse cx="821.05" cy="1749.08" rx="3.3" ry="2.51" fill-opacity="0.69" transform="rotate(147.25 821.05 1749.08)"/><ellipse cx="829.24" cy="1756.28" rx="2.44" ry="2.01" fill-opacity="0.74" transform="rotate(106.33 829.24 1756.28)"/><ellipse cx="1062.21" cy="1717.05" rx="2.45" ry="2.29" fill-opacity="0.73" transform="rotate(81.49 1062.21 1717.05)"/><ellipse cx="1160.23" cy="1839.26" rx="3.31" ry="2.08" fill-opacity="0.73" transform="rotate(142.23 1160.23 1839.26)"/><ellipse cx="1155.93" cy="1843.55" rx="3.22" ry="2.22" fill-opacity="0.37" transform="rotate(112.63 1155.93 1843.55)"/><ellipse cx="1176.9" cy="1847.18" rx="2.9" ry="2.54" fill-opacity="0.37" transform="rotate(169.68 1176.9 1847.18)"/><ellipse cx="1066.84" cy="1845.09" rx="2.85" ry="2.2" fill-opacity="0.34" transform="rotate(148.87 1066.84 1845.09)"/><ellipse cx="1134.23" cy="1833.87" rx="2.84" ry="2.12" fill-opacity="0.3" transform="rotate(130.79 1134.23 1833.87)"/><ellipse cx="1114.21" cy="1855.92" rx="3.09" ry="2.71" fill-opacity="0.38" transform="rotate(106.93 1114.21 1855.92)"/><ellipse cx="1147.87" cy="1833.71" rx="3.16" ry="2.01" fill-opacity="0.63" transform="rotate(164.46 1147.87 1833.71)"/><ellipse cx="1166.77" cy="1830.08" rx="2.94" ry="1.91" fill-opacity="0.57" transform="rotate(106.55 1166.77 1830.08)"/><ellipse cx="1185.35" cy="1848.83" rx="3.32" ry="2.75" fill-opacity="0.33" transform="rotate(143.03 1185.35 1848.83)"/><ellipse cx="1061.58" cy="1842.94" rx="2.96" ry="2.1" fill-opacity="0.53" transform="rotate(6.22 1061.58 1842.94)"/><ellipse cx="1177.77" cy="1847.53" rx="3.19" ry="3.17" fill-opacity="0.66" transform="rotate(172.94 1177.77 1847.53)"/><ellipse cx="1171.75" cy="1831.32" rx="3.32" ry="2.52" fill-opacity="0.41" transform="rotate(14.2 1171.75 1831.32)"/><ellipse cx="1160.27" cy="1854.41" rx="3.27" ry="3.08" fill-opacity="0.5" transform="rotate(176.57 1160.27 1854.41)"/><ellipse cx="1129.39" cy="1837.71" rx="2.58" ry="1.68" fill-opacity="0.48" transform="rotate(43.74 1129.39 1837.71)"/><ellipse cx="1180.19" cy="1848.44" rx="2.57" ry="1.84" fill-opacity="0.67" transform="rotate(118.53 1180.19 1848.44)"/><ellipse cx="1043.68" cy="1848.51" rx="2.94" ry="2.9" fill-opacity="0.56" transform="rotate(23.8 1043.68 1848.51)"/></g>
<text x="1180.4" y="1723" font-size="21.5" text-anchor="end" font-weight="bold" fill="#fff" stroke="#fff" stroke-width="0.09">DAPI</text></g>
<g clip-path="url(#c13)"><rect x="1200.6" y="1698" width="393" height="161.3" fill="#303030"/>
<rect x="1200.6" y="1698" width="393" height="161.3" filter="url(#f76)"/>
<path d="M1170.6 1786C1175.6 1786 1185.6 1789 1200.6 1786C1215.6 1783 1240.6 1772.67 1260.6 1768C1280.6 1763.33 1297.27 1760 1320.6 1758C1343.93 1756 1370.6 1757.33 1400.6 1756C1430.6 1754.67 1468.43 1752.67 1500.6 1750C1532.77 1747.33 1573.1 1741.67 1593.6 1740C1614.1 1738.33 1618.6 1740 1623.6 1740L1623.6 1873C1618.6 1873 1664.1 1873 1593.6 1873C1523.1 1873 1271.1 1873 1200.6 1873C1130.1 1873 1175.6 1873 1170.6 1873Z" fill="#fff" fill-opacity="0.2" filter="url(#f77)"/>
<path d="M1170.6 1773C1175.6 1773 1185.6 1776 1200.6 1773C1215.6 1770 1240.6 1759.67 1260.6 1755C1280.6 1750.33 1297.27 1747 1320.6 1745C1343.93 1743 1370.6 1744.33 1400.6 1743C1430.6 1741.67 1468.43 1739.67 1500.6 1737C1532.77 1734.33 1573.1 1728.67 1593.6 1727C1614.1 1725.33 1618.6 1727 1623.6 1727L1623.6 1784C1618.6 1784 1614.1 1782.33 1593.6 1784C1573.1 1785.67 1532.77 1791.33 1500.6 1794C1468.43 1796.67 1430.6 1798.67 1400.6 1800C1370.6 1801.33 1343.93 1800 1320.6 1802C1297.27 1804 1280.6 1807.33 1260.6 1812C1240.6 1816.67 1215.6 1827 1200.6 1830C1185.6 1833 1175.6 1830 1170.6 1830Z" fill="#fff" fill-opacity="0.42" filter="url(#f78)"/>
<g mask="url(#m79)" opacity="0.85"><g filter="url(#f81)"><rect x="1169.6" y="1686" width="453" height="221.3" fill="url(#ph)" transform="translate(31 12)"/></g></g>
<rect x="1200.6" y="1698" width="393" height="161.3" filter="url(#f82)" opacity="0.4" style="mix-blend-mode:overlay"/>
<path d="M1170.6 1830C1175.6 1830 1130.1 1830 1200.6 1830C1271.1 1830 1523.1 1830 1593.6 1830C1664.1 1830 1618.6 1830 1623.6 1830L1623.6 1873C1618.6 1873 1664.1 1873 1593.6 1873C1523.1 1873 1271.1 1873 1200.6 1873C1130.1 1873 1175.6 1873 1170.6 1873Z" fill="#000" fill-opacity="0.2" filter="url(#f83)"/>
<path d="M1250.6 1848C1255.6 1848 1262.27 1850 1280.6 1848C1298.93 1846 1332.27 1838.5 1360.6 1836C1388.93 1833.5 1427.27 1831 1450.6 1833C1473.93 1835 1487.27 1845.5 1500.6 1848C1513.93 1850.5 1525.6 1848 1530.6 1848L1530.6 1873C1525.6 1873 1542.27 1873 1500.6 1873C1458.93 1873 1322.27 1873 1280.6 1873C1238.93 1873 1255.6 1873 1250.6 1873Z" fill="#000" fill-opacity="0.5" filter="url(#f84)"/>
<g fill="#fff" filter="url(#f85)"><ellipse cx="1540.6" cy="1810" rx="4" ry="5" fill-opacity="0.7"/><ellipse cx="1360.6" cy="1843" rx="3" ry="4" fill-opacity="0.8"/><ellipse cx="1350.6" cy="1856" rx="2" ry="3" fill-opacity="0.9"/><ellipse cx="1450.6" cy="1848" rx="3" ry="1.5" fill-opacity="0.9"/><ellipse cx="1530.6" cy="1850" rx="14" ry="2" fill-opacity="0.8" transform="rotate(-10 1530.6 1850)"/><ellipse cx="1570.6" cy="1848" rx="12" ry="2" fill-opacity="0.8" transform="rotate(10 1570.6 1848)"/><ellipse cx="1550.6" cy="1856" rx="18" ry="2" fill-opacity="0.7"/></g>
<g fill="#000" filter="url(#f86)"><ellipse cx="1265.6" cy="1746" rx="3" ry="12" fill-opacity="0.5"/><ellipse cx="1450.6" cy="1728" rx="3" ry="12" fill-opacity="0.4" transform="rotate(10 1450.6 1728)"/><ellipse cx="1415.6" cy="1718" rx="4" ry="6" fill-opacity="0.4"/><ellipse cx="1255.6" cy="1726" rx="4" ry="4" fill-opacity="0.4"/></g>
<text x="1586" y="1723" font-size="21.5" text-anchor="end" font-weight="bold" fill="#fff" stroke="#fff" stroke-width="0.09">ARC</text></g>
<g clip-path="url(#c23)"><rect x="1604" y="1698" width="393" height="161.3" fill="#2c2c34"/>
<rect x="1604" y="1698" width="393" height="161.3" filter="url(#f87)"/>
<path d="M1574 1786C1579 1786 1589 1789 1604 1786C1619 1783 1644 1772.67 1664 1768C1684 1763.33 1700.67 1760 1724 1758C1747.33 1756 1774 1757.33 1804 1756C1834 1754.67 1871.83 1752.67 1904 1750C1936.17 1747.33 1976.5 1741.67 1997 1740C2017.5 1738.33 2022 1740 2027 1740L2027 1873C2022 1873 2067.5 1873 1997 1873C1926.5 1873 1674.5 1873 1604 1873C1533.5 1873 1579 1873 1574 1873Z" fill="#fff" fill-opacity="0.2" filter="url(#f88)"/>
<path d="M1574 1773C1579 1773 1589 1776 1604 1773C1619 1770 1644 1759.67 1664 1755C1684 1750.33 1700.67 1747 1724 1745C1747.33 1743 1774 1744.33 1804 1743C1834 1741.67 1871.83 1739.67 1904 1737C1936.17 1734.33 1976.5 1728.67 1997 1727C2017.5 1725.33 2022 1727 2027 1727L2027 1784C2022 1784 2017.5 1782.33 1997 1784C1976.5 1785.67 1936.17 1791.33 1904 1794C1871.83 1796.67 1834 1798.67 1804 1800C1774 1801.33 1747.33 1800 1724 1802C1700.67 1804 1684 1807.33 1664 1812C1644 1816.67 1619 1827 1604 1830C1589 1833 1579 1830 1574 1830Z" fill="#fff" fill-opacity="0.42" filter="url(#f89)"/>
<g mask="url(#m90)" opacity="0.95"><g filter="url(#f92)"><rect x="1573" y="1686" width="453" height="221.3" fill="url(#ph)" transform="translate(31 12)"/></g></g>
<rect x="1604" y="1698" width="393" height="161.3" filter="url(#f93)" opacity="0.4" style="mix-blend-mode:overlay"/>
<path d="M1574 1830C1579 1830 1533.5 1830 1604 1830C1674.5 1830 1926.5 1830 1997 1830C2067.5 1830 2022 1830 2027 1830L2027 1873C2022 1873 2067.5 1873 1997 1873C1926.5 1873 1674.5 1873 1604 1873C1533.5 1873 1579 1873 1574 1873Z" fill="#000" fill-opacity="0.2" filter="url(#f94)"/>
<path d="M1654 1848C1659 1848 1665.67 1850 1684 1848C1702.33 1846 1735.67 1838.5 1764 1836C1792.33 1833.5 1830.67 1831 1854 1833C1877.33 1835 1890.67 1845.5 1904 1848C1917.33 1850.5 1929 1848 1934 1848L1934 1873C1929 1873 1945.67 1873 1904 1873C1862.33 1873 1725.67 1873 1684 1873C1642.33 1873 1659 1873 1654 1873Z" fill="#000" fill-opacity="0.5" filter="url(#f95)"/>
<g fill="#fff" filter="url(#f96)"><ellipse cx="1944" cy="1810" rx="4" ry="5" fill-opacity="0.7"/><ellipse cx="1764" cy="1843" rx="3" ry="4" fill-opacity="0.8"/><ellipse cx="1754" cy="1856" rx="2" ry="3" fill-opacity="0.9"/><ellipse cx="1854" cy="1848" rx="3" ry="1.5" fill-opacity="0.9"/><ellipse cx="1934" cy="1850" rx="14" ry="2" fill-opacity="0.8" transform="rotate(-10 1934 1850)"/><ellipse cx="1974" cy="1848" rx="12" ry="2" fill-opacity="0.8" transform="rotate(10 1974 1848)"/><ellipse cx="1954" cy="1856" rx="18" ry="2" fill-opacity="0.7"/></g>
<g fill="#1818f0"><ellipse cx="1843.72" cy="1740.75" rx="3.1" ry="3.01" fill-opacity="0.6" transform="rotate(112.69 1843.72 1740.75)"/><ellipse cx="1860.43" cy="1714.26" rx="3.38" ry="2.23" fill-opacity="0.72" transform="rotate(36.66 1860.43 1714.26)"/><ellipse cx="1720.24" cy="1713.88" rx="2.65" ry="1.56" fill-opacity="0.72" transform="rotate(145.96 1720.24 1713.88)"/><ellipse cx="1913.67" cy="1734.21" rx="3.26" ry="1.86" fill-opacity="0.59" transform="rotate(164.02 1913.67 1734.21)"/><ellipse cx="1760.87" cy="1739.02" rx="3.11" ry="2.68" fill-opacity="0.77" transform="rotate(150.71 1760.87 1739.02)"/><ellipse cx="1917.81" cy="1730.07" rx="2.57" ry="2.3" fill-opacity="0.73" transform="rotate(51.22 1917.81 1730.07)"/><ellipse cx="1695.41" cy="1715.02" rx="2.76" ry="2.37" fill-opacity="0.72" transform="rotate(144.64 1695.41 1715.02)"/><ellipse cx="1627.86" cy="1734.74" rx="2.9" ry="2.5" fill-opacity="0.74" transform="rotate(40.29 1627.86 1734.74)"/><ellipse cx="1693.35" cy="1725.84" rx="2.5" ry="1.81" fill-opacity="0.83" transform="rotate(68.96 1693.35 1725.84)"/><ellipse cx="1679.76" cy="1726.26" rx="3.27" ry="2.21" fill-opacity="0.9" transform="rotate(65.32 1679.76 1726.26)"/><ellipse cx="1622.38" cy="1714.8" rx="3" ry="1.72" fill-opacity="0.58" transform="rotate(129.83 1622.38 1714.8)"/><ellipse cx="1654.8" cy="1701.84" rx="3.06" ry="1.74" fill-opacity="0.52" transform="rotate(33.23 1654.8 1701.84)"/><ellipse cx="1690.57" cy="1739.94" rx="3.06" ry="1.77" fill-opacity="0.83" transform="rotate(30.95 1690.57 1739.94)"/><ellipse cx="1857.96" cy="1727.38" rx="3.14" ry="2.82" fill-opacity="0.66" transform="rotate(7.96 1857.96 1727.38)"/><ellipse cx="1661.49" cy="1741.36" rx="3.06" ry="2.51" fill-opacity="0.78" transform="rotate(150.99 1661.49 1741.36)"/><ellipse cx="1762.01" cy="1703.32" rx="2.92" ry="2.75" fill-opacity="0.88" transform="rotate(4.32 1762.01 1703.32)"/></g>
<text x="1989.4" y="1723" font-size="21.5" text-anchor="end" font-weight="bold" fill="#fff" stroke="#fff" stroke-width="0.09">Merge</text></g>
</g>
</svg>
</body></html>
